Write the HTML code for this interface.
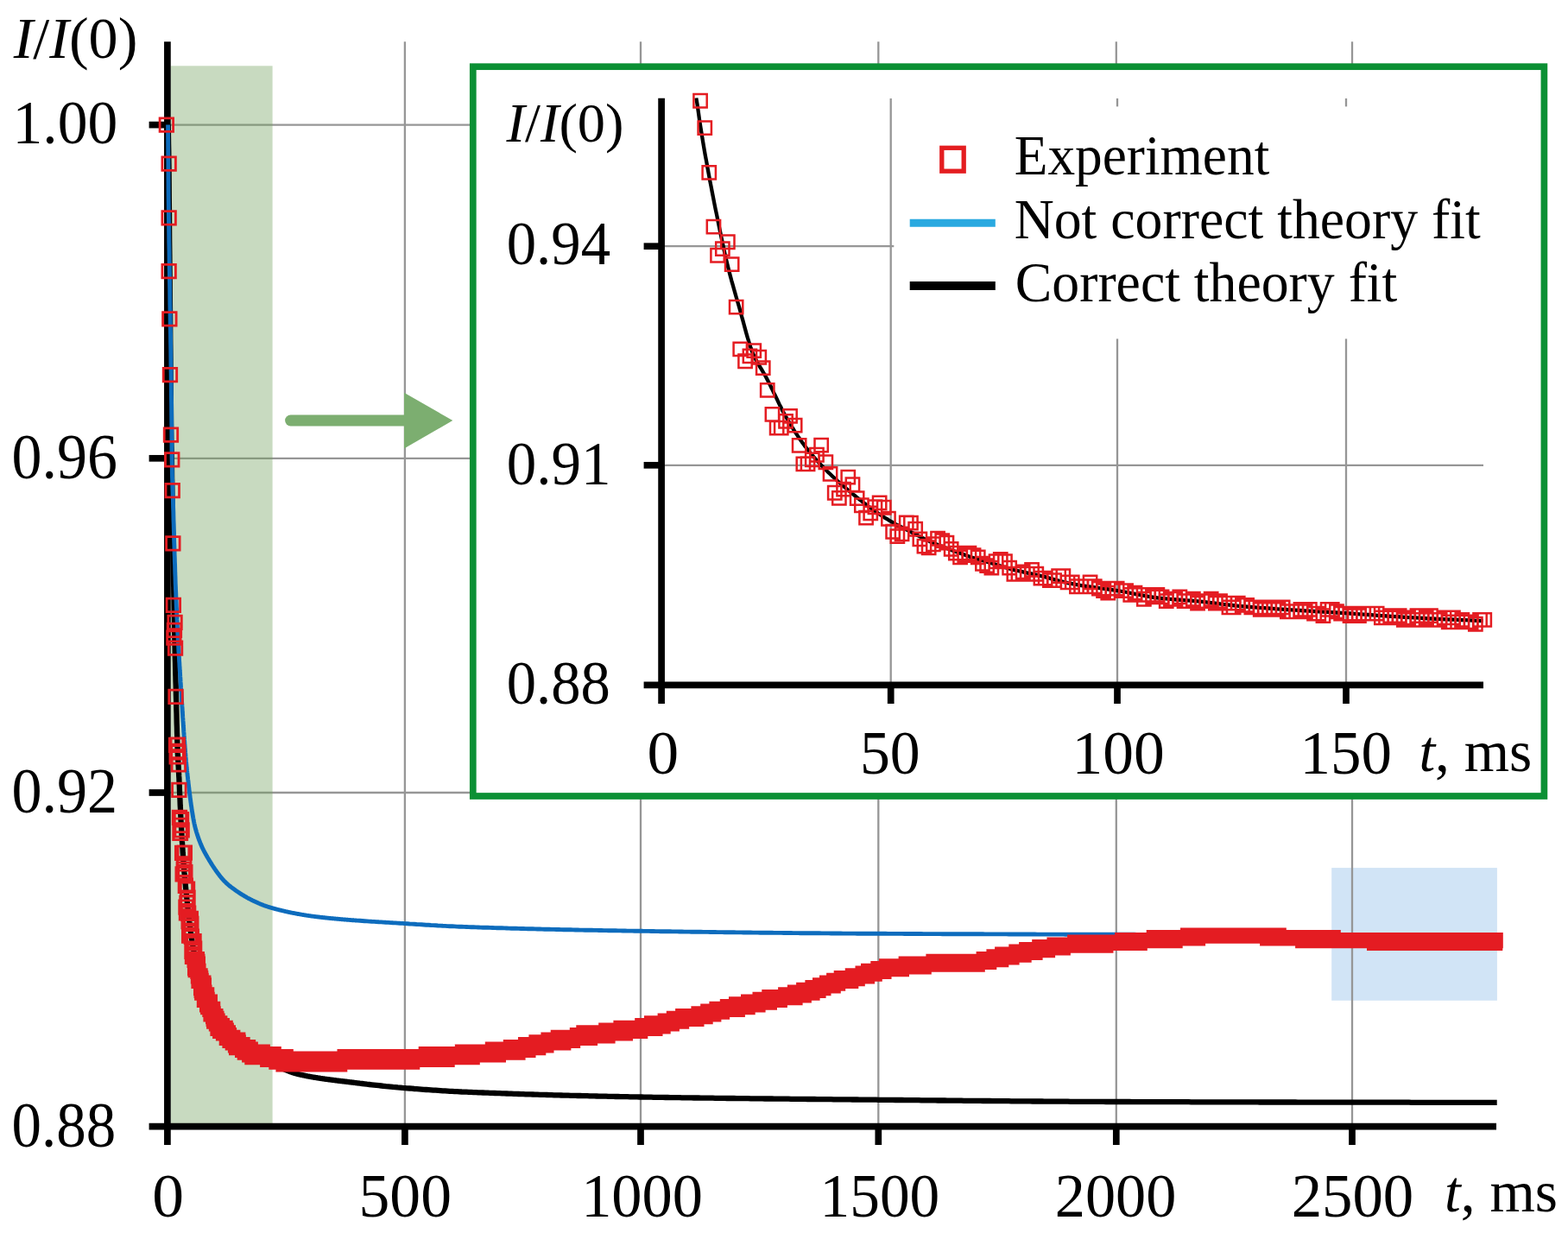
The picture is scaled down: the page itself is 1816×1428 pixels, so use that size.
<!DOCTYPE html>
<html lang="en"><head><meta charset="utf-8"><title>I/I(0) relaxation: experiment and theory fits</title>
<style>html,body{margin:0;padding:0;background:#fff;}body{width:1816px;height:1428px;overflow:hidden;}svg{display:block;}text{font-family:"Liberation Serif","DejaVu Serif",serif;fill:#000;}.i{font-style:italic;}</style></head><body>
<svg width="1816" height="1428" viewBox="0 0 1816 1428">
<defs><filter id="soft" x="-2%" y="-2%" width="104%" height="104%"><feGaussianBlur stdDeviation="0.65"/></filter></defs>
<rect width="1816" height="1428" fill="#fff"/>
<rect x="1542.2" y="1005.1" width="191.7" height="153.7" fill="#d1e4f6"/>
<g stroke="#969696" stroke-width="2.3" fill="none">
<line x1="468.9" y1="48.3" x2="468.9" y2="1304.7"/>
<line x1="742.0" y1="48.3" x2="742.0" y2="1304.7"/>
<line x1="1017.3" y1="48.3" x2="1017.3" y2="1304.7"/>
<line x1="1292.8" y1="48.3" x2="1292.8" y2="1304.7"/>
<line x1="1566.0" y1="48.3" x2="1566.0" y2="1304.7"/>
<line x1="193.9" y1="144.6" x2="1733" y2="144.6"/>
<line x1="193.9" y1="530.8" x2="1733" y2="530.8"/>
<line x1="193.9" y1="918.0" x2="1733" y2="918.0"/>
</g>
<rect x="197.6" y="76.3" width="118.0" height="1224.7" fill="#6f9d5a" fill-opacity="0.38"/>
<g stroke="#000" stroke-width="7.7" fill="none">
<line x1="193.9" y1="48.3" x2="193.9" y2="1326"/>
<line x1="172.6" y1="1304.7" x2="1733" y2="1304.7"/>
<line x1="468.9" y1="1304.7" x2="468.9" y2="1326"/>
<line x1="742.0" y1="1304.7" x2="742.0" y2="1326"/>
<line x1="1017.3" y1="1304.7" x2="1017.3" y2="1326"/>
<line x1="1292.8" y1="1304.7" x2="1292.8" y2="1326"/>
<line x1="1566.0" y1="1304.7" x2="1566.0" y2="1326"/>
<line x1="172.6" y1="144.6" x2="193.9" y2="144.6"/>
<line x1="172.6" y1="530.8" x2="193.9" y2="530.8"/>
<line x1="172.6" y1="918.0" x2="193.9" y2="918.0"/>
</g>
<path d="M194.6,144.6 L194.7,147.3 L194.9,152.1 L195.0,158.7 L195.1,166.7 L195.3,175.8 L195.4,185.6 L195.6,196.7 L195.7,212.0 L195.8,229.6 L196.0,247.2 L196.1,263.3 L196.2,279.3 L196.4,295.1 L196.5,310.5 L196.7,325.1 L196.8,338.8 L196.9,352.5 L197.1,366.9 L197.2,382.4 L197.3,398.8 L197.5,415.7 L197.6,432.8 L197.8,451.6 L197.9,472.2 L198.0,490.7 L198.2,503.5 L198.3,510.7 L198.4,515.8 L198.6,520.4 L198.7,525.9 L198.9,533.6 L199.0,543.5 L199.1,554.4 L199.3,564.9 L199.4,574.3 L199.5,583.4 L199.7,592.3 L199.8,600.9 L199.9,609.5 L200.1,617.8 L200.2,626.1 L200.4,634.2 L200.5,642.1 L200.6,649.9 L200.8,657.7 L200.9,665.3 L201.0,672.8 L201.2,680.2 L201.3,687.6 L201.5,694.9 L201.6,702.1 L201.7,709.4 L201.9,716.6 L202.0,723.7 L202.1,730.7 L202.3,737.5 L202.4,744.0 L202.6,750.2 L202.7,756.2 L202.8,762.0 L203.0,767.6 L203.1,773.1 L203.2,778.5 L203.4,783.8 L203.5,789.1 L203.7,794.3 L203.8,799.5 L203.9,804.7 L204.1,810.1 L204.2,815.5 L204.3,821.1 L204.5,826.7 L204.6,832.2 L204.7,837.7 L204.9,843.0 L205.0,848.2 L205.2,853.1 L205.3,857.7 L205.4,861.9 L205.6,865.8 L205.7,869.2 L205.8,872.4 L206.0,875.4 L206.1,878.2 L206.3,880.8 L206.4,883.3 L206.5,885.8 L206.7,888.2 L206.8,890.7 L206.9,893.2 L207.1,895.9 L207.2,898.7 L207.4,901.5 L207.5,904.5 L207.6,907.5 L207.8,910.6 L207.9,913.7 L208.0,916.8 L208.2,919.9 L208.3,923.1 L208.5,926.2 L208.6,929.4 L208.7,932.5 L208.9,935.5 L209.0,938.6 L209.1,941.5 L209.3,944.4 L209.4,947.2 L209.5,950.0 L209.7,952.6 L209.8,955.2 L210.0,957.7 L210.1,960.2 L210.2,962.6 L210.4,965.1 L210.5,967.5 L210.6,969.8 L210.8,972.2 L210.9,974.4 L211.1,976.7 L211.2,978.9 L211.3,981.1 L211.5,983.2 L211.6,985.3 L211.7,987.4 L211.9,989.4 L212.0,991.4 L212.2,993.3 L212.3,995.2 L212.4,997.0 L212.6,998.9 L212.7,1000.7 L212.8,1002.4 L213.0,1004.2 L213.1,1005.9 L213.3,1007.5 L213.4,1009.2 L213.5,1010.8 L213.7,1012.4 L213.8,1014.0 L213.9,1015.6 L214.1,1017.1 L214.2,1018.6 L214.3,1020.2 L214.5,1021.7 L214.6,1023.2 L214.8,1024.6 L214.9,1026.1 L215.0,1027.5 L215.2,1029.0 L215.3,1030.4 L215.4,1031.7 L215.6,1033.1 L215.7,1034.5 L215.9,1035.8 L216.0,1037.1 L216.1,1038.5 L216.3,1039.8 L216.4,1041.1 L216.5,1042.4 L216.7,1043.6 L216.8,1044.9 L217.0,1046.2 L217.1,1047.5 L217.2,1048.7 L217.4,1050.0 L217.5,1051.3 L217.6,1052.5 L217.8,1053.8 L217.9,1055.0 L218.1,1056.3 L218.2,1057.5 L218.3,1058.7 L218.5,1059.9 L218.6,1061.1 L218.7,1062.3 L218.9,1063.5 L219.0,1064.6 L219.1,1065.8 L219.3,1066.9 L219.4,1068.1 L219.6,1069.2 L219.7,1070.3 L219.8,1071.3 L220.0,1072.4 L220.1,1073.5 L220.2,1074.6 L220.4,1075.6 L220.5,1076.7 L220.7,1077.7 L220.8,1078.7 L220.9,1079.7 L221.1,1080.7 L221.2,1081.7 L221.3,1082.7 L221.5,1083.7 L221.6,1084.6 L221.8,1085.6 L221.9,1086.5 L222.0,1087.4 L222.2,1088.3 L222.3,1089.2 L222.4,1090.0 L222.6,1090.9 L222.7,1091.7 L222.9,1092.5 L223.0,1093.3 L223.1,1094.1 L223.3,1094.9 L223.4,1095.7 L223.5,1096.5 L223.7,1097.2 L223.8,1098.0 L224.0,1098.7 L224.1,1099.5 L224.2,1100.3 L224.4,1101.0 L224.5,1101.8 L224.6,1102.6 L224.8,1103.4 L224.9,1104.2 L225.0,1104.9 L225.2,1105.7 L225.3,1106.5 L225.5,1107.3 L225.6,1108.1 L225.7,1108.9 L225.9,1109.7 L226.0,1110.4 L226.1,1111.2 L226.3,1111.9 L226.4,1112.7 L226.6,1113.4 L226.7,1114.1 L226.8,1114.8 L227.0,1115.4 L227.1,1116.1 L227.2,1116.7 L227.4,1117.4 L227.5,1118.0 L228.1,1120.4 L228.6,1122.7 L229.2,1125.0 L229.7,1127.2 L230.3,1129.5 L230.8,1131.7 L231.4,1133.8 L231.9,1135.8 L232.5,1137.7 L233.0,1139.5 L233.6,1141.3 L234.1,1143.0 L234.6,1144.9 L235.2,1146.8 L235.7,1148.7 L236.3,1150.5 L236.8,1152.2 L237.4,1153.6 L237.9,1155.0 L238.5,1156.2 L239.0,1157.5 L239.6,1158.8 L240.1,1160.3 L240.7,1161.8 L241.2,1163.4 L241.8,1165.1 L242.3,1166.7 L242.9,1168.2 L243.4,1169.7 L244.0,1171.0 L244.5,1172.1 L245.1,1173.1 L245.6,1174.1 L246.2,1174.9 L246.7,1175.7 L247.3,1176.5 L247.8,1177.3 L248.4,1178.1 L248.9,1179.0 L249.5,1180.0 L250.0,1181.0 L250.6,1182.2 L251.1,1183.4 L251.7,1184.6 L252.2,1185.8 L252.8,1186.9 L253.3,1188.0 L253.8,1188.9 L254.4,1189.7 L254.9,1190.3 L255.5,1190.8 L256.0,1191.3 L256.6,1191.8 L257.1,1192.3 L257.7,1192.7 L258.2,1193.2 L258.8,1193.7 L259.3,1194.3 L259.9,1195.0 L260.4,1195.6 L261.0,1196.4 L261.5,1197.1 L262.1,1197.8 L262.6,1198.6 L263.2,1199.2 L263.7,1199.9 L264.3,1200.4 L264.8,1201.0 L265.4,1201.5 L265.9,1201.9 L266.5,1202.4 L267.0,1202.8 L267.6,1203.3 L268.1,1203.7 L268.7,1204.1 L269.2,1204.5 L269.8,1204.9 L270.3,1205.3 L270.9,1205.7 L271.4,1206.1 L272.0,1206.4 L272.5,1206.8 L273.0,1207.2 L273.6,1207.5 L274.1,1207.9 L274.7,1208.2 L275.2,1208.6 L275.8,1209.0 L276.3,1209.4 L276.9,1209.7 L277.4,1210.1 L278.0,1210.5 L278.5,1211.0 L279.1,1211.4 L279.6,1211.8 L280.2,1212.2 L280.7,1212.7 L281.3,1213.1 L281.8,1213.5 L282.4,1213.9 L282.9,1214.3 L283.5,1214.7 L284.0,1215.0 L284.6,1215.4 L285.1,1215.7 L285.7,1216.0 L286.2,1216.4 L286.8,1216.7 L287.3,1217.0 L287.9,1217.3 L288.4,1217.5 L289.0,1217.8 L289.5,1218.1 L290.1,1218.3 L290.6,1218.6 L291.2,1218.8 L291.7,1219.1 L292.3,1219.3 L292.8,1219.5 L293.3,1219.8 L293.9,1220.0 L294.4,1220.3 L295.0,1220.5 L295.5,1220.8 L296.1,1221.0 L296.6,1221.3 L297.2,1221.6 L297.7,1221.8 L298.3,1222.1 L298.8,1222.4 L299.4,1222.6 L299.9,1222.9 L300.5,1223.2 L301.0,1223.5 L301.6,1223.8 L302.1,1224.0 L302.7,1224.3 L303.2,1224.6 L303.8,1224.9 L304.3,1225.2 L304.9,1225.5 L305.4,1225.8 L306.0,1226.1 L306.5,1226.4 L307.1,1226.7 L307.6,1227.0 L308.2,1227.3 L308.7,1227.6 L309.3,1227.8 L309.8,1228.1 L310.4,1228.4 L310.9,1228.7 L311.5,1229.0 L312.0,1229.3 L312.5,1229.6 L313.1,1229.9 L313.6,1230.2 L314.2,1230.5 L314.7,1230.8 L315.3,1231.1 L315.8,1231.4 L316.4,1231.7 L316.9,1232.0 L317.5,1232.3 L318.0,1232.6 L318.6,1232.9 L319.1,1233.2 L319.7,1233.5 L320.2,1233.8 L320.8,1234.1 L321.3,1234.4 L321.9,1234.6 L322.4,1234.9 L323.0,1235.2 L323.5,1235.5 L324.1,1235.8 L324.6,1236.0 L325.2,1236.3 L325.7,1236.6 L326.3,1236.9 L326.8,1237.1 L327.4,1237.4 L327.9,1237.6 L328.5,1237.9 L329.0,1238.2 L329.6,1238.4 L330.1,1238.7 L330.7,1238.9 L331.2,1239.2 L331.8,1239.4 L332.3,1239.6 L332.8,1239.9 L333.4,1240.1 L333.9,1240.3 L334.5,1240.5 L335.0,1240.8 L335.6,1241.0 L336.1,1241.2 L336.7,1241.4 L337.2,1241.6 L337.8,1241.8 L338.3,1242.0 L338.9,1242.2 L339.4,1242.4 L340.0,1242.5 L340.5,1242.7 L341.1,1242.9 L341.6,1243.0 L342.2,1243.2 L342.7,1243.4 L343.3,1243.5 L343.8,1243.7 L344.4,1243.8 L344.9,1243.9 L345.5,1244.1 L346.0,1244.2 L346.6,1244.3 L347.1,1244.4 L347.7,1244.6 L348.2,1244.7 L348.8,1244.8 L349.3,1244.9 L349.9,1245.0 L350.4,1245.2 L351.0,1245.3 L351.5,1245.4 L352.0,1245.5 L352.6,1245.6 L353.1,1245.7 L353.7,1245.8 L354.2,1246.0 L354.8,1246.1 L355.3,1246.2 L355.9,1246.3 L356.4,1246.4 L357.0,1246.5 L357.5,1246.6 L358.1,1246.7 L358.6,1246.8 L359.2,1246.9 L359.7,1247.0 L360.3,1247.1 L360.8,1247.2 L361.4,1247.3 L361.9,1247.4 L362.5,1247.5 L363.0,1247.6 L363.6,1247.7 L364.1,1247.8 L364.7,1247.9 L365.2,1247.9 L365.8,1248.0 L366.3,1248.1 L366.9,1248.2 L367.4,1248.3 L368.0,1248.4 L368.5,1248.5 L369.1,1248.6 L369.6,1248.6 L370.2,1248.7 L370.7,1248.8 L371.2,1248.9 L371.8,1249.0 L372.3,1249.1 L372.9,1249.1 L373.4,1249.2 L374.0,1249.3 L374.5,1249.4 L375.1,1249.5 L375.6,1249.5 L376.2,1249.6 L376.7,1249.7 L377.3,1249.8 L377.8,1249.8 L378.4,1249.9 L378.9,1250.0 L379.5,1250.1 L380.0,1250.1 L380.6,1250.2 L381.1,1250.3 L381.7,1250.4 L382.2,1250.4 L382.8,1250.5 L383.3,1250.6 L383.9,1250.7 L384.4,1250.7 L385.0,1250.8 L385.5,1250.9 L386.1,1250.9 L386.6,1251.0 L387.2,1251.1 L387.7,1251.1 L388.3,1251.2 L388.8,1251.3 L389.4,1251.3 L389.9,1251.4 L390.5,1251.5 L391.0,1251.6 L391.5,1251.6 L392.1,1251.7 L392.6,1251.8 L393.2,1251.8 L393.7,1251.9 L394.3,1252.0 L394.8,1252.0 L395.4,1252.1 L395.9,1252.1 L396.5,1252.2 L397.0,1252.3 L397.6,1252.3 L398.1,1252.4 L398.7,1252.5 L399.2,1252.5 L399.8,1252.6 L400.3,1252.7 L400.9,1252.7 L401.4,1252.8 L402.0,1252.9 L402.5,1252.9 L403.1,1253.0 L403.6,1253.1 L404.2,1253.1 L404.7,1253.2 L405.3,1253.3 L405.8,1253.3 L406.4,1253.4 L406.9,1253.5 L407.5,1253.5 L408.0,1253.6 L408.6,1253.7 L409.1,1253.7 L409.7,1253.8 L410.2,1253.9 L410.7,1253.9 L411.3,1254.0 L411.8,1254.1 L412.4,1254.1 L412.9,1254.2 L413.5,1254.3 L414.0,1254.3 L416.8,1254.7 L419.5,1255.0 L422.3,1255.3 L425.0,1255.7 L427.8,1256.0 L430.5,1256.3 L433.2,1256.6 L436.0,1256.9 L438.7,1257.2 L441.5,1257.5 L444.2,1257.8 L447.0,1258.1 L449.7,1258.3 L452.4,1258.6 L455.2,1258.9 L457.9,1259.1 L460.7,1259.4 L463.4,1259.6 L466.2,1259.9 L468.9,1260.1 L471.6,1260.3 L474.4,1260.5 L477.1,1260.7 L479.9,1261.0 L482.6,1261.2 L485.4,1261.4 L488.1,1261.6 L490.8,1261.8 L493.6,1262.0 L496.3,1262.2 L499.1,1262.4 L501.8,1262.6 L504.6,1262.7 L507.3,1262.9 L510.0,1263.1 L512.8,1263.3 L515.5,1263.4 L518.3,1263.6 L521.0,1263.8 L523.8,1263.9 L526.5,1264.1 L529.2,1264.2 L532.0,1264.3 L534.7,1264.5 L537.5,1264.6 L540.2,1264.7 L543.0,1264.8 L545.7,1264.9 L548.4,1265.1 L551.2,1265.2 L553.9,1265.3 L556.7,1265.4 L559.4,1265.5 L562.2,1265.6 L564.9,1265.7 L567.6,1265.8 L570.4,1265.9 L573.1,1266.0 L575.9,1266.1 L578.6,1266.2 L581.4,1266.3 L584.1,1266.4 L586.8,1266.5 L589.6,1266.6 L592.3,1266.7 L595.1,1266.8 L597.8,1266.9 L600.6,1267.0 L603.3,1267.1 L606.0,1267.2 L608.8,1267.3 L611.5,1267.4 L614.3,1267.4 L617.0,1267.5 L619.8,1267.6 L622.5,1267.7 L625.3,1267.8 L628.0,1267.9 L630.7,1267.9 L633.5,1268.0 L636.2,1268.1 L639.0,1268.2 L641.7,1268.3 L644.5,1268.3 L647.2,1268.4 L649.9,1268.5 L652.7,1268.6 L655.4,1268.6 L658.2,1268.7 L660.9,1268.8 L663.7,1268.8 L666.4,1268.9 L669.1,1269.0 L671.9,1269.0 L674.6,1269.1 L677.4,1269.2 L680.1,1269.2 L682.9,1269.3 L685.6,1269.4 L688.3,1269.4 L691.1,1269.5 L693.8,1269.6 L696.6,1269.6 L699.3,1269.7 L702.1,1269.7 L704.8,1269.8 L707.5,1269.9 L710.3,1269.9 L713.0,1270.0 L715.8,1270.0 L718.5,1270.1 L721.3,1270.1 L724.0,1270.2 L726.7,1270.2 L729.5,1270.3 L732.2,1270.3 L735.0,1270.4 L737.7,1270.4 L740.5,1270.5 L743.2,1270.5 L745.9,1270.6 L748.7,1270.6 L751.4,1270.7 L754.2,1270.7 L756.9,1270.8 L759.7,1270.8 L762.4,1270.8 L765.1,1270.9 L767.9,1270.9 L770.6,1271.0 L773.4,1271.0 L776.1,1271.1 L778.9,1271.1 L781.6,1271.1 L784.3,1271.2 L787.1,1271.2 L789.8,1271.3 L792.6,1271.3 L795.3,1271.3 L798.1,1271.4 L800.8,1271.4 L803.5,1271.5 L806.3,1271.5 L809.0,1271.5 L811.8,1271.6 L814.5,1271.6 L817.3,1271.6 L820.0,1271.7 L822.7,1271.7 L825.5,1271.7 L828.2,1271.8 L831.0,1271.8 L833.7,1271.8 L836.5,1271.9 L839.2,1271.9 L841.9,1272.0 L844.7,1272.0 L847.4,1272.0 L850.2,1272.0 L852.9,1272.1 L855.7,1272.1 L858.4,1272.1 L861.1,1272.2 L863.9,1272.2 L866.6,1272.2 L869.4,1272.3 L872.1,1272.3 L874.9,1272.3 L877.6,1272.4 L880.4,1272.4 L883.1,1272.4 L885.8,1272.5 L888.6,1272.5 L891.3,1272.5 L894.1,1272.5 L896.8,1272.6 L899.6,1272.6 L902.3,1272.6 L905.0,1272.7 L907.8,1272.7 L910.5,1272.7 L913.3,1272.7 L916.0,1272.8 L918.8,1272.8 L921.5,1272.8 L924.2,1272.9 L927.0,1272.9 L929.7,1272.9 L932.5,1272.9 L935.2,1273.0 L938.0,1273.0 L940.7,1273.0 L943.4,1273.0 L946.2,1273.1 L948.9,1273.1 L951.7,1273.1 L954.4,1273.2 L957.2,1273.2 L959.9,1273.2 L962.6,1273.2 L965.4,1273.3 L968.1,1273.3 L970.9,1273.3 L973.6,1273.3 L976.4,1273.4 L979.1,1273.4 L981.8,1273.4 L984.6,1273.4 L987.3,1273.5 L990.1,1273.5 L992.8,1273.5 L995.6,1273.6 L998.3,1273.6 L1001.0,1273.6 L1003.8,1273.6 L1006.5,1273.7 L1009.3,1273.7 L1012.0,1273.7 L1014.8,1273.7 L1017.5,1273.8 L1020.2,1273.8 L1023.0,1273.8 L1025.7,1273.9 L1028.5,1273.9 L1031.2,1273.9 L1034.0,1273.9 L1036.7,1274.0 L1039.4,1274.0 L1042.2,1274.0 L1044.9,1274.0 L1047.7,1274.1 L1050.4,1274.1 L1053.2,1274.1 L1055.9,1274.2 L1058.6,1274.2 L1061.4,1274.2 L1064.1,1274.2 L1066.9,1274.3 L1069.6,1274.3 L1072.4,1274.3 L1075.1,1274.4 L1077.8,1274.4 L1080.6,1274.4 L1083.3,1274.4 L1086.1,1274.5 L1088.8,1274.5 L1091.6,1274.5 L1094.3,1274.5 L1097.0,1274.6 L1099.8,1274.6 L1102.5,1274.6 L1105.3,1274.7 L1108.0,1274.7 L1110.8,1274.7 L1113.5,1274.7 L1116.2,1274.8 L1119.0,1274.8 L1121.7,1274.8 L1124.5,1274.8 L1127.2,1274.9 L1130.0,1274.9 L1132.7,1274.9 L1135.4,1274.9 L1138.2,1275.0 L1140.9,1275.0 L1143.7,1275.0 L1146.4,1275.0 L1149.2,1275.1 L1151.9,1275.1 L1154.6,1275.1 L1157.4,1275.1 L1160.1,1275.2 L1162.9,1275.2 L1165.6,1275.2 L1168.4,1275.2 L1171.1,1275.3 L1173.9,1275.3 L1176.6,1275.3 L1179.3,1275.3 L1182.1,1275.4 L1184.8,1275.4 L1187.6,1275.4 L1190.3,1275.4 L1193.1,1275.4 L1195.8,1275.5 L1198.5,1275.5 L1201.3,1275.5 L1204.0,1275.5 L1206.8,1275.5 L1209.5,1275.6 L1212.3,1275.6 L1215.0,1275.6 L1217.7,1275.6 L1220.5,1275.6 L1223.2,1275.7 L1226.0,1275.7 L1228.7,1275.7 L1231.5,1275.7 L1234.2,1275.7 L1236.9,1275.7 L1239.7,1275.8 L1242.4,1275.8 L1245.2,1275.8 L1247.9,1275.8 L1250.7,1275.8 L1253.4,1275.8 L1256.1,1275.8 L1258.9,1275.9 L1261.6,1275.9 L1264.4,1275.9 L1267.1,1275.9 L1269.9,1275.9 L1272.6,1275.9 L1275.3,1275.9 L1278.1,1275.9 L1280.8,1276.0 L1283.6,1276.0 L1286.3,1276.0 L1289.1,1276.0 L1291.8,1276.0 L1294.5,1276.0 L1297.3,1276.0 L1300.0,1276.0 L1302.8,1276.0 L1305.5,1276.0 L1308.3,1276.0 L1311.0,1276.1 L1313.7,1276.1 L1316.5,1276.1 L1319.2,1276.1 L1322.0,1276.1 L1324.7,1276.1 L1327.5,1276.1 L1330.2,1276.1 L1332.9,1276.1 L1335.7,1276.1 L1338.4,1276.1 L1341.2,1276.1 L1343.9,1276.2 L1346.7,1276.2 L1349.4,1276.2 L1352.1,1276.2 L1354.9,1276.2 L1357.6,1276.2 L1360.4,1276.2 L1363.1,1276.2 L1365.9,1276.2 L1368.6,1276.2 L1371.3,1276.2 L1374.1,1276.2 L1376.8,1276.2 L1379.6,1276.3 L1382.3,1276.3 L1385.1,1276.3 L1387.8,1276.3 L1390.5,1276.3 L1393.3,1276.3 L1396.0,1276.3 L1398.8,1276.3 L1401.5,1276.3 L1404.3,1276.3 L1407.0,1276.3 L1409.7,1276.3 L1412.5,1276.3 L1415.2,1276.3 L1418.0,1276.4 L1420.7,1276.4 L1423.5,1276.4 L1426.2,1276.4 L1428.9,1276.4 L1431.7,1276.4 L1434.4,1276.4 L1437.2,1276.4 L1439.9,1276.4 L1442.7,1276.4 L1445.4,1276.4 L1448.2,1276.4 L1450.9,1276.4 L1453.6,1276.4 L1456.4,1276.4 L1459.1,1276.5 L1461.9,1276.5 L1464.6,1276.5 L1467.4,1276.5 L1470.1,1276.5 L1472.8,1276.5 L1475.6,1276.5 L1478.3,1276.5 L1481.1,1276.5 L1483.8,1276.5 L1486.6,1276.5 L1489.3,1276.5 L1492.0,1276.5 L1494.8,1276.5 L1497.5,1276.5 L1500.3,1276.5 L1503.0,1276.6 L1505.8,1276.6 L1508.5,1276.6 L1511.2,1276.6 L1514.0,1276.6 L1516.7,1276.6 L1519.5,1276.6 L1522.2,1276.6 L1525.0,1276.6 L1527.7,1276.6 L1530.4,1276.6 L1533.2,1276.6 L1535.9,1276.6 L1538.7,1276.6 L1541.4,1276.6 L1544.2,1276.6 L1546.9,1276.6 L1549.6,1276.6 L1552.4,1276.6 L1555.1,1276.6 L1557.9,1276.7 L1560.6,1276.7 L1563.4,1276.7 L1566.1,1276.7 L1568.8,1276.7 L1571.6,1276.7 L1574.3,1276.7 L1577.1,1276.7 L1579.8,1276.7 L1582.6,1276.7 L1585.3,1276.7 L1588.0,1276.7 L1590.8,1276.7 L1593.5,1276.7 L1596.3,1276.7 L1599.0,1276.7 L1601.8,1276.7 L1604.5,1276.7 L1607.2,1276.7 L1610.0,1276.7 L1612.7,1276.7 L1615.5,1276.7 L1618.2,1276.7 L1621.0,1276.7 L1623.7,1276.7 L1626.4,1276.7 L1629.2,1276.7 L1631.9,1276.7 L1634.7,1276.8 L1637.4,1276.8 L1640.2,1276.8 L1642.9,1276.8 L1645.6,1276.8 L1648.4,1276.8 L1651.1,1276.8 L1653.9,1276.8 L1656.6,1276.8 L1659.4,1276.8 L1662.1,1276.8 L1664.8,1276.8 L1667.6,1276.8 L1670.3,1276.8 L1673.1,1276.8 L1675.8,1276.8 L1678.6,1276.8 L1681.3,1276.8 L1684.0,1276.8 L1686.8,1276.8 L1689.5,1276.8 L1692.3,1276.8 L1695.0,1276.8 L1697.8,1276.8 L1700.5,1276.8 L1703.2,1276.8 L1706.0,1276.8 L1708.7,1276.8 L1711.5,1276.8 L1714.2,1276.8 L1717.0,1276.8 L1719.7,1276.8 L1722.5,1276.8 L1725.2,1276.8 L1727.9,1276.8 L1730.7,1276.8 L1733.7,1276.8" fill="none" stroke="#000" stroke-width="6.3" stroke-linejoin="round"/>
<path d="M194.6,144.6 L194.7,166.9 L194.9,188.3 L195.0,207.8 L195.1,224.6 L195.3,238.2 L195.4,250.3 L195.6,261.3 L195.7,271.3 L195.8,280.6 L196.0,289.5 L196.1,298.0 L196.2,306.6 L196.4,315.3 L196.5,324.4 L196.7,334.1 L196.8,343.5 L196.9,352.6 L197.1,361.4 L197.2,370.1 L197.3,378.7 L197.5,387.4 L197.6,396.2 L197.8,405.2 L197.9,414.5 L198.0,424.1 L198.2,434.3 L198.3,445.0 L198.4,456.4 L198.6,468.5 L198.7,481.5 L198.9,499.5 L199.0,519.0 L199.1,531.6 L199.3,539.6 L199.4,546.4 L199.5,552.3 L199.7,557.4 L199.8,561.9 L199.9,566.1 L200.1,570.1 L200.2,574.1 L200.4,578.3 L200.5,582.9 L200.6,587.8 L200.8,592.7 L200.9,597.7 L201.0,602.6 L201.2,607.6 L201.3,612.5 L201.5,617.4 L201.6,622.3 L201.7,627.2 L201.9,632.0 L202.0,636.8 L202.1,641.5 L202.3,646.1 L202.4,650.6 L202.6,655.1 L202.7,659.4 L202.8,663.7 L203.0,667.8 L203.1,671.8 L203.2,675.6 L203.4,679.3 L203.5,682.9 L203.7,686.3 L203.8,689.6 L203.9,692.8 L204.1,696.0 L204.2,699.2 L204.3,702.3 L204.5,705.4 L204.6,708.4 L204.7,711.3 L204.9,714.3 L205.0,717.2 L205.2,720.0 L205.3,722.8 L205.4,725.6 L205.6,728.3 L205.7,731.0 L205.8,733.6 L206.0,736.3 L206.1,738.8 L206.3,741.4 L206.4,743.9 L206.5,746.4 L206.7,748.9 L206.8,751.3 L206.9,753.8 L207.1,756.1 L207.2,758.5 L207.4,760.9 L207.5,763.2 L207.6,765.5 L207.8,767.8 L207.9,770.0 L208.0,772.3 L208.2,774.5 L208.3,776.8 L208.5,779.0 L208.6,781.2 L208.7,783.4 L208.9,785.5 L209.0,787.7 L209.1,789.9 L209.3,792.0 L209.4,794.2 L209.5,796.4 L209.7,798.5 L209.8,800.7 L210.0,802.8 L210.1,805.0 L210.2,807.1 L210.4,809.3 L210.5,811.4 L210.6,813.6 L210.8,815.7 L210.9,817.9 L211.1,820.0 L211.2,822.2 L211.3,824.3 L211.5,826.5 L211.6,828.6 L211.7,830.7 L211.9,832.8 L212.0,834.9 L212.2,837.0 L212.3,839.1 L212.4,841.1 L212.6,843.2 L212.7,845.2 L212.8,847.2 L213.0,849.2 L213.1,851.2 L213.3,853.1 L213.4,855.1 L213.5,857.0 L213.7,858.9 L213.8,860.8 L213.9,862.6 L214.1,864.5 L214.2,866.3 L214.3,868.1 L214.5,869.8 L214.6,871.5 L214.8,873.2 L214.9,874.9 L215.0,876.5 L215.2,878.1 L215.3,879.7 L215.4,881.2 L215.6,882.7 L215.7,884.2 L215.9,885.6 L216.0,887.0 L216.1,888.4 L216.3,889.7 L216.4,891.0 L216.5,892.3 L216.7,893.6 L216.8,894.8 L217.0,896.1 L217.1,897.3 L217.2,898.6 L217.4,899.8 L217.5,901.0 L217.6,902.3 L217.8,903.5 L217.9,904.7 L218.1,905.9 L218.2,907.1 L218.3,908.3 L218.5,909.4 L218.6,910.6 L218.7,911.7 L218.9,912.9 L219.0,914.0 L219.1,915.2 L219.3,916.3 L219.4,917.4 L219.6,918.5 L219.7,919.6 L219.8,920.7 L220.0,921.8 L220.1,922.8 L220.2,923.9 L220.4,924.9 L220.5,926.0 L220.7,927.0 L220.8,928.0 L220.9,929.0 L221.1,930.0 L221.2,931.0 L221.3,932.0 L221.5,932.9 L221.6,933.9 L221.8,934.8 L221.9,935.7 L222.0,936.7 L222.2,937.6 L222.3,938.5 L222.4,939.4 L222.6,940.2 L222.7,941.1 L222.9,941.9 L223.0,942.8 L223.1,943.6 L223.3,944.4 L223.4,945.2 L223.5,946.0 L223.7,946.8 L223.8,947.6 L224.0,948.3 L224.1,949.1 L224.2,949.8 L224.4,950.5 L224.5,951.2 L224.6,951.9 L224.8,952.6 L224.9,953.3 L225.0,953.9 L225.2,954.6 L225.3,955.2 L225.5,955.8 L225.6,956.4 L225.7,957.0 L225.9,957.6 L226.0,958.1 L226.1,958.7 L226.3,959.2 L226.4,959.7 L226.6,960.2 L226.7,960.7 L226.8,961.2 L227.0,961.7 L227.1,962.2 L227.2,962.6 L227.4,963.1 L227.5,963.6 L228.1,965.4 L228.6,967.1 L229.2,968.8 L229.7,970.4 L230.3,971.9 L230.8,973.4 L231.4,974.8 L231.9,976.2 L232.5,977.5 L233.0,978.8 L233.6,980.1 L234.1,981.2 L234.6,982.4 L235.2,983.5 L235.7,984.6 L236.3,985.7 L236.8,986.7 L237.4,987.7 L237.9,988.7 L238.5,989.7 L239.0,990.7 L239.6,991.6 L240.1,992.6 L240.7,993.5 L241.2,994.5 L241.8,995.4 L242.3,996.3 L242.9,997.2 L243.4,998.1 L244.0,999.0 L244.5,999.9 L245.1,1000.8 L245.6,1001.6 L246.2,1002.5 L246.7,1003.3 L247.3,1004.2 L247.8,1005.0 L248.4,1005.8 L248.9,1006.6 L249.5,1007.4 L250.0,1008.2 L250.6,1009.0 L251.1,1009.7 L251.7,1010.5 L252.2,1011.2 L252.8,1012.0 L253.3,1012.7 L253.8,1013.4 L254.4,1014.1 L254.9,1014.8 L255.5,1015.5 L256.0,1016.1 L256.6,1016.8 L257.1,1017.4 L257.7,1018.1 L258.2,1018.7 L258.8,1019.3 L259.3,1019.9 L259.9,1020.5 L260.4,1021.0 L261.0,1021.6 L261.5,1022.1 L262.1,1022.7 L262.6,1023.2 L263.2,1023.7 L263.7,1024.2 L264.3,1024.7 L264.8,1025.1 L265.4,1025.6 L265.9,1026.0 L266.5,1026.5 L267.0,1026.9 L267.6,1027.3 L268.1,1027.7 L268.7,1028.1 L269.2,1028.5 L269.8,1028.9 L270.3,1029.3 L270.9,1029.7 L271.4,1030.1 L272.0,1030.5 L272.5,1030.9 L273.0,1031.3 L273.6,1031.7 L274.1,1032.1 L274.7,1032.4 L275.2,1032.8 L275.8,1033.2 L276.3,1033.5 L276.9,1033.9 L277.4,1034.3 L278.0,1034.6 L278.5,1035.0 L279.1,1035.3 L279.6,1035.7 L280.2,1036.0 L280.7,1036.3 L281.3,1036.7 L281.8,1037.0 L282.4,1037.3 L282.9,1037.7 L283.5,1038.0 L284.0,1038.3 L284.6,1038.6 L285.1,1038.9 L285.7,1039.3 L286.2,1039.6 L286.8,1039.9 L287.3,1040.2 L287.9,1040.5 L288.4,1040.8 L289.0,1041.1 L289.5,1041.3 L290.1,1041.6 L290.6,1041.9 L291.2,1042.2 L291.7,1042.5 L292.3,1042.8 L292.8,1043.0 L293.3,1043.3 L293.9,1043.6 L294.4,1043.8 L295.0,1044.1 L295.5,1044.3 L296.1,1044.6 L296.6,1044.8 L297.2,1045.1 L297.7,1045.3 L298.3,1045.6 L298.8,1045.8 L299.4,1046.1 L299.9,1046.3 L300.5,1046.5 L301.0,1046.7 L301.6,1047.0 L302.1,1047.2 L302.7,1047.4 L303.2,1047.6 L303.8,1047.8 L304.3,1048.1 L304.9,1048.3 L305.4,1048.5 L306.0,1048.7 L306.5,1048.9 L307.1,1049.1 L307.6,1049.3 L308.2,1049.5 L308.7,1049.6 L309.3,1049.8 L309.8,1050.0 L310.4,1050.2 L310.9,1050.4 L311.5,1050.5 L312.0,1050.7 L312.5,1050.9 L313.1,1051.0 L313.6,1051.2 L314.2,1051.4 L314.7,1051.5 L315.3,1051.7 L315.8,1051.8 L316.4,1052.0 L316.9,1052.1 L317.5,1052.3 L318.0,1052.4 L318.6,1052.6 L319.1,1052.7 L319.7,1052.9 L320.2,1053.0 L320.8,1053.2 L321.3,1053.3 L321.9,1053.4 L322.4,1053.6 L323.0,1053.7 L323.5,1053.9 L324.1,1054.0 L324.6,1054.1 L325.2,1054.3 L325.7,1054.4 L326.3,1054.5 L326.8,1054.7 L327.4,1054.8 L327.9,1054.9 L328.5,1055.0 L329.0,1055.2 L329.6,1055.3 L330.1,1055.4 L330.7,1055.6 L331.2,1055.7 L331.8,1055.8 L332.3,1055.9 L332.8,1056.0 L333.4,1056.2 L333.9,1056.3 L334.5,1056.4 L335.0,1056.5 L335.6,1056.6 L336.1,1056.7 L336.7,1056.9 L337.2,1057.0 L337.8,1057.1 L338.3,1057.2 L338.9,1057.3 L339.4,1057.4 L340.0,1057.5 L340.5,1057.6 L341.1,1057.7 L341.6,1057.8 L342.2,1057.9 L342.7,1058.0 L343.3,1058.1 L343.8,1058.2 L344.4,1058.4 L344.9,1058.5 L345.5,1058.5 L346.0,1058.6 L346.6,1058.7 L347.1,1058.8 L347.7,1058.9 L348.2,1059.0 L348.8,1059.1 L349.3,1059.2 L349.9,1059.3 L350.4,1059.4 L351.0,1059.5 L351.5,1059.6 L352.0,1059.7 L352.6,1059.8 L353.1,1059.8 L353.7,1059.9 L354.2,1060.0 L354.8,1060.1 L355.3,1060.2 L355.9,1060.3 L356.4,1060.4 L357.0,1060.4 L357.5,1060.5 L358.1,1060.6 L358.6,1060.7 L359.2,1060.8 L359.7,1060.8 L360.3,1060.9 L360.8,1061.0 L361.4,1061.1 L361.9,1061.1 L362.5,1061.2 L363.0,1061.3 L363.6,1061.4 L364.1,1061.4 L364.7,1061.5 L365.2,1061.6 L365.8,1061.6 L366.3,1061.7 L366.9,1061.8 L367.4,1061.8 L368.0,1061.9 L368.5,1062.0 L369.1,1062.0 L369.6,1062.1 L370.2,1062.2 L370.7,1062.2 L371.2,1062.3 L371.8,1062.4 L372.3,1062.4 L372.9,1062.5 L373.4,1062.5 L374.0,1062.6 L374.5,1062.7 L375.1,1062.7 L375.6,1062.8 L376.2,1062.8 L376.7,1062.9 L377.3,1063.0 L377.8,1063.0 L378.4,1063.1 L378.9,1063.1 L379.5,1063.2 L380.0,1063.2 L380.6,1063.3 L381.1,1063.4 L381.7,1063.4 L382.2,1063.5 L382.8,1063.5 L383.3,1063.6 L383.9,1063.6 L384.4,1063.7 L385.0,1063.7 L385.5,1063.8 L386.1,1063.8 L386.6,1063.9 L387.2,1063.9 L387.7,1064.0 L388.3,1064.0 L388.8,1064.1 L389.4,1064.1 L389.9,1064.2 L390.5,1064.2 L391.0,1064.3 L391.5,1064.3 L392.1,1064.4 L392.6,1064.4 L393.2,1064.5 L393.7,1064.5 L394.3,1064.6 L394.8,1064.6 L395.4,1064.7 L395.9,1064.7 L396.5,1064.8 L397.0,1064.8 L397.6,1064.9 L398.1,1064.9 L398.7,1065.0 L399.2,1065.0 L399.8,1065.0 L400.3,1065.1 L400.9,1065.1 L401.4,1065.2 L402.0,1065.2 L402.5,1065.3 L403.1,1065.3 L403.6,1065.4 L404.2,1065.4 L404.7,1065.4 L405.3,1065.5 L405.8,1065.5 L406.4,1065.6 L406.9,1065.6 L407.5,1065.7 L408.0,1065.7 L408.6,1065.7 L409.1,1065.8 L409.7,1065.8 L410.2,1065.9 L410.7,1065.9 L411.3,1065.9 L411.8,1066.0 L412.4,1066.0 L412.9,1066.1 L413.5,1066.1 L414.0,1066.1 L416.8,1066.3 L419.5,1066.5 L422.3,1066.7 L425.0,1066.9 L427.8,1067.1 L430.5,1067.3 L433.2,1067.4 L436.0,1067.6 L438.7,1067.8 L441.5,1067.9 L444.2,1068.1 L447.0,1068.3 L449.7,1068.4 L452.4,1068.6 L455.2,1068.8 L457.9,1068.9 L460.7,1069.1 L463.4,1069.3 L466.2,1069.4 L468.9,1069.6 L471.6,1069.8 L474.4,1070.0 L477.1,1070.1 L479.9,1070.3 L482.6,1070.5 L485.4,1070.6 L488.1,1070.8 L490.8,1071.0 L493.6,1071.2 L496.3,1071.3 L499.1,1071.5 L501.8,1071.6 L504.6,1071.8 L507.3,1072.0 L510.0,1072.1 L512.8,1072.3 L515.5,1072.4 L518.3,1072.6 L521.0,1072.7 L523.8,1072.8 L526.5,1072.9 L529.2,1073.1 L532.0,1073.2 L534.7,1073.3 L537.5,1073.4 L540.2,1073.5 L543.0,1073.6 L545.7,1073.7 L548.4,1073.8 L551.2,1073.9 L553.9,1074.0 L556.7,1074.1 L559.4,1074.2 L562.2,1074.2 L564.9,1074.3 L567.6,1074.4 L570.4,1074.5 L573.1,1074.6 L575.9,1074.7 L578.6,1074.8 L581.4,1074.8 L584.1,1074.9 L586.8,1075.0 L589.6,1075.1 L592.3,1075.2 L595.1,1075.2 L597.8,1075.3 L600.6,1075.4 L603.3,1075.5 L606.0,1075.5 L608.8,1075.6 L611.5,1075.7 L614.3,1075.8 L617.0,1075.8 L619.8,1075.9 L622.5,1076.0 L625.3,1076.0 L628.0,1076.1 L630.7,1076.2 L633.5,1076.2 L636.2,1076.3 L639.0,1076.4 L641.7,1076.4 L644.5,1076.5 L647.2,1076.5 L649.9,1076.6 L652.7,1076.7 L655.4,1076.7 L658.2,1076.8 L660.9,1076.8 L663.7,1076.9 L666.4,1077.0 L669.1,1077.0 L671.9,1077.1 L674.6,1077.1 L677.4,1077.2 L680.1,1077.2 L682.9,1077.3 L685.6,1077.3 L688.3,1077.4 L691.1,1077.4 L693.8,1077.5 L696.6,1077.5 L699.3,1077.6 L702.1,1077.6 L704.8,1077.7 L707.5,1077.7 L710.3,1077.8 L713.0,1077.8 L715.8,1077.9 L718.5,1077.9 L721.3,1078.0 L724.0,1078.0 L726.7,1078.1 L729.5,1078.1 L732.2,1078.1 L735.0,1078.2 L737.7,1078.2 L740.5,1078.3 L743.2,1078.3 L745.9,1078.4 L748.7,1078.4 L751.4,1078.4 L754.2,1078.5 L756.9,1078.5 L759.7,1078.6 L762.4,1078.6 L765.1,1078.7 L767.9,1078.7 L770.6,1078.7 L773.4,1078.8 L776.1,1078.8 L778.9,1078.9 L781.6,1078.9 L784.3,1078.9 L787.1,1079.0 L789.8,1079.0 L792.6,1079.1 L795.3,1079.1 L798.1,1079.1 L800.8,1079.2 L803.5,1079.2 L806.3,1079.2 L809.0,1079.3 L811.8,1079.3 L814.5,1079.4 L817.3,1079.4 L820.0,1079.4 L822.7,1079.5 L825.5,1079.5 L828.2,1079.5 L831.0,1079.6 L833.7,1079.6 L836.5,1079.6 L839.2,1079.7 L841.9,1079.7 L844.7,1079.7 L847.4,1079.8 L850.2,1079.8 L852.9,1079.9 L855.7,1079.9 L858.4,1079.9 L861.1,1080.0 L863.9,1080.0 L866.6,1080.0 L869.4,1080.0 L872.1,1080.1 L874.9,1080.1 L877.6,1080.1 L880.4,1080.2 L883.1,1080.2 L885.8,1080.2 L888.6,1080.3 L891.3,1080.3 L894.1,1080.3 L896.8,1080.4 L899.6,1080.4 L902.3,1080.4 L905.0,1080.4 L907.8,1080.5 L910.5,1080.5 L913.3,1080.5 L916.0,1080.5 L918.8,1080.6 L921.5,1080.6 L924.2,1080.6 L927.0,1080.7 L929.7,1080.7 L932.5,1080.7 L935.2,1080.7 L938.0,1080.7 L940.7,1080.8 L943.4,1080.8 L946.2,1080.8 L948.9,1080.8 L951.7,1080.9 L954.4,1080.9 L957.2,1080.9 L959.9,1080.9 L962.6,1081.0 L965.4,1081.0 L968.1,1081.0 L970.9,1081.0 L973.6,1081.0 L976.4,1081.1 L979.1,1081.1 L981.8,1081.1 L984.6,1081.1 L987.3,1081.1 L990.1,1081.1 L992.8,1081.2 L995.6,1081.2 L998.3,1081.2 L1001.0,1081.2 L1003.8,1081.2 L1006.5,1081.2 L1009.3,1081.3 L1012.0,1081.3 L1014.8,1081.3 L1017.5,1081.3 L1020.2,1081.3 L1023.0,1081.3 L1025.7,1081.3 L1028.5,1081.4 L1031.2,1081.4 L1034.0,1081.4 L1036.7,1081.4 L1039.4,1081.4 L1042.2,1081.4 L1044.9,1081.4 L1047.7,1081.5 L1050.4,1081.5 L1053.2,1081.5 L1055.9,1081.5 L1058.6,1081.5 L1061.4,1081.5 L1064.1,1081.5 L1066.9,1081.5 L1069.6,1081.6 L1072.4,1081.6 L1075.1,1081.6 L1077.8,1081.6 L1080.6,1081.6 L1083.3,1081.6 L1086.1,1081.6 L1088.8,1081.6 L1091.6,1081.7 L1094.3,1081.7 L1097.0,1081.7 L1099.8,1081.7 L1102.5,1081.7 L1105.3,1081.7 L1108.0,1081.7 L1110.8,1081.7 L1113.5,1081.7 L1116.2,1081.8 L1119.0,1081.8 L1121.7,1081.8 L1124.5,1081.8 L1127.2,1081.8 L1130.0,1081.8 L1132.7,1081.8 L1135.4,1081.8 L1138.2,1081.8 L1140.9,1081.9 L1143.7,1081.9 L1146.4,1081.9 L1149.2,1081.9 L1151.9,1081.9 L1154.6,1081.9 L1157.4,1081.9 L1160.1,1081.9 L1162.9,1081.9 L1165.6,1081.9 L1168.4,1082.0 L1171.1,1082.0 L1173.9,1082.0 L1176.6,1082.0 L1179.3,1082.0 L1182.1,1082.0 L1184.8,1082.0 L1187.6,1082.0 L1190.3,1082.0 L1193.1,1082.0 L1195.8,1082.0 L1198.5,1082.0 L1201.3,1082.1 L1204.0,1082.1 L1206.8,1082.1 L1209.5,1082.1 L1212.3,1082.1 L1215.0,1082.1 L1217.7,1082.1 L1220.5,1082.1 L1223.2,1082.1 L1226.0,1082.1 L1228.7,1082.1 L1231.5,1082.1 L1234.2,1082.2 L1236.9,1082.2 L1239.7,1082.2 L1242.4,1082.2 L1245.2,1082.2 L1247.9,1082.2 L1250.7,1082.2 L1253.4,1082.2 L1256.1,1082.2 L1258.9,1082.2 L1261.6,1082.2 L1264.4,1082.2 L1267.1,1082.2 L1269.9,1082.2 L1272.6,1082.3 L1275.3,1082.3 L1278.1,1082.3 L1280.8,1082.3 L1283.6,1082.3 L1286.3,1082.3 L1289.1,1082.3 L1291.8,1082.3 L1294.5,1082.3 L1297.3,1082.3 L1300.0,1082.3 L1302.8,1082.3 L1305.5,1082.3 L1308.3,1082.3 L1311.0,1082.3 L1313.7,1082.3 L1316.5,1082.4 L1319.2,1082.4 L1322.0,1082.4 L1324.7,1082.4 L1327.5,1082.4 L1330.2,1082.4 L1332.9,1082.4 L1335.7,1082.4 L1338.4,1082.4 L1341.2,1082.4 L1343.9,1082.4 L1346.7,1082.4 L1349.4,1082.4 L1352.1,1082.4 L1354.9,1082.4 L1357.6,1082.4 L1360.4,1082.5 L1363.1,1082.5 L1365.9,1082.5 L1368.6,1082.5 L1371.3,1082.5 L1374.1,1082.5 L1376.8,1082.5 L1379.6,1082.5 L1382.3,1082.5 L1385.1,1082.5 L1387.8,1082.5 L1390.5,1082.5 L1393.3,1082.5 L1396.0,1082.5 L1398.8,1082.5 L1401.5,1082.5 L1404.3,1082.5 L1407.0,1082.6 L1409.7,1082.6 L1412.5,1082.6 L1415.2,1082.6 L1418.0,1082.6 L1420.7,1082.6 L1423.5,1082.6 L1426.2,1082.6 L1428.9,1082.6 L1431.7,1082.6 L1434.4,1082.6 L1437.2,1082.6 L1439.9,1082.6 L1442.7,1082.6 L1445.4,1082.6 L1448.2,1082.6 L1450.9,1082.6 L1453.6,1082.6 L1456.4,1082.7 L1459.1,1082.7 L1461.9,1082.7 L1464.6,1082.7 L1467.4,1082.7 L1470.1,1082.7 L1472.8,1082.7 L1475.6,1082.7 L1478.3,1082.7 L1481.1,1082.7 L1483.8,1082.7 L1486.6,1082.7 L1489.3,1082.7 L1492.0,1082.7 L1494.8,1082.7 L1497.5,1082.7 L1500.3,1082.7 L1503.0,1082.7 L1505.8,1082.7 L1508.5,1082.8 L1511.2,1082.8 L1514.0,1082.8 L1516.7,1082.8 L1519.5,1082.8 L1522.2,1082.8 L1525.0,1082.8 L1527.7,1082.8 L1530.4,1082.8 L1533.2,1082.8 L1535.9,1082.8 L1538.7,1082.8 L1541.4,1082.8 L1544.2,1082.8 L1546.9,1082.8 L1549.6,1082.8 L1552.4,1082.8 L1555.1,1082.8 L1557.9,1082.8 L1560.6,1082.8 L1563.4,1082.8 L1566.1,1082.8 L1568.8,1082.8 L1571.6,1082.9 L1574.3,1082.9 L1577.1,1082.9 L1579.8,1082.9 L1582.6,1082.9 L1585.3,1082.9 L1588.0,1082.9 L1590.8,1082.9 L1593.5,1082.9 L1596.3,1082.9 L1599.0,1082.9 L1601.8,1082.9 L1604.5,1082.9 L1607.2,1082.9 L1610.0,1082.9 L1612.7,1082.9 L1615.5,1082.9 L1618.2,1082.9 L1621.0,1082.9 L1623.7,1082.9 L1626.4,1082.9 L1629.2,1082.9 L1631.9,1082.9 L1634.7,1082.9 L1637.4,1082.9 L1640.2,1082.9 L1642.9,1082.9 L1645.6,1082.9 L1648.4,1082.9 L1651.1,1082.9 L1653.9,1083.0 L1656.6,1083.0 L1659.4,1083.0 L1662.1,1083.0 L1664.8,1083.0 L1667.6,1083.0 L1670.3,1083.0 L1673.1,1083.0 L1675.8,1083.0 L1678.6,1083.0 L1681.3,1083.0 L1684.0,1083.0 L1686.8,1083.0 L1689.5,1083.0 L1692.3,1083.0 L1695.0,1083.0 L1697.8,1083.0 L1700.5,1083.0 L1703.2,1083.0 L1706.0,1083.0 L1708.7,1083.0 L1711.5,1083.0 L1714.2,1083.0 L1717.0,1083.0 L1719.7,1083.0 L1722.5,1083.0 L1725.2,1083.0 L1727.9,1083.0 L1730.7,1083.0 L1733.7,1083.0" fill="none" stroke="#0d6cbd" stroke-width="4.9" stroke-linejoin="round"/>
<path d="M185.1,136.9h15.5v15.5h-15.5zM187.9,181.8h15.5v15.5h-15.5zM187.9,244.7h15.5v15.5h-15.5zM187.9,306.4h15.5v15.5h-15.5zM188.6,361.6h15.5v15.5h-15.5zM189.2,426.4h15.5v15.5h-15.5zM190.2,495.8h15.5v15.5h-15.5zM191.5,524.6h15.5v15.5h-15.5zM192.0,560.4h15.5v15.5h-15.5zM192.6,621.7h15.5v15.5h-15.5zM193.1,693.1h15.5v15.5h-15.5zM193.6,730.9h15.5v15.5h-15.5zM194.2,722.2h15.5v15.5h-15.5zM194.8,713.2h15.5v15.5h-15.5zM195.3,742.9h15.5v15.5h-15.5zM195.8,799.1h15.5v15.5h-15.5zM196.3,855.1h15.5v15.5h-15.5zM196.9,868.7h15.5v15.5h-15.5zM197.5,862.1h15.5v15.5h-15.5zM198.0,854.8h15.5v15.5h-15.5zM198.6,863.7h15.5v15.5h-15.5zM199.1,877.7h15.5v15.5h-15.5zM199.6,907.2h15.5v15.5h-15.5zM200.2,939.2h15.5v15.5h-15.5zM200.7,957.2h15.5v15.5h-15.5zM201.2,957.2h15.5v15.5h-15.5zM201.8,948.1h15.5v15.5h-15.5zM202.3,941.5h15.5v15.5h-15.5zM202.9,953.7h15.5v15.5h-15.5zM203.4,980.1h15.5v15.5h-15.5zM203.9,1004.7h15.5v15.5h-15.5zM204.4,1004.6h15.5v15.5h-15.5zM205.0,999.0h15.5v15.5h-15.5zM205.5,992.6h15.5v15.5h-15.5zM206.1,979.8h15.5v15.5h-15.5zM206.6,1002.3h15.5v15.5h-15.5zM207.1,1018.0h15.5v15.5h-15.5zM207.7,1042.9h15.5v15.5h-15.5zM208.2,1049.7h15.5v15.5h-15.5zM208.7,1038.2h15.5v15.5h-15.5zM209.3,1022.0h15.5v15.5h-15.5zM209.8,1032.0h15.5v15.5h-15.5zM210.4,1050.0h15.5v15.5h-15.5zM210.9,1059.3h15.5v15.5h-15.5zM211.4,1075.8h15.5v15.5h-15.5zM212.0,1069.8h15.5v15.5h-15.5zM212.5,1061.7h15.5v15.5h-15.5zM213.1,1056.1h15.5v15.5h-15.5zM213.6,1062.2h15.5v15.5h-15.5zM214.1,1077.0h15.5v15.5h-15.5zM214.7,1094.2h15.5v15.5h-15.5zM215.2,1100.2h15.5v15.5h-15.5zM215.7,1097.3h15.5v15.5h-15.5zM216.3,1082.4h15.5v15.5h-15.5zM216.8,1082.5h15.5v15.5h-15.5zM217.4,1090.8h15.5v15.5h-15.5zM217.9,1104.0h15.5v15.5h-15.5zM218.4,1113.4h15.5v15.5h-15.5zM219.0,1115.3h15.5v15.5h-15.5zM219.5,1110.7h15.5v15.5h-15.5zM220.1,1103.3h15.5v15.5h-15.5zM220.6,1106.1h15.5v15.5h-15.5zM221.1,1108.8h15.5v15.5h-15.5zM221.7,1117.1h15.5v15.5h-15.5zM222.2,1122.6h15.5v15.5h-15.5zM222.8,1128.1h15.5v15.5h-15.5zM223.3,1125.4h15.5v15.5h-15.5zM223.8,1122.6h15.5v15.5h-15.5zM224.4,1125.4h15.5v15.5h-15.5zM224.9,1128.1h15.5v15.5h-15.5zM225.4,1136.4h15.5v15.5h-15.5zM226.0,1139.1h15.5v15.5h-15.5zM226.5,1141.9h15.5v15.5h-15.5zM227.1,1133.6h15.5v15.5h-15.5zM227.6,1130.9h15.5v15.5h-15.5zM228.1,1133.6h15.5v15.5h-15.5zM228.7,1141.9h15.5v15.5h-15.5zM229.2,1150.1h15.5v15.5h-15.5zM229.8,1150.1h15.5v15.5h-15.5zM230.3,1147.4h15.5v15.5h-15.5zM230.8,1150.1h15.5v15.5h-15.5zM231.4,1144.6h15.5v15.5h-15.5zM231.9,1150.1h15.5v15.5h-15.5zM232.4,1155.7h15.5v15.5h-15.5zM233.0,1155.7h15.5v15.5h-15.5zM233.5,1158.4h15.5v15.5h-15.5zM234.1,1158.4h15.5v15.5h-15.5zM234.6,1152.9h15.5v15.5h-15.5zM235.1,1152.9h15.5v15.5h-15.5zM235.7,1161.2h15.5v15.5h-15.5zM236.2,1161.2h15.5v15.5h-15.5zM236.8,1166.7h15.5v15.5h-15.5zM237.3,1166.7h15.5v15.5h-15.5zM237.8,1166.7h15.5v15.5h-15.5zM238.4,1161.2h15.5v15.5h-15.5zM238.9,1166.7h15.5v15.5h-15.5zM239.4,1169.4h15.5v15.5h-15.5zM240.0,1172.2h15.5v15.5h-15.5zM240.5,1174.9h15.5v15.5h-15.5zM241.1,1169.4h15.5v15.5h-15.5zM241.6,1169.4h15.5v15.5h-15.5zM242.1,1172.2h15.5v15.5h-15.5zM242.7,1172.2h15.5v15.5h-15.5zM243.2,1177.7h15.5v15.5h-15.5zM243.8,1174.9h15.5v15.5h-15.5zM244.3,1177.7h15.5v15.5h-15.5zM244.8,1183.2h15.5v15.5h-15.5zM245.4,1177.7h15.5v15.5h-15.5zM245.9,1180.5h15.5v15.5h-15.5zM246.5,1177.7h15.5v15.5h-15.5zM247.0,1180.5h15.5v15.5h-15.5zM247.5,1186.0h15.5v15.5h-15.5zM248.1,1183.2h15.5v15.5h-15.5zM248.6,1183.2h15.5v15.5h-15.5zM249.1,1180.5h15.5v15.5h-15.5zM249.7,1186.0h15.5v15.5h-15.5zM250.2,1186.0h15.5v15.5h-15.5zM250.8,1183.2h15.5v15.5h-15.5zM251.3,1188.7h15.5v15.5h-15.5zM251.8,1186.0h15.5v15.5h-15.5zM252.4,1186.0h15.5v15.5h-15.5zM252.9,1183.2h15.5v15.5h-15.5zM253.5,1188.7h15.5v15.5h-15.5zM254.0,1186.0h15.5v15.5h-15.5zM254.5,1188.7h15.5v15.5h-15.5zM255.1,1194.2h15.5v15.5h-15.5zM255.6,1194.2h15.5v15.5h-15.5zM256.1,1188.7h15.5v15.5h-15.5zM256.7,1191.5h15.5v15.5h-15.5zM257.2,1191.5h15.5v15.5h-15.5zM257.8,1194.2h15.5v15.5h-15.5zM258.3,1194.2h15.5v15.5h-15.5zM258.8,1197.0h15.5v15.5h-15.5zM259.4,1194.2h15.5v15.5h-15.5zM259.9,1194.2h15.5v15.5h-15.5zM260.5,1197.0h15.5v15.5h-15.5zM261.0,1197.0h15.5v15.5h-15.5zM261.5,1194.2h15.5v15.5h-15.5zM262.1,1199.7h15.5v15.5h-15.5zM262.6,1199.7h15.5v15.5h-15.5zM263.1,1199.7h15.5v15.5h-15.5zM263.7,1197.0h15.5v15.5h-15.5zM264.2,1199.7h15.5v15.5h-15.5zM264.8,1197.0h15.5v15.5h-15.5zM265.3,1202.5h15.5v15.5h-15.5zM265.8,1202.5h15.5v15.5h-15.5zM266.4,1205.3h15.5v15.5h-15.5zM266.9,1197.0h15.5v15.5h-15.5zM267.5,1197.0h15.5v15.5h-15.5zM268.0,1199.7h15.5v15.5h-15.5zM268.5,1202.5h15.5v15.5h-15.5zM269.1,1202.5h15.5v15.5h-15.5zM269.6,1205.3h15.5v15.5h-15.5zM270.2,1202.5h15.5v15.5h-15.5zM270.7,1205.3h15.5v15.5h-15.5zM271.2,1202.5h15.5v15.5h-15.5zM271.8,1202.5h15.5v15.5h-15.5zM272.3,1202.5h15.5v15.5h-15.5zM272.8,1202.5h15.5v15.5h-15.5zM273.4,1208.0h15.5v15.5h-15.5zM273.9,1208.0h15.5v15.5h-15.5zM274.5,1205.3h15.5v15.5h-15.5zM275.0,1208.0h15.5v15.5h-15.5zM275.5,1205.3h15.5v15.5h-15.5zM276.1,1210.8h15.5v15.5h-15.5zM276.6,1208.0h15.5v15.5h-15.5zM277.2,1210.8h15.5v15.5h-15.5zM277.7,1205.3h15.5v15.5h-15.5zM278.2,1210.8h15.5v15.5h-15.5zM278.8,1208.0h15.5v15.5h-15.5zM279.3,1205.3h15.5v15.5h-15.5zM279.8,1210.8h15.5v15.5h-15.5zM280.4,1210.8h15.5v15.5h-15.5zM280.9,1208.0h15.5v15.5h-15.5zM281.5,1213.5h15.5v15.5h-15.5zM282.0,1208.0h15.5v15.5h-15.5zM282.5,1213.5h15.5v15.5h-15.5zM283.1,1210.8h15.5v15.5h-15.5zM283.6,1213.5h15.5v15.5h-15.5zM284.2,1213.5h15.5v15.5h-15.5zM284.7,1216.3h15.5v15.5h-15.5zM285.2,1210.8h15.5v15.5h-15.5zM285.8,1210.8h15.5v15.5h-15.5zM286.3,1210.8h15.5v15.5h-15.5zM286.8,1213.5h15.5v15.5h-15.5zM287.4,1210.8h15.5v15.5h-15.5zM287.9,1216.3h15.5v15.5h-15.5zM288.5,1213.5h15.5v15.5h-15.5zM289.0,1210.8h15.5v15.5h-15.5zM289.5,1210.8h15.5v15.5h-15.5zM290.1,1216.3h15.5v15.5h-15.5zM290.6,1210.8h15.5v15.5h-15.5zM291.2,1213.5h15.5v15.5h-15.5zM291.7,1213.5h15.5v15.5h-15.5zM292.2,1216.3h15.5v15.5h-15.5zM292.8,1210.8h15.5v15.5h-15.5zM293.3,1216.3h15.5v15.5h-15.5zM293.9,1213.5h15.5v15.5h-15.5zM294.4,1213.5h15.5v15.5h-15.5zM294.9,1216.3h15.5v15.5h-15.5zM295.5,1216.3h15.5v15.5h-15.5zM296.0,1210.8h15.5v15.5h-15.5zM296.5,1213.5h15.5v15.5h-15.5zM297.1,1213.5h15.5v15.5h-15.5zM297.6,1216.3h15.5v15.5h-15.5zM298.2,1216.3h15.5v15.5h-15.5zM298.7,1216.3h15.5v15.5h-15.5zM299.2,1213.5h15.5v15.5h-15.5zM299.8,1213.5h15.5v15.5h-15.5zM300.3,1216.3h15.5v15.5h-15.5zM300.9,1213.5h15.5v15.5h-15.5zM301.4,1213.5h15.5v15.5h-15.5zM301.9,1213.5h15.5v15.5h-15.5zM302.5,1219.0h15.5v15.5h-15.5zM303.0,1219.0h15.5v15.5h-15.5zM303.5,1216.3h15.5v15.5h-15.5zM304.1,1219.0h15.5v15.5h-15.5zM304.6,1216.3h15.5v15.5h-15.5zM305.2,1219.0h15.5v15.5h-15.5zM305.7,1219.0h15.5v15.5h-15.5zM306.2,1219.0h15.5v15.5h-15.5zM306.8,1216.3h15.5v15.5h-15.5zM307.3,1213.5h15.5v15.5h-15.5zM307.9,1216.3h15.5v15.5h-15.5zM308.4,1219.0h15.5v15.5h-15.5zM308.9,1213.5h15.5v15.5h-15.5zM309.5,1219.0h15.5v15.5h-15.5zM310.0,1216.3h15.5v15.5h-15.5zM310.5,1216.3h15.5v15.5h-15.5zM311.1,1219.0h15.5v15.5h-15.5zM311.6,1216.3h15.5v15.5h-15.5zM312.2,1219.0h15.5v15.5h-15.5zM312.7,1221.8h15.5v15.5h-15.5zM313.2,1219.0h15.5v15.5h-15.5zM313.8,1221.8h15.5v15.5h-15.5zM314.3,1221.8h15.5v15.5h-15.5zM314.9,1219.0h15.5v15.5h-15.5zM315.4,1219.0h15.5v15.5h-15.5zM315.9,1216.3h15.5v15.5h-15.5zM316.5,1221.8h15.5v15.5h-15.5zM317.0,1221.8h15.5v15.5h-15.5zM317.6,1219.0h15.5v15.5h-15.5zM318.1,1221.8h15.5v15.5h-15.5zM318.6,1219.0h15.5v15.5h-15.5zM319.2,1216.3h15.5v15.5h-15.5zM319.7,1219.0h15.5v15.5h-15.5zM320.2,1221.8h15.5v15.5h-15.5zM320.8,1224.5h15.5v15.5h-15.5zM321.3,1219.0h15.5v15.5h-15.5zM321.9,1221.8h15.5v15.5h-15.5zM322.4,1219.0h15.5v15.5h-15.5zM322.9,1216.3h15.5v15.5h-15.5zM323.5,1221.8h15.5v15.5h-15.5zM324.0,1224.5h15.5v15.5h-15.5zM324.6,1221.8h15.5v15.5h-15.5zM325.1,1224.5h15.5v15.5h-15.5zM325.6,1219.0h15.5v15.5h-15.5zM326.2,1221.8h15.5v15.5h-15.5zM326.7,1224.5h15.5v15.5h-15.5zM327.2,1221.8h15.5v15.5h-15.5zM327.8,1221.8h15.5v15.5h-15.5zM328.3,1221.8h15.5v15.5h-15.5zM328.9,1221.8h15.5v15.5h-15.5zM329.4,1219.0h15.5v15.5h-15.5zM329.9,1224.5h15.5v15.5h-15.5zM330.5,1221.8h15.5v15.5h-15.5zM331.0,1221.8h15.5v15.5h-15.5zM331.6,1224.5h15.5v15.5h-15.5zM332.1,1221.8h15.5v15.5h-15.5zM332.6,1224.5h15.5v15.5h-15.5zM333.2,1219.0h15.5v15.5h-15.5zM333.7,1224.5h15.5v15.5h-15.5zM334.2,1221.8h15.5v15.5h-15.5zM334.8,1224.5h15.5v15.5h-15.5zM335.3,1221.8h15.5v15.5h-15.5zM335.9,1224.5h15.5v15.5h-15.5zM336.4,1219.0h15.5v15.5h-15.5zM336.9,1224.5h15.5v15.5h-15.5zM337.5,1221.8h15.5v15.5h-15.5zM338.0,1221.8h15.5v15.5h-15.5zM338.6,1221.8h15.5v15.5h-15.5zM339.1,1224.5h15.5v15.5h-15.5zM339.6,1219.0h15.5v15.5h-15.5zM340.2,1224.5h15.5v15.5h-15.5zM340.7,1219.0h15.5v15.5h-15.5zM341.3,1224.5h15.5v15.5h-15.5zM341.8,1221.8h15.5v15.5h-15.5zM342.3,1221.8h15.5v15.5h-15.5zM342.9,1221.8h15.5v15.5h-15.5zM343.4,1219.0h15.5v15.5h-15.5zM343.9,1221.8h15.5v15.5h-15.5zM344.5,1219.0h15.5v15.5h-15.5zM345.0,1219.0h15.5v15.5h-15.5zM345.6,1224.5h15.5v15.5h-15.5zM346.1,1224.5h15.5v15.5h-15.5zM346.6,1219.0h15.5v15.5h-15.5zM347.2,1224.5h15.5v15.5h-15.5zM347.7,1221.8h15.5v15.5h-15.5zM348.3,1221.8h15.5v15.5h-15.5zM348.8,1219.0h15.5v15.5h-15.5zM349.3,1221.8h15.5v15.5h-15.5zM349.9,1224.5h15.5v15.5h-15.5zM350.4,1219.0h15.5v15.5h-15.5zM350.9,1221.8h15.5v15.5h-15.5zM351.5,1219.0h15.5v15.5h-15.5zM352.0,1221.8h15.5v15.5h-15.5zM352.6,1219.0h15.5v15.5h-15.5zM353.1,1221.8h15.5v15.5h-15.5zM353.6,1219.0h15.5v15.5h-15.5zM354.2,1219.0h15.5v15.5h-15.5zM354.7,1221.8h15.5v15.5h-15.5zM355.3,1221.8h15.5v15.5h-15.5zM355.8,1219.0h15.5v15.5h-15.5zM356.3,1224.5h15.5v15.5h-15.5zM356.9,1221.8h15.5v15.5h-15.5zM357.4,1219.0h15.5v15.5h-15.5zM357.9,1219.0h15.5v15.5h-15.5zM358.5,1221.8h15.5v15.5h-15.5zM359.0,1219.0h15.5v15.5h-15.5zM359.6,1221.8h15.5v15.5h-15.5zM360.1,1221.8h15.5v15.5h-15.5zM360.6,1221.8h15.5v15.5h-15.5zM361.2,1221.8h15.5v15.5h-15.5zM361.7,1219.0h15.5v15.5h-15.5zM362.3,1221.8h15.5v15.5h-15.5zM362.8,1221.8h15.5v15.5h-15.5zM363.3,1219.0h15.5v15.5h-15.5zM363.9,1221.8h15.5v15.5h-15.5zM364.4,1221.8h15.5v15.5h-15.5zM365.0,1219.0h15.5v15.5h-15.5zM365.5,1224.5h15.5v15.5h-15.5zM366.0,1221.8h15.5v15.5h-15.5zM366.6,1219.0h15.5v15.5h-15.5zM367.1,1219.0h15.5v15.5h-15.5zM367.6,1221.8h15.5v15.5h-15.5zM368.2,1219.0h15.5v15.5h-15.5zM368.7,1219.0h15.5v15.5h-15.5zM369.3,1219.0h15.5v15.5h-15.5zM369.8,1219.0h15.5v15.5h-15.5zM370.3,1219.0h15.5v15.5h-15.5zM370.9,1221.8h15.5v15.5h-15.5zM371.4,1219.0h15.5v15.5h-15.5zM372.0,1221.8h15.5v15.5h-15.5zM372.5,1219.0h15.5v15.5h-15.5zM373.0,1221.8h15.5v15.5h-15.5zM373.6,1219.0h15.5v15.5h-15.5zM374.1,1221.8h15.5v15.5h-15.5zM374.6,1221.8h15.5v15.5h-15.5zM375.2,1221.8h15.5v15.5h-15.5zM375.7,1219.0h15.5v15.5h-15.5zM376.3,1221.8h15.5v15.5h-15.5zM376.8,1221.8h15.5v15.5h-15.5zM377.3,1219.0h15.5v15.5h-15.5zM377.9,1219.0h15.5v15.5h-15.5zM378.4,1221.8h15.5v15.5h-15.5zM379.0,1221.8h15.5v15.5h-15.5zM379.5,1219.0h15.5v15.5h-15.5zM380.0,1219.0h15.5v15.5h-15.5zM380.6,1221.8h15.5v15.5h-15.5zM381.1,1224.5h15.5v15.5h-15.5zM381.6,1219.0h15.5v15.5h-15.5zM382.2,1221.8h15.5v15.5h-15.5zM382.7,1221.8h15.5v15.5h-15.5zM383.3,1219.0h15.5v15.5h-15.5zM383.8,1219.0h15.5v15.5h-15.5zM384.3,1221.8h15.5v15.5h-15.5zM384.9,1221.8h15.5v15.5h-15.5zM385.4,1224.5h15.5v15.5h-15.5zM386.0,1219.0h15.5v15.5h-15.5zM386.5,1221.8h15.5v15.5h-15.5zM387.0,1221.8h15.5v15.5h-15.5zM387.6,1221.8h15.5v15.5h-15.5zM388.1,1221.8h15.5v15.5h-15.5zM388.7,1221.8h15.5v15.5h-15.5zM389.2,1221.8h15.5v15.5h-15.5zM389.7,1219.0h15.5v15.5h-15.5zM390.3,1219.0h15.5v15.5h-15.5zM390.8,1219.0h15.5v15.5h-15.5zM391.3,1221.8h15.5v15.5h-15.5zM391.9,1216.3h15.5v15.5h-15.5zM392.4,1219.0h15.5v15.5h-15.5zM393.0,1219.0h15.5v15.5h-15.5zM393.5,1221.8h15.5v15.5h-15.5zM394.0,1221.8h15.5v15.5h-15.5zM394.6,1219.0h15.5v15.5h-15.5zM395.1,1219.0h15.5v15.5h-15.5zM395.7,1221.8h15.5v15.5h-15.5zM396.2,1219.0h15.5v15.5h-15.5zM396.7,1221.8h15.5v15.5h-15.5zM397.3,1219.0h15.5v15.5h-15.5zM397.8,1221.8h15.5v15.5h-15.5zM398.3,1221.8h15.5v15.5h-15.5zM398.9,1219.0h15.5v15.5h-15.5zM399.4,1219.0h15.5v15.5h-15.5zM400.0,1221.8h15.5v15.5h-15.5zM400.5,1219.0h15.5v15.5h-15.5zM401.0,1221.8h15.5v15.5h-15.5zM401.6,1216.3h15.5v15.5h-15.5zM402.1,1216.3h15.5v15.5h-15.5zM402.7,1219.0h15.5v15.5h-15.5zM403.2,1219.0h15.5v15.5h-15.5zM403.7,1219.0h15.5v15.5h-15.5zM404.3,1219.0h15.5v15.5h-15.5zM404.8,1221.8h15.5v15.5h-15.5zM405.3,1219.0h15.5v15.5h-15.5zM405.9,1221.8h15.5v15.5h-15.5zM406.4,1219.0h15.5v15.5h-15.5zM407.0,1221.8h15.5v15.5h-15.5zM407.5,1219.0h15.5v15.5h-15.5zM408.0,1219.0h15.5v15.5h-15.5zM408.6,1221.8h15.5v15.5h-15.5zM409.1,1219.0h15.5v15.5h-15.5zM409.7,1221.8h15.5v15.5h-15.5zM410.2,1216.3h15.5v15.5h-15.5zM410.7,1221.8h15.5v15.5h-15.5zM411.3,1216.3h15.5v15.5h-15.5zM411.8,1216.3h15.5v15.5h-15.5zM412.4,1219.0h15.5v15.5h-15.5zM412.9,1221.8h15.5v15.5h-15.5zM413.4,1216.3h15.5v15.5h-15.5zM414.0,1221.8h15.5v15.5h-15.5zM414.5,1219.0h15.5v15.5h-15.5zM415.0,1221.8h15.5v15.5h-15.5zM415.6,1219.0h15.5v15.5h-15.5zM416.1,1219.0h15.5v15.5h-15.5zM416.7,1221.8h15.5v15.5h-15.5zM417.2,1216.3h15.5v15.5h-15.5zM417.7,1219.0h15.5v15.5h-15.5zM418.3,1219.0h15.5v15.5h-15.5zM418.8,1219.0h15.5v15.5h-15.5zM419.4,1221.8h15.5v15.5h-15.5zM419.9,1219.0h15.5v15.5h-15.5zM420.4,1219.0h15.5v15.5h-15.5zM421.0,1219.0h15.5v15.5h-15.5zM421.5,1216.3h15.5v15.5h-15.5zM422.0,1219.0h15.5v15.5h-15.5zM422.6,1221.8h15.5v15.5h-15.5zM423.1,1221.8h15.5v15.5h-15.5zM423.7,1221.8h15.5v15.5h-15.5zM424.2,1221.8h15.5v15.5h-15.5zM424.7,1219.0h15.5v15.5h-15.5zM425.3,1221.8h15.5v15.5h-15.5zM425.8,1219.0h15.5v15.5h-15.5zM426.4,1219.0h15.5v15.5h-15.5zM426.9,1219.0h15.5v15.5h-15.5zM427.4,1221.8h15.5v15.5h-15.5zM428.0,1221.8h15.5v15.5h-15.5zM428.5,1221.8h15.5v15.5h-15.5zM429.0,1221.8h15.5v15.5h-15.5zM429.6,1221.8h15.5v15.5h-15.5zM430.1,1221.8h15.5v15.5h-15.5zM430.7,1219.0h15.5v15.5h-15.5zM431.2,1219.0h15.5v15.5h-15.5zM431.7,1219.0h15.5v15.5h-15.5zM432.3,1221.8h15.5v15.5h-15.5zM432.8,1219.0h15.5v15.5h-15.5zM433.4,1216.3h15.5v15.5h-15.5zM433.9,1219.0h15.5v15.5h-15.5zM434.4,1216.3h15.5v15.5h-15.5zM435.0,1216.3h15.5v15.5h-15.5zM435.5,1216.3h15.5v15.5h-15.5zM436.1,1216.3h15.5v15.5h-15.5zM436.6,1216.3h15.5v15.5h-15.5zM437.1,1216.3h15.5v15.5h-15.5zM437.7,1219.0h15.5v15.5h-15.5zM438.2,1221.8h15.5v15.5h-15.5zM438.7,1219.0h15.5v15.5h-15.5zM439.3,1221.8h15.5v15.5h-15.5zM439.8,1219.0h15.5v15.5h-15.5zM440.4,1221.8h15.5v15.5h-15.5zM440.9,1221.8h15.5v15.5h-15.5zM441.4,1216.3h15.5v15.5h-15.5zM442.0,1219.0h15.5v15.5h-15.5zM442.5,1219.0h15.5v15.5h-15.5zM443.1,1221.8h15.5v15.5h-15.5zM443.6,1216.3h15.5v15.5h-15.5zM444.1,1219.0h15.5v15.5h-15.5zM444.7,1219.0h15.5v15.5h-15.5zM445.2,1221.8h15.5v15.5h-15.5zM445.7,1216.3h15.5v15.5h-15.5zM446.3,1219.0h15.5v15.5h-15.5zM446.8,1221.8h15.5v15.5h-15.5zM447.4,1221.8h15.5v15.5h-15.5zM447.9,1219.0h15.5v15.5h-15.5zM448.4,1219.0h15.5v15.5h-15.5zM449.0,1219.0h15.5v15.5h-15.5zM449.5,1219.0h15.5v15.5h-15.5zM450.1,1219.0h15.5v15.5h-15.5zM450.6,1219.0h15.5v15.5h-15.5zM451.1,1216.3h15.5v15.5h-15.5zM451.7,1221.8h15.5v15.5h-15.5zM452.2,1219.0h15.5v15.5h-15.5zM452.7,1216.3h15.5v15.5h-15.5zM453.3,1221.8h15.5v15.5h-15.5zM453.8,1216.3h15.5v15.5h-15.5zM454.4,1216.3h15.5v15.5h-15.5zM454.9,1219.0h15.5v15.5h-15.5zM455.4,1219.0h15.5v15.5h-15.5zM456.0,1216.3h15.5v15.5h-15.5zM456.5,1216.3h15.5v15.5h-15.5zM457.1,1219.0h15.5v15.5h-15.5zM457.6,1219.0h15.5v15.5h-15.5zM458.1,1216.3h15.5v15.5h-15.5zM458.7,1216.3h15.5v15.5h-15.5zM459.2,1219.0h15.5v15.5h-15.5zM459.8,1216.3h15.5v15.5h-15.5zM460.3,1216.3h15.5v15.5h-15.5zM460.8,1216.3h15.5v15.5h-15.5zM461.4,1219.0h15.5v15.5h-15.5zM461.9,1216.3h15.5v15.5h-15.5zM462.4,1219.0h15.5v15.5h-15.5zM463.0,1221.8h15.5v15.5h-15.5zM463.5,1221.8h15.5v15.5h-15.5zM464.1,1219.0h15.5v15.5h-15.5zM464.6,1219.0h15.5v15.5h-15.5zM465.1,1216.3h15.5v15.5h-15.5zM465.7,1219.0h15.5v15.5h-15.5zM466.2,1219.0h15.5v15.5h-15.5zM466.8,1219.0h15.5v15.5h-15.5zM467.3,1219.0h15.5v15.5h-15.5zM467.8,1221.8h15.5v15.5h-15.5zM468.4,1219.0h15.5v15.5h-15.5zM468.9,1219.0h15.5v15.5h-15.5zM469.4,1221.8h15.5v15.5h-15.5zM470.0,1219.0h15.5v15.5h-15.5zM470.5,1219.0h15.5v15.5h-15.5zM471.1,1216.3h15.5v15.5h-15.5zM471.6,1219.0h15.5v15.5h-15.5zM472.1,1219.0h15.5v15.5h-15.5zM472.7,1216.3h15.5v15.5h-15.5zM473.2,1219.0h15.5v15.5h-15.5zM473.8,1219.0h15.5v15.5h-15.5zM474.3,1216.3h15.5v15.5h-15.5zM474.8,1216.3h15.5v15.5h-15.5zM475.4,1219.0h15.5v15.5h-15.5zM475.9,1216.3h15.5v15.5h-15.5zM476.4,1216.3h15.5v15.5h-15.5zM477.0,1216.3h15.5v15.5h-15.5zM477.5,1216.3h15.5v15.5h-15.5zM478.1,1219.0h15.5v15.5h-15.5zM478.6,1219.0h15.5v15.5h-15.5zM479.1,1219.0h15.5v15.5h-15.5zM479.7,1219.0h15.5v15.5h-15.5zM480.2,1219.0h15.5v15.5h-15.5zM480.8,1219.0h15.5v15.5h-15.5zM481.3,1216.3h15.5v15.5h-15.5zM481.8,1216.3h15.5v15.5h-15.5zM482.4,1219.0h15.5v15.5h-15.5zM482.9,1219.0h15.5v15.5h-15.5zM483.5,1216.3h15.5v15.5h-15.5zM484.0,1219.0h15.5v15.5h-15.5zM484.5,1216.3h15.5v15.5h-15.5zM485.1,1216.3h15.5v15.5h-15.5zM485.6,1219.0h15.5v15.5h-15.5zM486.1,1213.5h15.5v15.5h-15.5zM486.7,1216.3h15.5v15.5h-15.5zM487.2,1219.0h15.5v15.5h-15.5zM487.8,1216.3h15.5v15.5h-15.5zM488.3,1216.3h15.5v15.5h-15.5zM488.8,1213.5h15.5v15.5h-15.5zM489.4,1219.0h15.5v15.5h-15.5zM489.9,1216.3h15.5v15.5h-15.5zM490.5,1219.0h15.5v15.5h-15.5zM491.0,1213.5h15.5v15.5h-15.5zM491.5,1219.0h15.5v15.5h-15.5zM492.1,1216.3h15.5v15.5h-15.5zM492.6,1216.3h15.5v15.5h-15.5zM493.1,1219.0h15.5v15.5h-15.5zM493.7,1219.0h15.5v15.5h-15.5zM494.2,1216.3h15.5v15.5h-15.5zM494.8,1216.3h15.5v15.5h-15.5zM495.3,1219.0h15.5v15.5h-15.5zM495.8,1219.0h15.5v15.5h-15.5zM496.4,1216.3h15.5v15.5h-15.5zM496.9,1216.3h15.5v15.5h-15.5zM497.5,1213.5h15.5v15.5h-15.5zM498.0,1216.3h15.5v15.5h-15.5zM498.5,1216.3h15.5v15.5h-15.5zM499.1,1216.3h15.5v15.5h-15.5zM499.6,1213.5h15.5v15.5h-15.5zM500.1,1216.3h15.5v15.5h-15.5zM500.7,1216.3h15.5v15.5h-15.5zM501.2,1213.5h15.5v15.5h-15.5zM501.8,1213.5h15.5v15.5h-15.5zM502.3,1216.3h15.5v15.5h-15.5zM502.8,1216.3h15.5v15.5h-15.5zM503.4,1213.5h15.5v15.5h-15.5zM503.9,1213.5h15.5v15.5h-15.5zM504.5,1216.3h15.5v15.5h-15.5zM505.0,1219.0h15.5v15.5h-15.5zM505.5,1219.0h15.5v15.5h-15.5zM506.1,1216.3h15.5v15.5h-15.5zM506.6,1216.3h15.5v15.5h-15.5zM507.2,1216.3h15.5v15.5h-15.5zM507.7,1216.3h15.5v15.5h-15.5zM508.2,1213.5h15.5v15.5h-15.5zM508.8,1216.3h15.5v15.5h-15.5zM509.3,1216.3h15.5v15.5h-15.5zM509.8,1219.0h15.5v15.5h-15.5zM510.4,1216.3h15.5v15.5h-15.5zM510.9,1213.5h15.5v15.5h-15.5zM511.5,1216.3h15.5v15.5h-15.5zM512.0,1216.3h15.5v15.5h-15.5zM512.5,1216.3h15.5v15.5h-15.5zM513.1,1213.5h15.5v15.5h-15.5zM513.6,1216.3h15.5v15.5h-15.5zM514.2,1213.5h15.5v15.5h-15.5zM514.7,1213.5h15.5v15.5h-15.5zM515.2,1216.3h15.5v15.5h-15.5zM515.8,1213.5h15.5v15.5h-15.5zM516.3,1216.3h15.5v15.5h-15.5zM516.8,1213.5h15.5v15.5h-15.5zM517.4,1216.3h15.5v15.5h-15.5zM517.9,1213.5h15.5v15.5h-15.5zM518.5,1216.3h15.5v15.5h-15.5zM519.0,1213.5h15.5v15.5h-15.5zM519.5,1213.5h15.5v15.5h-15.5zM520.1,1216.3h15.5v15.5h-15.5zM520.6,1216.3h15.5v15.5h-15.5zM521.2,1213.5h15.5v15.5h-15.5zM521.7,1213.5h15.5v15.5h-15.5zM522.2,1213.5h15.5v15.5h-15.5zM522.8,1216.3h15.5v15.5h-15.5zM523.3,1216.3h15.5v15.5h-15.5zM523.8,1213.5h15.5v15.5h-15.5zM524.4,1213.5h15.5v15.5h-15.5zM524.9,1213.5h15.5v15.5h-15.5zM525.5,1213.5h15.5v15.5h-15.5zM526.0,1216.3h15.5v15.5h-15.5zM526.5,1216.3h15.5v15.5h-15.5zM527.1,1216.3h15.5v15.5h-15.5zM527.6,1213.5h15.5v15.5h-15.5zM528.2,1210.8h15.5v15.5h-15.5zM528.7,1213.5h15.5v15.5h-15.5zM529.2,1213.5h15.5v15.5h-15.5zM529.8,1210.8h15.5v15.5h-15.5zM530.3,1213.5h15.5v15.5h-15.5zM530.9,1213.5h15.5v15.5h-15.5zM531.4,1213.5h15.5v15.5h-15.5zM531.9,1216.3h15.5v15.5h-15.5zM532.5,1210.8h15.5v15.5h-15.5zM533.0,1216.3h15.5v15.5h-15.5zM533.5,1210.8h15.5v15.5h-15.5zM534.1,1210.8h15.5v15.5h-15.5zM534.6,1216.3h15.5v15.5h-15.5zM535.2,1216.3h15.5v15.5h-15.5zM535.7,1213.5h15.5v15.5h-15.5zM536.2,1213.5h15.5v15.5h-15.5zM536.8,1216.3h15.5v15.5h-15.5zM537.3,1213.5h15.5v15.5h-15.5zM537.9,1213.5h15.5v15.5h-15.5zM538.4,1213.5h15.5v15.5h-15.5zM538.9,1216.3h15.5v15.5h-15.5zM539.5,1210.8h15.5v15.5h-15.5zM540.0,1213.5h15.5v15.5h-15.5zM540.5,1210.8h15.5v15.5h-15.5zM541.1,1213.5h15.5v15.5h-15.5zM541.6,1210.8h15.5v15.5h-15.5zM542.2,1213.5h15.5v15.5h-15.5zM542.7,1213.5h15.5v15.5h-15.5zM543.2,1210.8h15.5v15.5h-15.5zM543.8,1213.5h15.5v15.5h-15.5zM544.3,1210.8h15.5v15.5h-15.5zM544.9,1213.5h15.5v15.5h-15.5zM545.4,1213.5h15.5v15.5h-15.5zM545.9,1210.8h15.5v15.5h-15.5zM546.5,1210.8h15.5v15.5h-15.5zM547.0,1213.5h15.5v15.5h-15.5zM547.5,1210.8h15.5v15.5h-15.5zM548.1,1213.5h15.5v15.5h-15.5zM548.6,1213.5h15.5v15.5h-15.5zM549.2,1213.5h15.5v15.5h-15.5zM549.7,1210.8h15.5v15.5h-15.5zM550.2,1210.8h15.5v15.5h-15.5zM550.8,1210.8h15.5v15.5h-15.5zM551.3,1213.5h15.5v15.5h-15.5zM551.9,1213.5h15.5v15.5h-15.5zM552.4,1210.8h15.5v15.5h-15.5zM552.9,1213.5h15.5v15.5h-15.5zM553.5,1213.5h15.5v15.5h-15.5zM554.0,1210.8h15.5v15.5h-15.5zM554.6,1213.5h15.5v15.5h-15.5zM555.1,1213.5h15.5v15.5h-15.5zM555.6,1213.5h15.5v15.5h-15.5zM556.2,1210.8h15.5v15.5h-15.5zM556.7,1210.8h15.5v15.5h-15.5zM557.2,1210.8h15.5v15.5h-15.5zM557.8,1213.5h15.5v15.5h-15.5zM558.3,1210.8h15.5v15.5h-15.5zM558.9,1210.8h15.5v15.5h-15.5zM559.4,1210.8h15.5v15.5h-15.5zM559.9,1213.5h15.5v15.5h-15.5zM560.5,1213.5h15.5v15.5h-15.5zM561.0,1210.8h15.5v15.5h-15.5zM561.6,1210.8h15.5v15.5h-15.5zM562.1,1213.5h15.5v15.5h-15.5zM562.6,1210.8h15.5v15.5h-15.5zM563.2,1208.0h15.5v15.5h-15.5zM563.7,1208.0h15.5v15.5h-15.5zM564.2,1213.5h15.5v15.5h-15.5zM564.8,1210.8h15.5v15.5h-15.5zM565.3,1213.5h15.5v15.5h-15.5zM565.9,1210.8h15.5v15.5h-15.5zM566.4,1210.8h15.5v15.5h-15.5zM566.9,1210.8h15.5v15.5h-15.5zM567.5,1210.8h15.5v15.5h-15.5zM568.0,1213.5h15.5v15.5h-15.5zM568.6,1210.8h15.5v15.5h-15.5zM569.1,1213.5h15.5v15.5h-15.5zM569.6,1210.8h15.5v15.5h-15.5zM570.2,1208.0h15.5v15.5h-15.5zM570.7,1210.8h15.5v15.5h-15.5zM571.2,1208.0h15.5v15.5h-15.5zM571.8,1208.0h15.5v15.5h-15.5zM572.3,1210.8h15.5v15.5h-15.5zM572.9,1210.8h15.5v15.5h-15.5zM573.4,1208.0h15.5v15.5h-15.5zM573.9,1208.0h15.5v15.5h-15.5zM574.5,1208.0h15.5v15.5h-15.5zM575.0,1208.0h15.5v15.5h-15.5zM575.6,1208.0h15.5v15.5h-15.5zM576.1,1210.8h15.5v15.5h-15.5zM576.6,1208.0h15.5v15.5h-15.5zM577.2,1210.8h15.5v15.5h-15.5zM577.7,1210.8h15.5v15.5h-15.5zM578.3,1210.8h15.5v15.5h-15.5zM578.8,1208.0h15.5v15.5h-15.5zM579.3,1208.0h15.5v15.5h-15.5zM579.9,1208.0h15.5v15.5h-15.5zM580.4,1208.0h15.5v15.5h-15.5zM580.9,1208.0h15.5v15.5h-15.5zM581.5,1208.0h15.5v15.5h-15.5zM582.0,1208.0h15.5v15.5h-15.5zM582.6,1208.0h15.5v15.5h-15.5zM583.1,1210.8h15.5v15.5h-15.5zM583.6,1208.0h15.5v15.5h-15.5zM584.2,1205.3h15.5v15.5h-15.5zM584.7,1208.0h15.5v15.5h-15.5zM585.3,1208.0h15.5v15.5h-15.5zM585.8,1205.3h15.5v15.5h-15.5zM586.3,1208.0h15.5v15.5h-15.5zM586.9,1210.8h15.5v15.5h-15.5zM587.4,1208.0h15.5v15.5h-15.5zM587.9,1210.8h15.5v15.5h-15.5zM588.5,1210.8h15.5v15.5h-15.5zM589.0,1210.8h15.5v15.5h-15.5zM589.6,1210.8h15.5v15.5h-15.5zM590.1,1210.8h15.5v15.5h-15.5zM590.6,1208.0h15.5v15.5h-15.5zM591.2,1205.3h15.5v15.5h-15.5zM591.7,1210.8h15.5v15.5h-15.5zM592.3,1208.0h15.5v15.5h-15.5zM592.8,1208.0h15.5v15.5h-15.5zM593.3,1208.0h15.5v15.5h-15.5zM593.9,1205.3h15.5v15.5h-15.5zM594.4,1205.3h15.5v15.5h-15.5zM594.9,1208.0h15.5v15.5h-15.5zM595.5,1205.3h15.5v15.5h-15.5zM596.0,1208.0h15.5v15.5h-15.5zM596.6,1208.0h15.5v15.5h-15.5zM597.1,1208.0h15.5v15.5h-15.5zM597.6,1208.0h15.5v15.5h-15.5zM598.2,1205.3h15.5v15.5h-15.5zM598.7,1205.3h15.5v15.5h-15.5zM599.3,1208.0h15.5v15.5h-15.5zM599.8,1205.3h15.5v15.5h-15.5zM600.3,1208.0h15.5v15.5h-15.5zM600.9,1205.3h15.5v15.5h-15.5zM601.4,1202.5h15.5v15.5h-15.5zM602.0,1205.3h15.5v15.5h-15.5zM602.5,1205.3h15.5v15.5h-15.5zM603.0,1205.3h15.5v15.5h-15.5zM603.6,1208.0h15.5v15.5h-15.5zM604.1,1202.5h15.5v15.5h-15.5zM604.6,1205.3h15.5v15.5h-15.5zM605.2,1205.3h15.5v15.5h-15.5zM605.7,1202.5h15.5v15.5h-15.5zM606.3,1202.5h15.5v15.5h-15.5zM606.8,1205.3h15.5v15.5h-15.5zM607.3,1205.3h15.5v15.5h-15.5zM607.9,1205.3h15.5v15.5h-15.5zM608.4,1205.3h15.5v15.5h-15.5zM609.0,1205.3h15.5v15.5h-15.5zM609.5,1202.5h15.5v15.5h-15.5zM610.0,1202.5h15.5v15.5h-15.5zM610.6,1205.3h15.5v15.5h-15.5zM611.1,1205.3h15.5v15.5h-15.5zM611.6,1205.3h15.5v15.5h-15.5zM612.2,1202.5h15.5v15.5h-15.5zM612.7,1205.3h15.5v15.5h-15.5zM613.3,1202.5h15.5v15.5h-15.5zM613.8,1199.7h15.5v15.5h-15.5zM614.3,1202.5h15.5v15.5h-15.5zM614.9,1202.5h15.5v15.5h-15.5zM615.4,1205.3h15.5v15.5h-15.5zM616.0,1202.5h15.5v15.5h-15.5zM616.5,1202.5h15.5v15.5h-15.5zM617.0,1199.7h15.5v15.5h-15.5zM617.6,1199.7h15.5v15.5h-15.5zM618.1,1199.7h15.5v15.5h-15.5zM618.6,1202.5h15.5v15.5h-15.5zM619.2,1202.5h15.5v15.5h-15.5zM619.7,1202.5h15.5v15.5h-15.5zM620.3,1202.5h15.5v15.5h-15.5zM620.8,1199.7h15.5v15.5h-15.5zM621.3,1199.7h15.5v15.5h-15.5zM621.9,1202.5h15.5v15.5h-15.5zM622.4,1202.5h15.5v15.5h-15.5zM623.0,1199.7h15.5v15.5h-15.5zM623.5,1202.5h15.5v15.5h-15.5zM624.0,1202.5h15.5v15.5h-15.5zM624.6,1202.5h15.5v15.5h-15.5zM625.1,1199.7h15.5v15.5h-15.5zM625.7,1199.7h15.5v15.5h-15.5zM626.2,1199.7h15.5v15.5h-15.5zM626.7,1199.7h15.5v15.5h-15.5zM627.3,1199.7h15.5v15.5h-15.5zM627.8,1197.0h15.5v15.5h-15.5zM628.3,1197.0h15.5v15.5h-15.5zM628.9,1199.7h15.5v15.5h-15.5zM629.4,1199.7h15.5v15.5h-15.5zM630.0,1199.7h15.5v15.5h-15.5zM630.5,1199.7h15.5v15.5h-15.5zM631.0,1199.7h15.5v15.5h-15.5zM631.6,1199.7h15.5v15.5h-15.5zM632.1,1199.7h15.5v15.5h-15.5zM632.7,1197.0h15.5v15.5h-15.5zM633.2,1197.0h15.5v15.5h-15.5zM633.7,1199.7h15.5v15.5h-15.5zM634.3,1199.7h15.5v15.5h-15.5zM634.8,1197.0h15.5v15.5h-15.5zM635.3,1197.0h15.5v15.5h-15.5zM635.9,1197.0h15.5v15.5h-15.5zM636.4,1197.0h15.5v15.5h-15.5zM637.0,1197.0h15.5v15.5h-15.5zM637.5,1197.0h15.5v15.5h-15.5zM638.0,1199.7h15.5v15.5h-15.5zM638.6,1199.7h15.5v15.5h-15.5zM639.1,1194.2h15.5v15.5h-15.5zM639.7,1197.0h15.5v15.5h-15.5zM640.2,1197.0h15.5v15.5h-15.5zM640.7,1197.0h15.5v15.5h-15.5zM641.3,1199.7h15.5v15.5h-15.5zM641.8,1194.2h15.5v15.5h-15.5zM642.3,1194.2h15.5v15.5h-15.5zM642.9,1199.7h15.5v15.5h-15.5zM643.4,1194.2h15.5v15.5h-15.5zM644.0,1194.2h15.5v15.5h-15.5zM644.5,1199.7h15.5v15.5h-15.5zM645.0,1197.0h15.5v15.5h-15.5zM645.6,1197.0h15.5v15.5h-15.5zM646.1,1194.2h15.5v15.5h-15.5zM646.7,1197.0h15.5v15.5h-15.5zM647.2,1194.2h15.5v15.5h-15.5zM647.7,1194.2h15.5v15.5h-15.5zM648.3,1194.2h15.5v15.5h-15.5zM648.8,1194.2h15.5v15.5h-15.5zM649.4,1197.0h15.5v15.5h-15.5zM649.9,1197.0h15.5v15.5h-15.5zM650.4,1194.2h15.5v15.5h-15.5zM651.0,1197.0h15.5v15.5h-15.5zM651.5,1194.2h15.5v15.5h-15.5zM652.0,1194.2h15.5v15.5h-15.5zM652.6,1197.0h15.5v15.5h-15.5zM653.1,1197.0h15.5v15.5h-15.5zM653.7,1194.2h15.5v15.5h-15.5zM654.2,1197.0h15.5v15.5h-15.5zM654.7,1194.2h15.5v15.5h-15.5zM655.3,1197.0h15.5v15.5h-15.5zM655.8,1194.2h15.5v15.5h-15.5zM656.4,1194.2h15.5v15.5h-15.5zM656.9,1194.2h15.5v15.5h-15.5zM657.4,1194.2h15.5v15.5h-15.5zM658.0,1194.2h15.5v15.5h-15.5zM658.5,1194.2h15.5v15.5h-15.5zM659.0,1194.2h15.5v15.5h-15.5zM659.6,1194.2h15.5v15.5h-15.5zM660.1,1194.2h15.5v15.5h-15.5zM660.7,1194.2h15.5v15.5h-15.5zM661.2,1191.5h15.5v15.5h-15.5zM661.7,1194.2h15.5v15.5h-15.5zM662.3,1194.2h15.5v15.5h-15.5zM662.8,1191.5h15.5v15.5h-15.5zM663.4,1191.5h15.5v15.5h-15.5zM663.9,1191.5h15.5v15.5h-15.5zM664.4,1191.5h15.5v15.5h-15.5zM665.0,1191.5h15.5v15.5h-15.5zM665.5,1194.2h15.5v15.5h-15.5zM666.0,1191.5h15.5v15.5h-15.5zM666.6,1191.5h15.5v15.5h-15.5zM667.1,1194.2h15.5v15.5h-15.5zM667.7,1194.2h15.5v15.5h-15.5zM668.2,1194.2h15.5v15.5h-15.5zM668.7,1188.7h15.5v15.5h-15.5zM669.3,1188.7h15.5v15.5h-15.5zM669.8,1194.2h15.5v15.5h-15.5zM670.4,1194.2h15.5v15.5h-15.5zM670.9,1191.5h15.5v15.5h-15.5zM671.4,1191.5h15.5v15.5h-15.5zM672.0,1191.5h15.5v15.5h-15.5zM672.5,1191.5h15.5v15.5h-15.5zM673.1,1194.2h15.5v15.5h-15.5zM673.6,1191.5h15.5v15.5h-15.5zM674.1,1191.5h15.5v15.5h-15.5zM674.7,1191.5h15.5v15.5h-15.5zM675.2,1194.2h15.5v15.5h-15.5zM675.7,1188.7h15.5v15.5h-15.5zM676.3,1191.5h15.5v15.5h-15.5zM676.8,1191.5h15.5v15.5h-15.5zM677.4,1188.7h15.5v15.5h-15.5zM677.9,1191.5h15.5v15.5h-15.5zM678.4,1188.7h15.5v15.5h-15.5zM679.0,1188.7h15.5v15.5h-15.5zM679.5,1188.7h15.5v15.5h-15.5zM680.1,1191.5h15.5v15.5h-15.5zM680.6,1191.5h15.5v15.5h-15.5zM681.1,1191.5h15.5v15.5h-15.5zM681.7,1188.7h15.5v15.5h-15.5zM682.2,1191.5h15.5v15.5h-15.5zM682.7,1188.7h15.5v15.5h-15.5zM683.3,1188.7h15.5v15.5h-15.5zM683.8,1188.7h15.5v15.5h-15.5zM684.4,1188.7h15.5v15.5h-15.5zM684.9,1188.7h15.5v15.5h-15.5zM685.4,1191.5h15.5v15.5h-15.5zM686.0,1191.5h15.5v15.5h-15.5zM686.5,1191.5h15.5v15.5h-15.5zM687.1,1191.5h15.5v15.5h-15.5zM687.6,1188.7h15.5v15.5h-15.5zM688.1,1188.7h15.5v15.5h-15.5zM688.7,1191.5h15.5v15.5h-15.5zM689.2,1188.7h15.5v15.5h-15.5zM689.7,1188.7h15.5v15.5h-15.5zM690.3,1188.7h15.5v15.5h-15.5zM690.8,1188.7h15.5v15.5h-15.5zM691.4,1188.7h15.5v15.5h-15.5zM691.9,1191.5h15.5v15.5h-15.5zM692.4,1188.7h15.5v15.5h-15.5zM693.0,1191.5h15.5v15.5h-15.5zM693.5,1188.7h15.5v15.5h-15.5zM694.1,1188.7h15.5v15.5h-15.5zM694.6,1186.0h15.5v15.5h-15.5zM695.1,1188.7h15.5v15.5h-15.5zM695.7,1191.5h15.5v15.5h-15.5zM696.2,1188.7h15.5v15.5h-15.5zM696.8,1188.7h15.5v15.5h-15.5zM697.3,1186.0h15.5v15.5h-15.5zM697.8,1188.7h15.5v15.5h-15.5zM698.4,1188.7h15.5v15.5h-15.5zM698.9,1188.7h15.5v15.5h-15.5zM699.4,1188.7h15.5v15.5h-15.5zM700.0,1188.7h15.5v15.5h-15.5zM700.5,1186.0h15.5v15.5h-15.5zM701.1,1186.0h15.5v15.5h-15.5zM701.6,1186.0h15.5v15.5h-15.5zM702.1,1188.7h15.5v15.5h-15.5zM702.7,1188.7h15.5v15.5h-15.5zM703.2,1186.0h15.5v15.5h-15.5zM703.8,1188.7h15.5v15.5h-15.5zM704.3,1188.7h15.5v15.5h-15.5zM704.8,1188.7h15.5v15.5h-15.5zM705.4,1188.7h15.5v15.5h-15.5zM705.9,1188.7h15.5v15.5h-15.5zM706.4,1186.0h15.5v15.5h-15.5zM707.0,1186.0h15.5v15.5h-15.5zM707.5,1186.0h15.5v15.5h-15.5zM708.1,1186.0h15.5v15.5h-15.5zM708.6,1186.0h15.5v15.5h-15.5zM709.1,1188.7h15.5v15.5h-15.5zM709.7,1186.0h15.5v15.5h-15.5zM710.2,1186.0h15.5v15.5h-15.5zM710.8,1188.7h15.5v15.5h-15.5zM711.3,1186.0h15.5v15.5h-15.5zM711.8,1183.2h15.5v15.5h-15.5zM712.4,1186.0h15.5v15.5h-15.5zM712.9,1186.0h15.5v15.5h-15.5zM713.4,1186.0h15.5v15.5h-15.5zM714.0,1188.7h15.5v15.5h-15.5zM714.5,1186.0h15.5v15.5h-15.5zM715.1,1186.0h15.5v15.5h-15.5zM715.6,1188.7h15.5v15.5h-15.5zM716.1,1188.7h15.5v15.5h-15.5zM716.7,1186.0h15.5v15.5h-15.5zM717.2,1186.0h15.5v15.5h-15.5zM717.8,1186.0h15.5v15.5h-15.5zM718.3,1183.2h15.5v15.5h-15.5zM718.8,1186.0h15.5v15.5h-15.5zM719.4,1183.2h15.5v15.5h-15.5zM719.9,1183.2h15.5v15.5h-15.5zM720.5,1183.2h15.5v15.5h-15.5zM721.0,1186.0h15.5v15.5h-15.5zM721.5,1186.0h15.5v15.5h-15.5zM722.1,1186.0h15.5v15.5h-15.5zM722.6,1186.0h15.5v15.5h-15.5zM723.1,1186.0h15.5v15.5h-15.5zM723.7,1183.2h15.5v15.5h-15.5zM724.2,1183.2h15.5v15.5h-15.5zM724.8,1183.2h15.5v15.5h-15.5zM725.3,1183.2h15.5v15.5h-15.5zM725.8,1183.2h15.5v15.5h-15.5zM726.4,1183.2h15.5v15.5h-15.5zM726.9,1186.0h15.5v15.5h-15.5zM727.5,1186.0h15.5v15.5h-15.5zM728.0,1186.0h15.5v15.5h-15.5zM728.5,1186.0h15.5v15.5h-15.5zM729.1,1186.0h15.5v15.5h-15.5zM729.6,1186.0h15.5v15.5h-15.5zM730.1,1183.2h15.5v15.5h-15.5zM730.7,1183.2h15.5v15.5h-15.5zM731.2,1183.2h15.5v15.5h-15.5zM731.8,1183.2h15.5v15.5h-15.5zM732.3,1186.0h15.5v15.5h-15.5zM732.8,1186.0h15.5v15.5h-15.5zM733.4,1186.0h15.5v15.5h-15.5zM733.9,1183.2h15.5v15.5h-15.5zM734.5,1183.2h15.5v15.5h-15.5zM735.0,1183.2h15.5v15.5h-15.5zM735.5,1183.2h15.5v15.5h-15.5zM736.1,1183.2h15.5v15.5h-15.5zM736.6,1180.5h15.5v15.5h-15.5zM737.1,1183.2h15.5v15.5h-15.5zM737.7,1180.5h15.5v15.5h-15.5zM738.2,1180.5h15.5v15.5h-15.5zM738.8,1183.2h15.5v15.5h-15.5zM739.3,1180.5h15.5v15.5h-15.5zM739.8,1183.2h15.5v15.5h-15.5zM740.4,1180.5h15.5v15.5h-15.5zM740.9,1183.2h15.5v15.5h-15.5zM741.5,1180.5h15.5v15.5h-15.5zM742.0,1183.2h15.5v15.5h-15.5zM742.5,1183.2h15.5v15.5h-15.5zM743.1,1180.5h15.5v15.5h-15.5zM743.6,1183.2h15.5v15.5h-15.5zM744.2,1180.5h15.5v15.5h-15.5zM744.7,1183.2h15.5v15.5h-15.5zM745.2,1180.5h15.5v15.5h-15.5zM745.8,1180.5h15.5v15.5h-15.5zM746.3,1180.5h15.5v15.5h-15.5zM746.8,1180.5h15.5v15.5h-15.5zM747.4,1177.7h15.5v15.5h-15.5zM747.9,1183.2h15.5v15.5h-15.5zM748.5,1180.5h15.5v15.5h-15.5zM749.0,1183.2h15.5v15.5h-15.5zM749.5,1180.5h15.5v15.5h-15.5zM750.1,1180.5h15.5v15.5h-15.5zM750.6,1183.2h15.5v15.5h-15.5zM751.2,1177.7h15.5v15.5h-15.5zM751.7,1180.5h15.5v15.5h-15.5zM752.2,1177.7h15.5v15.5h-15.5zM752.8,1180.5h15.5v15.5h-15.5zM753.3,1180.5h15.5v15.5h-15.5zM753.8,1180.5h15.5v15.5h-15.5zM754.4,1177.7h15.5v15.5h-15.5zM754.9,1180.5h15.5v15.5h-15.5zM755.5,1177.7h15.5v15.5h-15.5zM756.0,1180.5h15.5v15.5h-15.5zM756.5,1177.7h15.5v15.5h-15.5zM757.1,1177.7h15.5v15.5h-15.5zM757.6,1177.7h15.5v15.5h-15.5zM758.2,1180.5h15.5v15.5h-15.5zM758.7,1177.7h15.5v15.5h-15.5zM759.2,1180.5h15.5v15.5h-15.5zM759.8,1180.5h15.5v15.5h-15.5zM760.3,1177.7h15.5v15.5h-15.5zM760.8,1177.7h15.5v15.5h-15.5zM761.4,1177.7h15.5v15.5h-15.5zM761.9,1177.7h15.5v15.5h-15.5zM762.5,1177.7h15.5v15.5h-15.5zM763.0,1174.9h15.5v15.5h-15.5zM763.5,1174.9h15.5v15.5h-15.5zM764.1,1177.7h15.5v15.5h-15.5zM764.6,1177.7h15.5v15.5h-15.5zM765.2,1177.7h15.5v15.5h-15.5zM765.7,1174.9h15.5v15.5h-15.5zM766.2,1177.7h15.5v15.5h-15.5zM766.8,1177.7h15.5v15.5h-15.5zM767.3,1177.7h15.5v15.5h-15.5zM767.9,1174.9h15.5v15.5h-15.5zM768.4,1177.7h15.5v15.5h-15.5zM768.9,1177.7h15.5v15.5h-15.5zM769.5,1174.9h15.5v15.5h-15.5zM770.0,1177.7h15.5v15.5h-15.5zM770.5,1174.9h15.5v15.5h-15.5zM771.1,1174.9h15.5v15.5h-15.5zM771.6,1174.9h15.5v15.5h-15.5zM772.2,1174.9h15.5v15.5h-15.5zM772.7,1174.9h15.5v15.5h-15.5zM773.2,1172.2h15.5v15.5h-15.5zM773.8,1174.9h15.5v15.5h-15.5zM774.3,1174.9h15.5v15.5h-15.5zM774.9,1174.9h15.5v15.5h-15.5zM775.4,1172.2h15.5v15.5h-15.5zM775.9,1174.9h15.5v15.5h-15.5zM776.5,1172.2h15.5v15.5h-15.5zM777.0,1172.2h15.5v15.5h-15.5zM777.5,1174.9h15.5v15.5h-15.5zM778.1,1174.9h15.5v15.5h-15.5zM778.6,1174.9h15.5v15.5h-15.5zM779.2,1174.9h15.5v15.5h-15.5zM779.7,1172.2h15.5v15.5h-15.5zM780.2,1172.2h15.5v15.5h-15.5zM780.8,1172.2h15.5v15.5h-15.5zM781.3,1174.9h15.5v15.5h-15.5zM781.9,1172.2h15.5v15.5h-15.5zM782.4,1172.2h15.5v15.5h-15.5zM782.9,1172.2h15.5v15.5h-15.5zM783.5,1169.4h15.5v15.5h-15.5zM784.0,1172.2h15.5v15.5h-15.5zM784.5,1172.2h15.5v15.5h-15.5zM785.1,1169.4h15.5v15.5h-15.5zM785.6,1169.4h15.5v15.5h-15.5zM786.2,1169.4h15.5v15.5h-15.5zM786.7,1172.2h15.5v15.5h-15.5zM787.2,1172.2h15.5v15.5h-15.5zM787.8,1172.2h15.5v15.5h-15.5zM788.3,1169.4h15.5v15.5h-15.5zM788.9,1169.4h15.5v15.5h-15.5zM789.4,1169.4h15.5v15.5h-15.5zM789.9,1169.4h15.5v15.5h-15.5zM790.5,1169.4h15.5v15.5h-15.5zM791.0,1169.4h15.5v15.5h-15.5zM791.6,1169.4h15.5v15.5h-15.5zM792.1,1169.4h15.5v15.5h-15.5zM792.6,1169.4h15.5v15.5h-15.5zM793.2,1172.2h15.5v15.5h-15.5zM793.7,1169.4h15.5v15.5h-15.5zM794.2,1172.2h15.5v15.5h-15.5zM794.8,1169.4h15.5v15.5h-15.5zM795.3,1169.4h15.5v15.5h-15.5zM795.9,1169.4h15.5v15.5h-15.5zM796.4,1169.4h15.5v15.5h-15.5zM796.9,1169.4h15.5v15.5h-15.5zM797.5,1169.4h15.5v15.5h-15.5zM798.0,1172.2h15.5v15.5h-15.5zM798.6,1172.2h15.5v15.5h-15.5zM799.1,1169.4h15.5v15.5h-15.5zM799.6,1169.4h15.5v15.5h-15.5zM800.2,1169.4h15.5v15.5h-15.5zM800.7,1169.4h15.5v15.5h-15.5zM801.2,1169.4h15.5v15.5h-15.5zM801.8,1166.7h15.5v15.5h-15.5zM802.3,1169.4h15.5v15.5h-15.5zM802.9,1166.7h15.5v15.5h-15.5zM803.4,1166.7h15.5v15.5h-15.5zM803.9,1166.7h15.5v15.5h-15.5zM804.5,1169.4h15.5v15.5h-15.5zM805.0,1169.4h15.5v15.5h-15.5zM805.6,1169.4h15.5v15.5h-15.5zM806.1,1169.4h15.5v15.5h-15.5zM806.6,1166.7h15.5v15.5h-15.5zM807.2,1166.7h15.5v15.5h-15.5zM807.7,1166.7h15.5v15.5h-15.5zM808.2,1166.7h15.5v15.5h-15.5zM808.8,1169.4h15.5v15.5h-15.5zM809.3,1166.7h15.5v15.5h-15.5zM809.9,1166.7h15.5v15.5h-15.5zM810.4,1166.7h15.5v15.5h-15.5zM810.9,1166.7h15.5v15.5h-15.5zM811.5,1166.7h15.5v15.5h-15.5zM812.0,1166.7h15.5v15.5h-15.5zM812.6,1163.9h15.5v15.5h-15.5zM813.1,1163.9h15.5v15.5h-15.5zM813.6,1163.9h15.5v15.5h-15.5zM814.2,1163.9h15.5v15.5h-15.5zM814.7,1166.7h15.5v15.5h-15.5zM815.3,1163.9h15.5v15.5h-15.5zM815.8,1163.9h15.5v15.5h-15.5zM816.3,1166.7h15.5v15.5h-15.5zM816.9,1166.7h15.5v15.5h-15.5zM817.4,1163.9h15.5v15.5h-15.5zM817.9,1163.9h15.5v15.5h-15.5zM818.5,1166.7h15.5v15.5h-15.5zM819.0,1163.9h15.5v15.5h-15.5zM819.6,1163.9h15.5v15.5h-15.5zM820.1,1163.9h15.5v15.5h-15.5zM820.6,1163.9h15.5v15.5h-15.5zM821.2,1163.9h15.5v15.5h-15.5zM821.7,1163.9h15.5v15.5h-15.5zM822.3,1163.9h15.5v15.5h-15.5zM822.8,1161.2h15.5v15.5h-15.5zM823.3,1163.9h15.5v15.5h-15.5zM823.9,1163.9h15.5v15.5h-15.5zM824.4,1163.9h15.5v15.5h-15.5zM824.9,1163.9h15.5v15.5h-15.5zM825.5,1163.9h15.5v15.5h-15.5zM826.0,1161.2h15.5v15.5h-15.5zM826.6,1161.2h15.5v15.5h-15.5zM827.1,1161.2h15.5v15.5h-15.5zM827.6,1163.9h15.5v15.5h-15.5zM828.2,1163.9h15.5v15.5h-15.5zM828.7,1161.2h15.5v15.5h-15.5zM829.3,1161.2h15.5v15.5h-15.5zM829.8,1161.2h15.5v15.5h-15.5zM830.3,1161.2h15.5v15.5h-15.5zM830.9,1161.2h15.5v15.5h-15.5zM831.4,1161.2h15.5v15.5h-15.5zM831.9,1161.2h15.5v15.5h-15.5zM832.5,1161.2h15.5v15.5h-15.5zM833.0,1161.2h15.5v15.5h-15.5zM833.6,1161.2h15.5v15.5h-15.5zM834.1,1161.2h15.5v15.5h-15.5zM834.6,1161.2h15.5v15.5h-15.5zM835.2,1158.4h15.5v15.5h-15.5zM835.7,1161.2h15.5v15.5h-15.5zM836.3,1158.4h15.5v15.5h-15.5zM836.8,1161.2h15.5v15.5h-15.5zM837.3,1158.4h15.5v15.5h-15.5zM837.9,1161.2h15.5v15.5h-15.5zM838.4,1158.4h15.5v15.5h-15.5zM839.0,1158.4h15.5v15.5h-15.5zM839.5,1161.2h15.5v15.5h-15.5zM840.0,1161.2h15.5v15.5h-15.5zM840.6,1158.4h15.5v15.5h-15.5zM841.1,1158.4h15.5v15.5h-15.5zM841.6,1161.2h15.5v15.5h-15.5zM842.2,1158.4h15.5v15.5h-15.5zM842.7,1158.4h15.5v15.5h-15.5zM843.3,1161.2h15.5v15.5h-15.5zM843.8,1158.4h15.5v15.5h-15.5zM844.3,1158.4h15.5v15.5h-15.5zM844.9,1158.4h15.5v15.5h-15.5zM845.4,1155.7h15.5v15.5h-15.5zM846.0,1161.2h15.5v15.5h-15.5zM846.5,1158.4h15.5v15.5h-15.5zM847.0,1155.7h15.5v15.5h-15.5zM847.6,1158.4h15.5v15.5h-15.5zM848.1,1158.4h15.5v15.5h-15.5zM848.6,1158.4h15.5v15.5h-15.5zM849.2,1158.4h15.5v15.5h-15.5zM849.7,1158.4h15.5v15.5h-15.5zM850.3,1155.7h15.5v15.5h-15.5zM850.8,1155.7h15.5v15.5h-15.5zM851.3,1155.7h15.5v15.5h-15.5zM851.9,1155.7h15.5v15.5h-15.5zM852.4,1155.7h15.5v15.5h-15.5zM853.0,1158.4h15.5v15.5h-15.5zM853.5,1158.4h15.5v15.5h-15.5zM854.0,1155.7h15.5v15.5h-15.5zM854.6,1158.4h15.5v15.5h-15.5zM855.1,1155.7h15.5v15.5h-15.5zM855.6,1155.7h15.5v15.5h-15.5zM856.2,1155.7h15.5v15.5h-15.5zM856.7,1155.7h15.5v15.5h-15.5zM857.3,1155.7h15.5v15.5h-15.5zM857.8,1158.4h15.5v15.5h-15.5zM858.3,1155.7h15.5v15.5h-15.5zM858.9,1155.7h15.5v15.5h-15.5zM859.4,1152.9h15.5v15.5h-15.5zM860.0,1152.9h15.5v15.5h-15.5zM860.5,1152.9h15.5v15.5h-15.5zM861.0,1155.7h15.5v15.5h-15.5zM861.6,1155.7h15.5v15.5h-15.5zM862.1,1155.7h15.5v15.5h-15.5zM862.7,1152.9h15.5v15.5h-15.5zM863.2,1155.7h15.5v15.5h-15.5zM863.7,1152.9h15.5v15.5h-15.5zM864.3,1152.9h15.5v15.5h-15.5zM864.8,1155.7h15.5v15.5h-15.5zM865.3,1152.9h15.5v15.5h-15.5zM865.9,1155.7h15.5v15.5h-15.5zM866.4,1152.9h15.5v15.5h-15.5zM867.0,1152.9h15.5v15.5h-15.5zM867.5,1152.9h15.5v15.5h-15.5zM868.0,1152.9h15.5v15.5h-15.5zM868.6,1152.9h15.5v15.5h-15.5zM869.1,1152.9h15.5v15.5h-15.5zM869.7,1155.7h15.5v15.5h-15.5zM870.2,1152.9h15.5v15.5h-15.5zM870.7,1152.9h15.5v15.5h-15.5zM871.3,1152.9h15.5v15.5h-15.5zM871.8,1152.9h15.5v15.5h-15.5zM872.3,1152.9h15.5v15.5h-15.5zM872.9,1150.1h15.5v15.5h-15.5zM873.4,1152.9h15.5v15.5h-15.5zM874.0,1150.1h15.5v15.5h-15.5zM874.5,1150.1h15.5v15.5h-15.5zM875.0,1150.1h15.5v15.5h-15.5zM875.6,1150.1h15.5v15.5h-15.5zM876.1,1150.1h15.5v15.5h-15.5zM876.7,1150.1h15.5v15.5h-15.5zM877.2,1150.1h15.5v15.5h-15.5zM877.7,1150.1h15.5v15.5h-15.5zM878.3,1152.9h15.5v15.5h-15.5zM878.8,1152.9h15.5v15.5h-15.5zM879.3,1150.1h15.5v15.5h-15.5zM879.9,1152.9h15.5v15.5h-15.5zM880.4,1152.9h15.5v15.5h-15.5zM881.0,1150.1h15.5v15.5h-15.5zM881.5,1150.1h15.5v15.5h-15.5zM882.0,1150.1h15.5v15.5h-15.5zM882.6,1150.1h15.5v15.5h-15.5zM883.1,1152.9h15.5v15.5h-15.5zM883.7,1147.4h15.5v15.5h-15.5zM884.2,1147.4h15.5v15.5h-15.5zM884.7,1150.1h15.5v15.5h-15.5zM885.3,1150.1h15.5v15.5h-15.5zM885.8,1150.1h15.5v15.5h-15.5zM886.4,1150.1h15.5v15.5h-15.5zM886.9,1150.1h15.5v15.5h-15.5zM887.4,1147.4h15.5v15.5h-15.5zM888.0,1150.1h15.5v15.5h-15.5zM888.5,1147.4h15.5v15.5h-15.5zM889.0,1147.4h15.5v15.5h-15.5zM889.6,1150.1h15.5v15.5h-15.5zM890.1,1147.4h15.5v15.5h-15.5zM890.7,1147.4h15.5v15.5h-15.5zM891.2,1150.1h15.5v15.5h-15.5zM891.7,1147.4h15.5v15.5h-15.5zM892.3,1147.4h15.5v15.5h-15.5zM892.8,1147.4h15.5v15.5h-15.5zM893.4,1147.4h15.5v15.5h-15.5zM893.9,1147.4h15.5v15.5h-15.5zM894.4,1147.4h15.5v15.5h-15.5zM895.0,1150.1h15.5v15.5h-15.5zM895.5,1147.4h15.5v15.5h-15.5zM896.0,1147.4h15.5v15.5h-15.5zM896.6,1147.4h15.5v15.5h-15.5zM897.1,1147.4h15.5v15.5h-15.5zM897.7,1147.4h15.5v15.5h-15.5zM898.2,1147.4h15.5v15.5h-15.5zM898.7,1147.4h15.5v15.5h-15.5zM899.3,1147.4h15.5v15.5h-15.5zM899.8,1147.4h15.5v15.5h-15.5zM900.4,1147.4h15.5v15.5h-15.5zM900.9,1147.4h15.5v15.5h-15.5zM901.4,1147.4h15.5v15.5h-15.5zM902.0,1147.4h15.5v15.5h-15.5zM902.5,1144.6h15.5v15.5h-15.5zM903.0,1147.4h15.5v15.5h-15.5zM903.6,1144.6h15.5v15.5h-15.5zM904.1,1144.6h15.5v15.5h-15.5zM904.7,1144.6h15.5v15.5h-15.5zM905.2,1144.6h15.5v15.5h-15.5zM905.7,1144.6h15.5v15.5h-15.5zM906.3,1147.4h15.5v15.5h-15.5zM906.8,1144.6h15.5v15.5h-15.5zM907.4,1144.6h15.5v15.5h-15.5zM907.9,1144.6h15.5v15.5h-15.5zM908.4,1144.6h15.5v15.5h-15.5zM909.0,1147.4h15.5v15.5h-15.5zM909.5,1144.6h15.5v15.5h-15.5zM910.1,1144.6h15.5v15.5h-15.5zM910.6,1147.4h15.5v15.5h-15.5zM911.1,1147.4h15.5v15.5h-15.5zM911.7,1147.4h15.5v15.5h-15.5zM912.2,1144.6h15.5v15.5h-15.5zM912.7,1147.4h15.5v15.5h-15.5zM913.3,1141.9h15.5v15.5h-15.5zM913.8,1141.9h15.5v15.5h-15.5zM914.4,1141.9h15.5v15.5h-15.5zM914.9,1141.9h15.5v15.5h-15.5zM915.4,1144.6h15.5v15.5h-15.5zM916.0,1141.9h15.5v15.5h-15.5zM916.5,1141.9h15.5v15.5h-15.5zM917.1,1141.9h15.5v15.5h-15.5zM917.6,1144.6h15.5v15.5h-15.5zM918.1,1144.6h15.5v15.5h-15.5zM918.7,1144.6h15.5v15.5h-15.5zM919.2,1141.9h15.5v15.5h-15.5zM919.7,1141.9h15.5v15.5h-15.5zM920.3,1141.9h15.5v15.5h-15.5zM920.8,1141.9h15.5v15.5h-15.5zM921.4,1144.6h15.5v15.5h-15.5zM921.9,1141.9h15.5v15.5h-15.5zM922.4,1141.9h15.5v15.5h-15.5zM923.0,1144.6h15.5v15.5h-15.5zM923.5,1139.1h15.5v15.5h-15.5zM924.1,1141.9h15.5v15.5h-15.5zM924.6,1141.9h15.5v15.5h-15.5zM925.1,1141.9h15.5v15.5h-15.5zM925.7,1141.9h15.5v15.5h-15.5zM926.2,1141.9h15.5v15.5h-15.5zM926.7,1139.1h15.5v15.5h-15.5zM927.3,1141.9h15.5v15.5h-15.5zM927.8,1141.9h15.5v15.5h-15.5zM928.4,1141.9h15.5v15.5h-15.5zM928.9,1139.1h15.5v15.5h-15.5zM929.4,1139.1h15.5v15.5h-15.5zM930.0,1139.1h15.5v15.5h-15.5zM930.5,1139.1h15.5v15.5h-15.5zM931.1,1139.1h15.5v15.5h-15.5zM931.6,1141.9h15.5v15.5h-15.5zM932.1,1139.1h15.5v15.5h-15.5zM932.7,1141.9h15.5v15.5h-15.5zM933.2,1139.1h15.5v15.5h-15.5zM933.8,1136.4h15.5v15.5h-15.5zM934.3,1139.1h15.5v15.5h-15.5zM934.8,1139.1h15.5v15.5h-15.5zM935.4,1136.4h15.5v15.5h-15.5zM935.9,1139.1h15.5v15.5h-15.5zM936.4,1139.1h15.5v15.5h-15.5zM937.0,1136.4h15.5v15.5h-15.5zM937.5,1139.1h15.5v15.5h-15.5zM938.1,1139.1h15.5v15.5h-15.5zM938.6,1139.1h15.5v15.5h-15.5zM939.1,1136.4h15.5v15.5h-15.5zM939.7,1139.1h15.5v15.5h-15.5zM940.2,1136.4h15.5v15.5h-15.5zM940.8,1136.4h15.5v15.5h-15.5zM941.3,1136.4h15.5v15.5h-15.5zM941.8,1136.4h15.5v15.5h-15.5zM942.4,1133.6h15.5v15.5h-15.5zM942.9,1136.4h15.5v15.5h-15.5zM943.4,1136.4h15.5v15.5h-15.5zM944.0,1133.6h15.5v15.5h-15.5zM944.5,1133.6h15.5v15.5h-15.5zM945.1,1136.4h15.5v15.5h-15.5zM945.6,1136.4h15.5v15.5h-15.5zM946.1,1133.6h15.5v15.5h-15.5zM946.7,1133.6h15.5v15.5h-15.5zM947.2,1133.6h15.5v15.5h-15.5zM947.8,1133.6h15.5v15.5h-15.5zM948.3,1133.6h15.5v15.5h-15.5zM948.8,1133.6h15.5v15.5h-15.5zM949.4,1133.6h15.5v15.5h-15.5zM949.9,1133.6h15.5v15.5h-15.5zM950.4,1130.9h15.5v15.5h-15.5zM951.0,1133.6h15.5v15.5h-15.5zM951.5,1133.6h15.5v15.5h-15.5zM952.1,1133.6h15.5v15.5h-15.5zM952.6,1133.6h15.5v15.5h-15.5zM953.1,1130.9h15.5v15.5h-15.5zM953.7,1130.9h15.5v15.5h-15.5zM954.2,1130.9h15.5v15.5h-15.5zM954.8,1130.9h15.5v15.5h-15.5zM955.3,1130.9h15.5v15.5h-15.5zM955.8,1130.9h15.5v15.5h-15.5zM956.4,1130.9h15.5v15.5h-15.5zM956.9,1133.6h15.5v15.5h-15.5zM957.5,1130.9h15.5v15.5h-15.5zM958.0,1130.9h15.5v15.5h-15.5zM958.5,1128.1h15.5v15.5h-15.5zM959.1,1130.9h15.5v15.5h-15.5zM959.6,1130.9h15.5v15.5h-15.5zM960.1,1128.1h15.5v15.5h-15.5zM960.7,1130.9h15.5v15.5h-15.5zM961.2,1128.1h15.5v15.5h-15.5zM961.8,1128.1h15.5v15.5h-15.5zM962.3,1130.9h15.5v15.5h-15.5zM962.8,1128.1h15.5v15.5h-15.5zM963.4,1128.1h15.5v15.5h-15.5zM963.9,1128.1h15.5v15.5h-15.5zM964.5,1128.1h15.5v15.5h-15.5zM965.0,1128.1h15.5v15.5h-15.5zM965.5,1128.1h15.5v15.5h-15.5zM966.1,1128.1h15.5v15.5h-15.5zM966.6,1128.1h15.5v15.5h-15.5zM967.1,1125.4h15.5v15.5h-15.5zM967.7,1125.4h15.5v15.5h-15.5zM968.2,1128.1h15.5v15.5h-15.5zM968.8,1128.1h15.5v15.5h-15.5zM969.3,1125.4h15.5v15.5h-15.5zM969.8,1128.1h15.5v15.5h-15.5zM970.4,1128.1h15.5v15.5h-15.5zM970.9,1128.1h15.5v15.5h-15.5zM971.5,1128.1h15.5v15.5h-15.5zM972.0,1125.4h15.5v15.5h-15.5zM972.5,1125.4h15.5v15.5h-15.5zM973.1,1125.4h15.5v15.5h-15.5zM973.6,1128.1h15.5v15.5h-15.5zM974.1,1125.4h15.5v15.5h-15.5zM974.7,1128.1h15.5v15.5h-15.5zM975.2,1125.4h15.5v15.5h-15.5zM975.8,1125.4h15.5v15.5h-15.5zM976.3,1125.4h15.5v15.5h-15.5zM976.8,1125.4h15.5v15.5h-15.5zM977.4,1128.1h15.5v15.5h-15.5zM977.9,1125.4h15.5v15.5h-15.5zM978.5,1125.4h15.5v15.5h-15.5zM979.0,1125.4h15.5v15.5h-15.5zM979.5,1125.4h15.5v15.5h-15.5zM980.1,1122.6h15.5v15.5h-15.5zM980.6,1125.4h15.5v15.5h-15.5zM981.2,1125.4h15.5v15.5h-15.5zM981.7,1125.4h15.5v15.5h-15.5zM982.2,1122.6h15.5v15.5h-15.5zM982.8,1122.6h15.5v15.5h-15.5zM983.3,1122.6h15.5v15.5h-15.5zM983.8,1125.4h15.5v15.5h-15.5zM984.4,1125.4h15.5v15.5h-15.5zM984.9,1125.4h15.5v15.5h-15.5zM985.5,1122.6h15.5v15.5h-15.5zM986.0,1122.6h15.5v15.5h-15.5zM986.5,1122.6h15.5v15.5h-15.5zM987.1,1122.6h15.5v15.5h-15.5zM987.6,1122.6h15.5v15.5h-15.5zM988.2,1122.6h15.5v15.5h-15.5zM988.7,1122.6h15.5v15.5h-15.5zM989.2,1122.6h15.5v15.5h-15.5zM989.8,1122.6h15.5v15.5h-15.5zM990.3,1122.6h15.5v15.5h-15.5zM990.8,1122.6h15.5v15.5h-15.5zM991.4,1122.6h15.5v15.5h-15.5zM991.9,1119.8h15.5v15.5h-15.5zM992.5,1119.8h15.5v15.5h-15.5zM993.0,1122.6h15.5v15.5h-15.5zM993.5,1119.8h15.5v15.5h-15.5zM994.1,1122.6h15.5v15.5h-15.5zM994.6,1119.8h15.5v15.5h-15.5zM995.2,1119.8h15.5v15.5h-15.5zM995.7,1122.6h15.5v15.5h-15.5zM996.2,1122.6h15.5v15.5h-15.5zM996.8,1119.8h15.5v15.5h-15.5zM997.3,1119.8h15.5v15.5h-15.5zM997.8,1119.8h15.5v15.5h-15.5zM998.4,1117.1h15.5v15.5h-15.5zM998.9,1119.8h15.5v15.5h-15.5zM999.5,1119.8h15.5v15.5h-15.5zM1000.0,1119.8h15.5v15.5h-15.5zM1000.5,1119.8h15.5v15.5h-15.5zM1001.1,1117.1h15.5v15.5h-15.5zM1001.6,1119.8h15.5v15.5h-15.5zM1002.2,1117.1h15.5v15.5h-15.5zM1002.7,1119.8h15.5v15.5h-15.5zM1003.2,1119.8h15.5v15.5h-15.5zM1003.8,1117.1h15.5v15.5h-15.5zM1004.3,1117.1h15.5v15.5h-15.5zM1004.9,1119.8h15.5v15.5h-15.5zM1005.4,1117.1h15.5v15.5h-15.5zM1005.9,1117.1h15.5v15.5h-15.5zM1006.5,1117.1h15.5v15.5h-15.5zM1007.0,1117.1h15.5v15.5h-15.5zM1007.5,1117.1h15.5v15.5h-15.5zM1008.1,1117.1h15.5v15.5h-15.5zM1008.6,1117.1h15.5v15.5h-15.5zM1009.2,1117.1h15.5v15.5h-15.5zM1009.7,1114.3h15.5v15.5h-15.5zM1010.2,1117.1h15.5v15.5h-15.5zM1010.8,1114.3h15.5v15.5h-15.5zM1011.3,1114.3h15.5v15.5h-15.5zM1011.9,1117.1h15.5v15.5h-15.5zM1012.4,1114.3h15.5v15.5h-15.5zM1012.9,1117.1h15.5v15.5h-15.5zM1013.5,1114.3h15.5v15.5h-15.5zM1014.0,1117.1h15.5v15.5h-15.5zM1014.5,1114.3h15.5v15.5h-15.5zM1015.1,1114.3h15.5v15.5h-15.5zM1015.6,1117.1h15.5v15.5h-15.5zM1016.2,1114.3h15.5v15.5h-15.5zM1016.7,1114.3h15.5v15.5h-15.5zM1017.2,1114.3h15.5v15.5h-15.5zM1017.8,1114.3h15.5v15.5h-15.5zM1018.3,1114.3h15.5v15.5h-15.5zM1018.9,1114.3h15.5v15.5h-15.5zM1019.4,1111.6h15.5v15.5h-15.5zM1019.9,1114.3h15.5v15.5h-15.5zM1020.5,1114.3h15.5v15.5h-15.5zM1021.0,1114.3h15.5v15.5h-15.5zM1021.5,1114.3h15.5v15.5h-15.5zM1022.1,1114.3h15.5v15.5h-15.5zM1022.6,1111.6h15.5v15.5h-15.5zM1023.2,1111.6h15.5v15.5h-15.5zM1023.7,1114.3h15.5v15.5h-15.5zM1024.2,1114.3h15.5v15.5h-15.5zM1024.8,1111.6h15.5v15.5h-15.5zM1025.3,1114.3h15.5v15.5h-15.5zM1025.9,1111.6h15.5v15.5h-15.5zM1026.4,1111.6h15.5v15.5h-15.5zM1026.9,1114.3h15.5v15.5h-15.5zM1027.5,1111.6h15.5v15.5h-15.5zM1028.0,1111.6h15.5v15.5h-15.5zM1028.6,1114.3h15.5v15.5h-15.5zM1029.1,1111.6h15.5v15.5h-15.5zM1029.6,1114.3h15.5v15.5h-15.5zM1030.2,1114.3h15.5v15.5h-15.5zM1030.7,1111.6h15.5v15.5h-15.5zM1031.2,1111.6h15.5v15.5h-15.5zM1031.8,1114.3h15.5v15.5h-15.5zM1032.3,1111.6h15.5v15.5h-15.5zM1032.9,1111.6h15.5v15.5h-15.5zM1033.4,1111.6h15.5v15.5h-15.5zM1033.9,1111.6h15.5v15.5h-15.5zM1034.5,1111.6h15.5v15.5h-15.5zM1035.0,1111.6h15.5v15.5h-15.5zM1035.6,1111.6h15.5v15.5h-15.5zM1036.1,1114.3h15.5v15.5h-15.5zM1036.6,1111.6h15.5v15.5h-15.5zM1037.2,1111.6h15.5v15.5h-15.5zM1037.7,1111.6h15.5v15.5h-15.5zM1038.2,1111.6h15.5v15.5h-15.5zM1038.8,1111.6h15.5v15.5h-15.5zM1039.3,1111.6h15.5v15.5h-15.5zM1039.9,1111.6h15.5v15.5h-15.5zM1040.4,1111.6h15.5v15.5h-15.5zM1040.9,1111.6h15.5v15.5h-15.5zM1041.5,1111.6h15.5v15.5h-15.5zM1042.0,1108.8h15.5v15.5h-15.5zM1042.6,1111.6h15.5v15.5h-15.5zM1043.1,1111.6h15.5v15.5h-15.5zM1043.6,1111.6h15.5v15.5h-15.5zM1044.2,1111.6h15.5v15.5h-15.5zM1044.7,1111.6h15.5v15.5h-15.5zM1045.2,1111.6h15.5v15.5h-15.5zM1045.8,1111.6h15.5v15.5h-15.5zM1046.3,1111.6h15.5v15.5h-15.5zM1046.9,1108.8h15.5v15.5h-15.5zM1047.4,1111.6h15.5v15.5h-15.5zM1047.9,1111.6h15.5v15.5h-15.5zM1048.5,1108.8h15.5v15.5h-15.5zM1049.0,1111.6h15.5v15.5h-15.5zM1049.6,1108.8h15.5v15.5h-15.5zM1050.1,1111.6h15.5v15.5h-15.5zM1050.6,1111.6h15.5v15.5h-15.5zM1051.2,1111.6h15.5v15.5h-15.5zM1051.7,1111.6h15.5v15.5h-15.5zM1052.3,1108.8h15.5v15.5h-15.5zM1052.8,1111.6h15.5v15.5h-15.5zM1053.3,1111.6h15.5v15.5h-15.5zM1053.9,1111.6h15.5v15.5h-15.5zM1054.4,1108.8h15.5v15.5h-15.5zM1054.9,1111.6h15.5v15.5h-15.5zM1055.5,1108.8h15.5v15.5h-15.5zM1056.0,1108.8h15.5v15.5h-15.5zM1056.6,1108.8h15.5v15.5h-15.5zM1057.1,1108.8h15.5v15.5h-15.5zM1057.6,1111.6h15.5v15.5h-15.5zM1058.2,1108.8h15.5v15.5h-15.5zM1058.7,1111.6h15.5v15.5h-15.5zM1059.3,1111.6h15.5v15.5h-15.5zM1059.8,1108.8h15.5v15.5h-15.5zM1060.3,1111.6h15.5v15.5h-15.5zM1060.9,1108.8h15.5v15.5h-15.5zM1061.4,1108.8h15.5v15.5h-15.5zM1061.9,1111.6h15.5v15.5h-15.5zM1062.5,1108.8h15.5v15.5h-15.5zM1063.0,1108.8h15.5v15.5h-15.5zM1063.6,1108.8h15.5v15.5h-15.5zM1064.1,1108.8h15.5v15.5h-15.5zM1064.6,1108.8h15.5v15.5h-15.5zM1065.2,1108.8h15.5v15.5h-15.5zM1065.7,1108.8h15.5v15.5h-15.5zM1066.3,1108.8h15.5v15.5h-15.5zM1066.8,1108.8h15.5v15.5h-15.5zM1067.3,1108.8h15.5v15.5h-15.5zM1067.9,1108.8h15.5v15.5h-15.5zM1068.4,1108.8h15.5v15.5h-15.5zM1068.9,1108.8h15.5v15.5h-15.5zM1069.5,1108.8h15.5v15.5h-15.5zM1070.0,1108.8h15.5v15.5h-15.5zM1070.6,1108.8h15.5v15.5h-15.5zM1071.1,1108.8h15.5v15.5h-15.5zM1071.6,1108.8h15.5v15.5h-15.5zM1072.2,1108.8h15.5v15.5h-15.5zM1072.7,1108.8h15.5v15.5h-15.5zM1073.3,1108.8h15.5v15.5h-15.5zM1073.8,1106.1h15.5v15.5h-15.5zM1074.3,1108.8h15.5v15.5h-15.5zM1074.9,1108.8h15.5v15.5h-15.5zM1075.4,1108.8h15.5v15.5h-15.5zM1076.0,1108.8h15.5v15.5h-15.5zM1076.5,1108.8h15.5v15.5h-15.5zM1077.0,1108.8h15.5v15.5h-15.5zM1077.6,1108.8h15.5v15.5h-15.5zM1078.1,1108.8h15.5v15.5h-15.5zM1078.6,1106.1h15.5v15.5h-15.5zM1079.2,1108.8h15.5v15.5h-15.5zM1079.7,1108.8h15.5v15.5h-15.5zM1080.3,1108.8h15.5v15.5h-15.5zM1080.8,1108.8h15.5v15.5h-15.5zM1081.3,1108.8h15.5v15.5h-15.5zM1081.9,1108.8h15.5v15.5h-15.5zM1082.4,1108.8h15.5v15.5h-15.5zM1083.0,1108.8h15.5v15.5h-15.5zM1083.5,1106.1h15.5v15.5h-15.5zM1084.0,1108.8h15.5v15.5h-15.5zM1084.6,1108.8h15.5v15.5h-15.5zM1085.1,1108.8h15.5v15.5h-15.5zM1085.6,1108.8h15.5v15.5h-15.5zM1086.2,1108.8h15.5v15.5h-15.5zM1086.7,1108.8h15.5v15.5h-15.5zM1087.3,1108.8h15.5v15.5h-15.5zM1087.8,1108.8h15.5v15.5h-15.5zM1088.3,1106.1h15.5v15.5h-15.5zM1088.9,1108.8h15.5v15.5h-15.5zM1089.4,1108.8h15.5v15.5h-15.5zM1090.0,1108.8h15.5v15.5h-15.5zM1090.5,1106.1h15.5v15.5h-15.5zM1091.0,1108.8h15.5v15.5h-15.5zM1091.6,1106.1h15.5v15.5h-15.5zM1092.1,1106.1h15.5v15.5h-15.5zM1092.6,1108.8h15.5v15.5h-15.5zM1093.2,1108.8h15.5v15.5h-15.5zM1093.7,1108.8h15.5v15.5h-15.5zM1094.3,1106.1h15.5v15.5h-15.5zM1094.8,1108.8h15.5v15.5h-15.5zM1095.3,1108.8h15.5v15.5h-15.5zM1095.9,1108.8h15.5v15.5h-15.5zM1096.4,1106.1h15.5v15.5h-15.5zM1097.0,1108.8h15.5v15.5h-15.5zM1097.5,1108.8h15.5v15.5h-15.5zM1098.0,1108.8h15.5v15.5h-15.5zM1098.6,1108.8h15.5v15.5h-15.5zM1099.1,1108.8h15.5v15.5h-15.5zM1099.7,1108.8h15.5v15.5h-15.5zM1100.2,1108.8h15.5v15.5h-15.5zM1100.7,1108.8h15.5v15.5h-15.5zM1101.3,1106.1h15.5v15.5h-15.5zM1101.8,1108.8h15.5v15.5h-15.5zM1102.3,1108.8h15.5v15.5h-15.5zM1102.9,1108.8h15.5v15.5h-15.5zM1103.4,1108.8h15.5v15.5h-15.5zM1104.0,1106.1h15.5v15.5h-15.5zM1104.5,1106.1h15.5v15.5h-15.5zM1105.0,1106.1h15.5v15.5h-15.5zM1105.6,1106.1h15.5v15.5h-15.5zM1106.1,1108.8h15.5v15.5h-15.5zM1106.7,1106.1h15.5v15.5h-15.5zM1107.2,1106.1h15.5v15.5h-15.5zM1107.7,1108.8h15.5v15.5h-15.5zM1108.3,1108.8h15.5v15.5h-15.5zM1108.8,1108.8h15.5v15.5h-15.5zM1109.3,1106.1h15.5v15.5h-15.5zM1109.9,1106.1h15.5v15.5h-15.5zM1110.4,1108.8h15.5v15.5h-15.5zM1111.0,1108.8h15.5v15.5h-15.5zM1111.5,1106.1h15.5v15.5h-15.5zM1112.0,1108.8h15.5v15.5h-15.5zM1112.6,1108.8h15.5v15.5h-15.5zM1113.1,1108.8h15.5v15.5h-15.5zM1113.7,1106.1h15.5v15.5h-15.5zM1114.2,1106.1h15.5v15.5h-15.5zM1114.7,1106.1h15.5v15.5h-15.5zM1115.3,1106.1h15.5v15.5h-15.5zM1115.8,1106.1h15.5v15.5h-15.5zM1116.3,1108.8h15.5v15.5h-15.5zM1116.9,1108.8h15.5v15.5h-15.5zM1117.4,1106.1h15.5v15.5h-15.5zM1118.0,1108.8h15.5v15.5h-15.5zM1118.5,1106.1h15.5v15.5h-15.5zM1119.0,1106.1h15.5v15.5h-15.5zM1119.6,1106.1h15.5v15.5h-15.5zM1120.1,1106.1h15.5v15.5h-15.5zM1120.7,1106.1h15.5v15.5h-15.5zM1121.2,1106.1h15.5v15.5h-15.5zM1121.7,1106.1h15.5v15.5h-15.5zM1122.3,1106.1h15.5v15.5h-15.5zM1122.8,1106.1h15.5v15.5h-15.5zM1123.4,1106.1h15.5v15.5h-15.5zM1123.9,1108.8h15.5v15.5h-15.5zM1124.4,1106.1h15.5v15.5h-15.5zM1125.0,1106.1h15.5v15.5h-15.5zM1125.5,1106.1h15.5v15.5h-15.5zM1126.0,1106.1h15.5v15.5h-15.5zM1126.6,1106.1h15.5v15.5h-15.5zM1127.1,1106.1h15.5v15.5h-15.5zM1127.7,1106.1h15.5v15.5h-15.5zM1128.2,1106.1h15.5v15.5h-15.5zM1128.7,1106.1h15.5v15.5h-15.5zM1129.3,1106.1h15.5v15.5h-15.5zM1129.8,1106.1h15.5v15.5h-15.5zM1130.4,1106.1h15.5v15.5h-15.5zM1130.9,1106.1h15.5v15.5h-15.5zM1131.4,1106.1h15.5v15.5h-15.5zM1132.0,1103.3h15.5v15.5h-15.5zM1132.5,1106.1h15.5v15.5h-15.5zM1133.0,1106.1h15.5v15.5h-15.5zM1133.6,1103.3h15.5v15.5h-15.5zM1134.1,1106.1h15.5v15.5h-15.5zM1134.7,1106.1h15.5v15.5h-15.5zM1135.2,1106.1h15.5v15.5h-15.5zM1135.7,1106.1h15.5v15.5h-15.5zM1136.3,1103.3h15.5v15.5h-15.5zM1136.8,1103.3h15.5v15.5h-15.5zM1137.4,1106.1h15.5v15.5h-15.5zM1137.9,1103.3h15.5v15.5h-15.5zM1138.4,1103.3h15.5v15.5h-15.5zM1139.0,1103.3h15.5v15.5h-15.5zM1139.5,1103.3h15.5v15.5h-15.5zM1140.0,1103.3h15.5v15.5h-15.5zM1140.6,1103.3h15.5v15.5h-15.5zM1141.1,1103.3h15.5v15.5h-15.5zM1141.7,1103.3h15.5v15.5h-15.5zM1142.2,1103.3h15.5v15.5h-15.5zM1142.7,1103.3h15.5v15.5h-15.5zM1143.3,1103.3h15.5v15.5h-15.5zM1143.8,1100.6h15.5v15.5h-15.5zM1144.4,1103.3h15.5v15.5h-15.5zM1144.9,1100.6h15.5v15.5h-15.5zM1145.4,1103.3h15.5v15.5h-15.5zM1146.0,1100.6h15.5v15.5h-15.5zM1146.5,1103.3h15.5v15.5h-15.5zM1147.1,1103.3h15.5v15.5h-15.5zM1147.6,1100.6h15.5v15.5h-15.5zM1148.1,1103.3h15.5v15.5h-15.5zM1148.7,1100.6h15.5v15.5h-15.5zM1149.2,1100.6h15.5v15.5h-15.5zM1149.7,1100.6h15.5v15.5h-15.5zM1150.3,1100.6h15.5v15.5h-15.5zM1150.8,1103.3h15.5v15.5h-15.5zM1151.4,1103.3h15.5v15.5h-15.5zM1151.9,1100.6h15.5v15.5h-15.5zM1152.4,1100.6h15.5v15.5h-15.5zM1153.0,1100.6h15.5v15.5h-15.5zM1153.5,1097.8h15.5v15.5h-15.5zM1154.1,1100.6h15.5v15.5h-15.5zM1154.6,1100.6h15.5v15.5h-15.5zM1155.1,1100.6h15.5v15.5h-15.5zM1155.7,1097.8h15.5v15.5h-15.5zM1156.2,1097.8h15.5v15.5h-15.5zM1156.7,1100.6h15.5v15.5h-15.5zM1157.3,1097.8h15.5v15.5h-15.5zM1157.8,1100.6h15.5v15.5h-15.5zM1158.4,1100.6h15.5v15.5h-15.5zM1158.9,1100.6h15.5v15.5h-15.5zM1159.4,1097.8h15.5v15.5h-15.5zM1160.0,1097.8h15.5v15.5h-15.5zM1160.5,1097.8h15.5v15.5h-15.5zM1161.1,1097.8h15.5v15.5h-15.5zM1161.6,1100.6h15.5v15.5h-15.5zM1162.1,1097.8h15.5v15.5h-15.5zM1162.7,1100.6h15.5v15.5h-15.5zM1163.2,1097.8h15.5v15.5h-15.5zM1163.7,1100.6h15.5v15.5h-15.5zM1164.3,1097.8h15.5v15.5h-15.5zM1164.8,1097.8h15.5v15.5h-15.5zM1165.4,1097.8h15.5v15.5h-15.5zM1165.9,1097.8h15.5v15.5h-15.5zM1166.4,1097.8h15.5v15.5h-15.5zM1167.0,1097.8h15.5v15.5h-15.5zM1167.5,1097.8h15.5v15.5h-15.5zM1168.1,1097.8h15.5v15.5h-15.5zM1168.6,1097.8h15.5v15.5h-15.5zM1169.1,1097.8h15.5v15.5h-15.5zM1169.7,1095.0h15.5v15.5h-15.5zM1170.2,1095.0h15.5v15.5h-15.5zM1170.8,1097.8h15.5v15.5h-15.5zM1171.3,1097.8h15.5v15.5h-15.5zM1171.8,1095.0h15.5v15.5h-15.5zM1172.4,1097.8h15.5v15.5h-15.5zM1172.9,1095.0h15.5v15.5h-15.5zM1173.4,1095.0h15.5v15.5h-15.5zM1174.0,1097.8h15.5v15.5h-15.5zM1174.5,1097.8h15.5v15.5h-15.5zM1175.1,1097.8h15.5v15.5h-15.5zM1175.6,1097.8h15.5v15.5h-15.5zM1176.1,1095.0h15.5v15.5h-15.5zM1176.7,1095.0h15.5v15.5h-15.5zM1177.2,1097.8h15.5v15.5h-15.5zM1177.8,1097.8h15.5v15.5h-15.5zM1178.3,1095.0h15.5v15.5h-15.5zM1178.8,1095.0h15.5v15.5h-15.5zM1179.4,1095.0h15.5v15.5h-15.5zM1179.9,1095.0h15.5v15.5h-15.5zM1180.4,1095.0h15.5v15.5h-15.5zM1181.0,1095.0h15.5v15.5h-15.5zM1181.5,1092.3h15.5v15.5h-15.5zM1182.1,1095.0h15.5v15.5h-15.5zM1182.6,1095.0h15.5v15.5h-15.5zM1183.1,1092.3h15.5v15.5h-15.5zM1183.7,1095.0h15.5v15.5h-15.5zM1184.2,1092.3h15.5v15.5h-15.5zM1184.8,1092.3h15.5v15.5h-15.5zM1185.3,1095.0h15.5v15.5h-15.5zM1185.8,1095.0h15.5v15.5h-15.5zM1186.4,1092.3h15.5v15.5h-15.5zM1186.9,1095.0h15.5v15.5h-15.5zM1187.4,1092.3h15.5v15.5h-15.5zM1188.0,1092.3h15.5v15.5h-15.5zM1188.5,1092.3h15.5v15.5h-15.5zM1189.1,1092.3h15.5v15.5h-15.5zM1189.6,1092.3h15.5v15.5h-15.5zM1190.1,1092.3h15.5v15.5h-15.5zM1190.7,1095.0h15.5v15.5h-15.5zM1191.2,1092.3h15.5v15.5h-15.5zM1191.8,1092.3h15.5v15.5h-15.5zM1192.3,1092.3h15.5v15.5h-15.5zM1192.8,1092.3h15.5v15.5h-15.5zM1193.4,1092.3h15.5v15.5h-15.5zM1193.9,1092.3h15.5v15.5h-15.5zM1194.5,1092.3h15.5v15.5h-15.5zM1195.0,1092.3h15.5v15.5h-15.5zM1195.5,1092.3h15.5v15.5h-15.5zM1196.1,1092.3h15.5v15.5h-15.5zM1196.6,1089.5h15.5v15.5h-15.5zM1197.1,1092.3h15.5v15.5h-15.5zM1197.7,1092.3h15.5v15.5h-15.5zM1198.2,1089.5h15.5v15.5h-15.5zM1198.8,1092.3h15.5v15.5h-15.5zM1199.3,1092.3h15.5v15.5h-15.5zM1199.8,1092.3h15.5v15.5h-15.5zM1200.4,1092.3h15.5v15.5h-15.5zM1200.9,1092.3h15.5v15.5h-15.5zM1201.5,1092.3h15.5v15.5h-15.5zM1202.0,1089.5h15.5v15.5h-15.5zM1202.5,1089.5h15.5v15.5h-15.5zM1203.1,1092.3h15.5v15.5h-15.5zM1203.6,1092.3h15.5v15.5h-15.5zM1204.1,1092.3h15.5v15.5h-15.5zM1204.7,1092.3h15.5v15.5h-15.5zM1205.2,1092.3h15.5v15.5h-15.5zM1205.8,1089.5h15.5v15.5h-15.5zM1206.3,1089.5h15.5v15.5h-15.5zM1206.8,1089.5h15.5v15.5h-15.5zM1207.4,1089.5h15.5v15.5h-15.5zM1207.9,1089.5h15.5v15.5h-15.5zM1208.5,1089.5h15.5v15.5h-15.5zM1209.0,1089.5h15.5v15.5h-15.5zM1209.5,1089.5h15.5v15.5h-15.5zM1210.1,1089.5h15.5v15.5h-15.5zM1210.6,1089.5h15.5v15.5h-15.5zM1211.1,1089.5h15.5v15.5h-15.5zM1211.7,1089.5h15.5v15.5h-15.5zM1212.2,1089.5h15.5v15.5h-15.5zM1212.8,1089.5h15.5v15.5h-15.5zM1213.3,1089.5h15.5v15.5h-15.5zM1213.8,1086.8h15.5v15.5h-15.5zM1214.4,1089.5h15.5v15.5h-15.5zM1214.9,1089.5h15.5v15.5h-15.5zM1215.5,1086.8h15.5v15.5h-15.5zM1216.0,1086.8h15.5v15.5h-15.5zM1216.5,1089.5h15.5v15.5h-15.5zM1217.1,1089.5h15.5v15.5h-15.5zM1217.6,1086.8h15.5v15.5h-15.5zM1218.2,1086.8h15.5v15.5h-15.5zM1218.7,1086.8h15.5v15.5h-15.5zM1219.2,1089.5h15.5v15.5h-15.5zM1219.8,1086.8h15.5v15.5h-15.5zM1220.3,1086.8h15.5v15.5h-15.5zM1220.8,1089.5h15.5v15.5h-15.5zM1221.4,1089.5h15.5v15.5h-15.5zM1221.9,1086.8h15.5v15.5h-15.5zM1222.5,1089.5h15.5v15.5h-15.5zM1223.0,1089.5h15.5v15.5h-15.5zM1223.5,1086.8h15.5v15.5h-15.5zM1224.1,1086.8h15.5v15.5h-15.5zM1224.6,1086.8h15.5v15.5h-15.5zM1225.2,1086.8h15.5v15.5h-15.5zM1225.7,1086.8h15.5v15.5h-15.5zM1226.2,1086.8h15.5v15.5h-15.5zM1226.8,1086.8h15.5v15.5h-15.5zM1227.3,1086.8h15.5v15.5h-15.5zM1227.8,1086.8h15.5v15.5h-15.5zM1228.4,1086.8h15.5v15.5h-15.5zM1228.9,1086.8h15.5v15.5h-15.5zM1229.5,1086.8h15.5v15.5h-15.5zM1230.0,1086.8h15.5v15.5h-15.5zM1230.5,1086.8h15.5v15.5h-15.5zM1231.1,1086.8h15.5v15.5h-15.5zM1231.6,1086.8h15.5v15.5h-15.5zM1232.2,1086.8h15.5v15.5h-15.5zM1232.7,1086.8h15.5v15.5h-15.5zM1233.2,1086.8h15.5v15.5h-15.5zM1233.8,1086.8h15.5v15.5h-15.5zM1234.3,1086.8h15.5v15.5h-15.5zM1234.8,1086.8h15.5v15.5h-15.5zM1235.4,1086.8h15.5v15.5h-15.5zM1235.9,1086.8h15.5v15.5h-15.5zM1236.5,1086.8h15.5v15.5h-15.5zM1237.0,1086.8h15.5v15.5h-15.5zM1237.5,1084.0h15.5v15.5h-15.5zM1238.1,1086.8h15.5v15.5h-15.5zM1238.6,1086.8h15.5v15.5h-15.5zM1239.2,1086.8h15.5v15.5h-15.5zM1239.7,1086.8h15.5v15.5h-15.5zM1240.2,1086.8h15.5v15.5h-15.5zM1240.8,1086.8h15.5v15.5h-15.5zM1241.3,1086.8h15.5v15.5h-15.5zM1241.9,1084.0h15.5v15.5h-15.5zM1242.4,1086.8h15.5v15.5h-15.5zM1242.9,1086.8h15.5v15.5h-15.5zM1243.5,1086.8h15.5v15.5h-15.5zM1244.0,1086.8h15.5v15.5h-15.5zM1244.5,1086.8h15.5v15.5h-15.5zM1245.1,1086.8h15.5v15.5h-15.5zM1245.6,1084.0h15.5v15.5h-15.5zM1246.2,1086.8h15.5v15.5h-15.5zM1246.7,1086.8h15.5v15.5h-15.5zM1247.2,1084.0h15.5v15.5h-15.5zM1247.8,1086.8h15.5v15.5h-15.5zM1248.3,1086.8h15.5v15.5h-15.5zM1248.9,1086.8h15.5v15.5h-15.5zM1249.4,1086.8h15.5v15.5h-15.5zM1249.9,1084.0h15.5v15.5h-15.5zM1250.5,1084.0h15.5v15.5h-15.5zM1251.0,1086.8h15.5v15.5h-15.5zM1251.5,1084.0h15.5v15.5h-15.5zM1252.1,1086.8h15.5v15.5h-15.5zM1252.6,1086.8h15.5v15.5h-15.5zM1253.2,1084.0h15.5v15.5h-15.5zM1253.7,1086.8h15.5v15.5h-15.5zM1254.2,1084.0h15.5v15.5h-15.5zM1254.8,1084.0h15.5v15.5h-15.5zM1255.3,1086.8h15.5v15.5h-15.5zM1255.9,1084.0h15.5v15.5h-15.5zM1256.4,1084.0h15.5v15.5h-15.5zM1256.9,1084.0h15.5v15.5h-15.5zM1257.5,1084.0h15.5v15.5h-15.5zM1258.0,1084.0h15.5v15.5h-15.5zM1258.5,1084.0h15.5v15.5h-15.5zM1259.1,1084.0h15.5v15.5h-15.5zM1259.6,1084.0h15.5v15.5h-15.5zM1260.2,1086.8h15.5v15.5h-15.5zM1260.7,1086.8h15.5v15.5h-15.5zM1261.2,1086.8h15.5v15.5h-15.5zM1261.8,1084.0h15.5v15.5h-15.5zM1262.3,1084.0h15.5v15.5h-15.5zM1262.9,1084.0h15.5v15.5h-15.5zM1263.4,1084.0h15.5v15.5h-15.5zM1263.9,1086.8h15.5v15.5h-15.5zM1264.5,1084.0h15.5v15.5h-15.5zM1265.0,1084.0h15.5v15.5h-15.5zM1265.6,1084.0h15.5v15.5h-15.5zM1266.1,1084.0h15.5v15.5h-15.5zM1266.6,1084.0h15.5v15.5h-15.5zM1267.2,1084.0h15.5v15.5h-15.5zM1267.7,1086.8h15.5v15.5h-15.5zM1268.2,1084.0h15.5v15.5h-15.5zM1268.8,1084.0h15.5v15.5h-15.5zM1269.3,1084.0h15.5v15.5h-15.5zM1269.9,1084.0h15.5v15.5h-15.5zM1270.4,1084.0h15.5v15.5h-15.5zM1270.9,1084.0h15.5v15.5h-15.5zM1271.5,1084.0h15.5v15.5h-15.5zM1272.0,1084.0h15.5v15.5h-15.5zM1272.6,1086.8h15.5v15.5h-15.5zM1273.1,1084.0h15.5v15.5h-15.5zM1273.6,1084.0h15.5v15.5h-15.5zM1274.2,1084.0h15.5v15.5h-15.5zM1274.7,1084.0h15.5v15.5h-15.5zM1275.2,1084.0h15.5v15.5h-15.5zM1275.8,1084.0h15.5v15.5h-15.5zM1276.3,1084.0h15.5v15.5h-15.5zM1276.9,1084.0h15.5v15.5h-15.5zM1277.4,1084.0h15.5v15.5h-15.5zM1277.9,1084.0h15.5v15.5h-15.5zM1278.5,1084.0h15.5v15.5h-15.5zM1279.0,1084.0h15.5v15.5h-15.5zM1279.6,1084.0h15.5v15.5h-15.5zM1280.1,1084.0h15.5v15.5h-15.5zM1280.6,1084.0h15.5v15.5h-15.5zM1281.2,1084.0h15.5v15.5h-15.5zM1281.7,1084.0h15.5v15.5h-15.5zM1282.2,1084.0h15.5v15.5h-15.5zM1282.8,1084.0h15.5v15.5h-15.5zM1283.3,1084.0h15.5v15.5h-15.5zM1283.9,1084.0h15.5v15.5h-15.5zM1284.4,1084.0h15.5v15.5h-15.5zM1284.9,1084.0h15.5v15.5h-15.5zM1285.5,1084.0h15.5v15.5h-15.5zM1286.0,1084.0h15.5v15.5h-15.5zM1286.6,1084.0h15.5v15.5h-15.5zM1287.1,1084.0h15.5v15.5h-15.5zM1287.6,1084.0h15.5v15.5h-15.5zM1288.2,1084.0h15.5v15.5h-15.5zM1288.7,1084.0h15.5v15.5h-15.5zM1289.3,1084.0h15.5v15.5h-15.5zM1289.8,1084.0h15.5v15.5h-15.5zM1290.3,1084.0h15.5v15.5h-15.5zM1290.9,1084.0h15.5v15.5h-15.5zM1291.4,1084.0h15.5v15.5h-15.5zM1291.9,1084.0h15.5v15.5h-15.5zM1292.5,1081.3h15.5v15.5h-15.5zM1293.0,1084.0h15.5v15.5h-15.5zM1293.6,1081.3h15.5v15.5h-15.5zM1294.1,1081.3h15.5v15.5h-15.5zM1294.6,1081.3h15.5v15.5h-15.5zM1295.2,1081.3h15.5v15.5h-15.5zM1295.7,1084.0h15.5v15.5h-15.5zM1296.3,1081.3h15.5v15.5h-15.5zM1296.8,1084.0h15.5v15.5h-15.5zM1297.3,1084.0h15.5v15.5h-15.5zM1297.9,1084.0h15.5v15.5h-15.5zM1298.4,1084.0h15.5v15.5h-15.5zM1298.9,1084.0h15.5v15.5h-15.5zM1299.5,1081.3h15.5v15.5h-15.5zM1300.0,1081.3h15.5v15.5h-15.5zM1300.6,1081.3h15.5v15.5h-15.5zM1301.1,1084.0h15.5v15.5h-15.5zM1301.6,1084.0h15.5v15.5h-15.5zM1302.2,1081.3h15.5v15.5h-15.5zM1302.7,1084.0h15.5v15.5h-15.5zM1303.3,1084.0h15.5v15.5h-15.5zM1303.8,1081.3h15.5v15.5h-15.5zM1304.3,1081.3h15.5v15.5h-15.5zM1304.9,1084.0h15.5v15.5h-15.5zM1305.4,1081.3h15.5v15.5h-15.5zM1305.9,1084.0h15.5v15.5h-15.5zM1306.5,1084.0h15.5v15.5h-15.5zM1307.0,1081.3h15.5v15.5h-15.5zM1307.6,1081.3h15.5v15.5h-15.5zM1308.1,1081.3h15.5v15.5h-15.5zM1308.6,1081.3h15.5v15.5h-15.5zM1309.2,1084.0h15.5v15.5h-15.5zM1309.7,1081.3h15.5v15.5h-15.5zM1310.3,1084.0h15.5v15.5h-15.5zM1310.8,1084.0h15.5v15.5h-15.5zM1311.3,1081.3h15.5v15.5h-15.5zM1311.9,1084.0h15.5v15.5h-15.5zM1312.4,1081.3h15.5v15.5h-15.5zM1313.0,1081.3h15.5v15.5h-15.5zM1313.5,1081.3h15.5v15.5h-15.5zM1314.0,1081.3h15.5v15.5h-15.5zM1314.6,1081.3h15.5v15.5h-15.5zM1315.1,1081.3h15.5v15.5h-15.5zM1315.6,1081.3h15.5v15.5h-15.5zM1316.2,1081.3h15.5v15.5h-15.5zM1316.7,1081.3h15.5v15.5h-15.5zM1317.3,1081.3h15.5v15.5h-15.5zM1317.8,1081.3h15.5v15.5h-15.5zM1318.3,1081.3h15.5v15.5h-15.5zM1318.9,1081.3h15.5v15.5h-15.5zM1319.4,1081.3h15.5v15.5h-15.5zM1320.0,1081.3h15.5v15.5h-15.5zM1320.5,1081.3h15.5v15.5h-15.5zM1321.0,1081.3h15.5v15.5h-15.5zM1321.6,1081.3h15.5v15.5h-15.5zM1322.1,1081.3h15.5v15.5h-15.5zM1322.6,1081.3h15.5v15.5h-15.5zM1323.2,1081.3h15.5v15.5h-15.5zM1323.7,1081.3h15.5v15.5h-15.5zM1324.3,1081.3h15.5v15.5h-15.5zM1324.8,1081.3h15.5v15.5h-15.5zM1325.3,1081.3h15.5v15.5h-15.5zM1325.9,1081.3h15.5v15.5h-15.5zM1326.4,1081.3h15.5v15.5h-15.5zM1327.0,1081.3h15.5v15.5h-15.5zM1327.5,1081.3h15.5v15.5h-15.5zM1328.0,1081.3h15.5v15.5h-15.5zM1328.6,1081.3h15.5v15.5h-15.5zM1329.1,1078.5h15.5v15.5h-15.5zM1329.6,1081.3h15.5v15.5h-15.5zM1330.2,1081.3h15.5v15.5h-15.5zM1330.7,1081.3h15.5v15.5h-15.5zM1331.3,1081.3h15.5v15.5h-15.5zM1331.8,1081.3h15.5v15.5h-15.5zM1332.3,1081.3h15.5v15.5h-15.5zM1332.9,1081.3h15.5v15.5h-15.5zM1333.4,1081.3h15.5v15.5h-15.5zM1334.0,1081.3h15.5v15.5h-15.5zM1334.5,1081.3h15.5v15.5h-15.5zM1335.0,1081.3h15.5v15.5h-15.5zM1335.6,1081.3h15.5v15.5h-15.5zM1336.1,1081.3h15.5v15.5h-15.5zM1336.7,1081.3h15.5v15.5h-15.5zM1337.2,1081.3h15.5v15.5h-15.5zM1337.7,1081.3h15.5v15.5h-15.5zM1338.3,1081.3h15.5v15.5h-15.5zM1338.8,1081.3h15.5v15.5h-15.5zM1339.3,1081.3h15.5v15.5h-15.5zM1339.9,1078.5h15.5v15.5h-15.5zM1340.4,1081.3h15.5v15.5h-15.5zM1341.0,1081.3h15.5v15.5h-15.5zM1341.5,1078.5h15.5v15.5h-15.5zM1342.0,1078.5h15.5v15.5h-15.5zM1342.6,1078.5h15.5v15.5h-15.5zM1343.1,1078.5h15.5v15.5h-15.5zM1343.7,1078.5h15.5v15.5h-15.5zM1344.2,1081.3h15.5v15.5h-15.5zM1344.7,1081.3h15.5v15.5h-15.5zM1345.3,1081.3h15.5v15.5h-15.5zM1345.8,1081.3h15.5v15.5h-15.5zM1346.3,1078.5h15.5v15.5h-15.5zM1346.9,1078.5h15.5v15.5h-15.5zM1347.4,1078.5h15.5v15.5h-15.5zM1348.0,1078.5h15.5v15.5h-15.5zM1348.5,1078.5h15.5v15.5h-15.5zM1349.0,1078.5h15.5v15.5h-15.5zM1349.6,1081.3h15.5v15.5h-15.5zM1350.1,1081.3h15.5v15.5h-15.5zM1350.7,1078.5h15.5v15.5h-15.5zM1351.2,1078.5h15.5v15.5h-15.5zM1351.7,1078.5h15.5v15.5h-15.5zM1352.3,1078.5h15.5v15.5h-15.5zM1352.8,1081.3h15.5v15.5h-15.5zM1353.3,1078.5h15.5v15.5h-15.5zM1353.9,1078.5h15.5v15.5h-15.5zM1354.4,1078.5h15.5v15.5h-15.5zM1355.0,1078.5h15.5v15.5h-15.5zM1355.5,1078.5h15.5v15.5h-15.5zM1356.0,1078.5h15.5v15.5h-15.5zM1356.6,1078.5h15.5v15.5h-15.5zM1357.1,1078.5h15.5v15.5h-15.5zM1357.7,1078.5h15.5v15.5h-15.5zM1358.2,1078.5h15.5v15.5h-15.5zM1358.7,1078.5h15.5v15.5h-15.5zM1359.3,1078.5h15.5v15.5h-15.5zM1359.8,1078.5h15.5v15.5h-15.5zM1360.4,1078.5h15.5v15.5h-15.5zM1360.9,1078.5h15.5v15.5h-15.5zM1361.4,1078.5h15.5v15.5h-15.5zM1362.0,1078.5h15.5v15.5h-15.5zM1362.5,1078.5h15.5v15.5h-15.5zM1363.0,1078.5h15.5v15.5h-15.5zM1363.6,1078.5h15.5v15.5h-15.5zM1364.1,1078.5h15.5v15.5h-15.5zM1364.7,1078.5h15.5v15.5h-15.5zM1365.2,1078.5h15.5v15.5h-15.5zM1365.7,1078.5h15.5v15.5h-15.5zM1366.3,1078.5h15.5v15.5h-15.5zM1366.8,1078.5h15.5v15.5h-15.5zM1367.4,1078.5h15.5v15.5h-15.5zM1367.9,1078.5h15.5v15.5h-15.5zM1368.4,1075.8h15.5v15.5h-15.5zM1369.0,1078.5h15.5v15.5h-15.5zM1369.5,1078.5h15.5v15.5h-15.5zM1370.0,1078.5h15.5v15.5h-15.5zM1370.6,1078.5h15.5v15.5h-15.5zM1371.1,1075.8h15.5v15.5h-15.5zM1371.7,1075.8h15.5v15.5h-15.5zM1372.2,1078.5h15.5v15.5h-15.5zM1372.7,1078.5h15.5v15.5h-15.5zM1373.3,1078.5h15.5v15.5h-15.5zM1373.8,1075.8h15.5v15.5h-15.5zM1374.4,1075.8h15.5v15.5h-15.5zM1374.9,1075.8h15.5v15.5h-15.5zM1375.4,1075.8h15.5v15.5h-15.5zM1376.0,1078.5h15.5v15.5h-15.5zM1376.5,1078.5h15.5v15.5h-15.5zM1377.0,1075.8h15.5v15.5h-15.5zM1377.6,1075.8h15.5v15.5h-15.5zM1378.1,1075.8h15.5v15.5h-15.5zM1378.7,1075.8h15.5v15.5h-15.5zM1379.2,1078.5h15.5v15.5h-15.5zM1379.7,1075.8h15.5v15.5h-15.5zM1380.3,1075.8h15.5v15.5h-15.5zM1380.8,1075.8h15.5v15.5h-15.5zM1381.4,1075.8h15.5v15.5h-15.5zM1381.9,1075.8h15.5v15.5h-15.5zM1382.4,1075.8h15.5v15.5h-15.5zM1383.0,1075.8h15.5v15.5h-15.5zM1383.5,1075.8h15.5v15.5h-15.5zM1384.1,1075.8h15.5v15.5h-15.5zM1384.6,1075.8h15.5v15.5h-15.5zM1385.1,1075.8h15.5v15.5h-15.5zM1385.7,1075.8h15.5v15.5h-15.5zM1386.2,1075.8h15.5v15.5h-15.5zM1386.7,1075.8h15.5v15.5h-15.5zM1387.3,1075.8h15.5v15.5h-15.5zM1387.8,1075.8h15.5v15.5h-15.5zM1388.4,1075.8h15.5v15.5h-15.5zM1388.9,1075.8h15.5v15.5h-15.5zM1389.4,1075.8h15.5v15.5h-15.5zM1390.0,1075.8h15.5v15.5h-15.5zM1390.5,1075.8h15.5v15.5h-15.5zM1391.1,1075.8h15.5v15.5h-15.5zM1391.6,1075.8h15.5v15.5h-15.5zM1392.1,1075.8h15.5v15.5h-15.5zM1392.7,1075.8h15.5v15.5h-15.5zM1393.2,1075.8h15.5v15.5h-15.5zM1393.7,1075.8h15.5v15.5h-15.5zM1394.3,1075.8h15.5v15.5h-15.5zM1394.8,1075.8h15.5v15.5h-15.5zM1395.4,1075.8h15.5v15.5h-15.5zM1395.9,1075.8h15.5v15.5h-15.5zM1396.4,1075.8h15.5v15.5h-15.5zM1397.0,1075.8h15.5v15.5h-15.5zM1397.5,1075.8h15.5v15.5h-15.5zM1398.1,1075.8h15.5v15.5h-15.5zM1398.6,1075.8h15.5v15.5h-15.5zM1399.1,1075.8h15.5v15.5h-15.5zM1399.7,1075.8h15.5v15.5h-15.5zM1400.2,1075.8h15.5v15.5h-15.5zM1400.7,1075.8h15.5v15.5h-15.5zM1401.3,1075.8h15.5v15.5h-15.5zM1401.8,1075.8h15.5v15.5h-15.5zM1402.4,1075.8h15.5v15.5h-15.5zM1402.9,1075.8h15.5v15.5h-15.5zM1403.4,1075.8h15.5v15.5h-15.5zM1404.0,1075.8h15.5v15.5h-15.5zM1404.5,1075.8h15.5v15.5h-15.5zM1405.1,1075.8h15.5v15.5h-15.5zM1405.6,1075.8h15.5v15.5h-15.5zM1406.1,1075.8h15.5v15.5h-15.5zM1406.7,1075.8h15.5v15.5h-15.5zM1407.2,1075.8h15.5v15.5h-15.5zM1407.8,1075.8h15.5v15.5h-15.5zM1408.3,1075.8h15.5v15.5h-15.5zM1408.8,1075.8h15.5v15.5h-15.5zM1409.4,1075.8h15.5v15.5h-15.5zM1409.9,1075.8h15.5v15.5h-15.5zM1410.4,1075.8h15.5v15.5h-15.5zM1411.0,1075.8h15.5v15.5h-15.5zM1411.5,1075.8h15.5v15.5h-15.5zM1412.1,1075.8h15.5v15.5h-15.5zM1412.6,1075.8h15.5v15.5h-15.5zM1413.1,1075.8h15.5v15.5h-15.5zM1413.7,1075.8h15.5v15.5h-15.5zM1414.2,1075.8h15.5v15.5h-15.5zM1414.8,1075.8h15.5v15.5h-15.5zM1415.3,1075.8h15.5v15.5h-15.5zM1415.8,1075.8h15.5v15.5h-15.5zM1416.4,1075.8h15.5v15.5h-15.5zM1416.9,1075.8h15.5v15.5h-15.5zM1417.4,1075.8h15.5v15.5h-15.5zM1418.0,1075.8h15.5v15.5h-15.5zM1418.5,1075.8h15.5v15.5h-15.5zM1419.1,1075.8h15.5v15.5h-15.5zM1419.6,1075.8h15.5v15.5h-15.5zM1420.1,1075.8h15.5v15.5h-15.5zM1420.7,1075.8h15.5v15.5h-15.5zM1421.2,1075.8h15.5v15.5h-15.5zM1421.8,1075.8h15.5v15.5h-15.5zM1422.3,1075.8h15.5v15.5h-15.5zM1422.8,1075.8h15.5v15.5h-15.5zM1423.4,1075.8h15.5v15.5h-15.5zM1423.9,1075.8h15.5v15.5h-15.5zM1424.4,1075.8h15.5v15.5h-15.5zM1425.0,1075.8h15.5v15.5h-15.5zM1425.5,1075.8h15.5v15.5h-15.5zM1426.1,1075.8h15.5v15.5h-15.5zM1426.6,1075.8h15.5v15.5h-15.5zM1427.1,1075.8h15.5v15.5h-15.5zM1427.7,1075.8h15.5v15.5h-15.5zM1428.2,1075.8h15.5v15.5h-15.5zM1428.8,1075.8h15.5v15.5h-15.5zM1429.3,1075.8h15.5v15.5h-15.5zM1429.8,1075.8h15.5v15.5h-15.5zM1430.4,1075.8h15.5v15.5h-15.5zM1430.9,1075.8h15.5v15.5h-15.5zM1431.5,1075.8h15.5v15.5h-15.5zM1432.0,1075.8h15.5v15.5h-15.5zM1432.5,1075.8h15.5v15.5h-15.5zM1433.1,1075.8h15.5v15.5h-15.5zM1433.6,1075.8h15.5v15.5h-15.5zM1434.1,1075.8h15.5v15.5h-15.5zM1434.7,1075.8h15.5v15.5h-15.5zM1435.2,1075.8h15.5v15.5h-15.5zM1435.8,1075.8h15.5v15.5h-15.5zM1436.3,1075.8h15.5v15.5h-15.5zM1436.8,1075.8h15.5v15.5h-15.5zM1437.4,1075.8h15.5v15.5h-15.5zM1437.9,1075.8h15.5v15.5h-15.5zM1438.5,1075.8h15.5v15.5h-15.5zM1439.0,1075.8h15.5v15.5h-15.5zM1439.5,1075.8h15.5v15.5h-15.5zM1440.1,1075.8h15.5v15.5h-15.5zM1440.6,1075.8h15.5v15.5h-15.5zM1441.1,1075.8h15.5v15.5h-15.5zM1441.7,1075.8h15.5v15.5h-15.5zM1442.2,1075.8h15.5v15.5h-15.5zM1442.8,1075.8h15.5v15.5h-15.5zM1443.3,1075.8h15.5v15.5h-15.5zM1443.8,1075.8h15.5v15.5h-15.5zM1444.4,1075.8h15.5v15.5h-15.5zM1444.9,1075.8h15.5v15.5h-15.5zM1445.5,1075.8h15.5v15.5h-15.5zM1446.0,1075.8h15.5v15.5h-15.5zM1446.5,1075.8h15.5v15.5h-15.5zM1447.1,1075.8h15.5v15.5h-15.5zM1447.6,1075.8h15.5v15.5h-15.5zM1448.1,1075.8h15.5v15.5h-15.5zM1448.7,1075.8h15.5v15.5h-15.5zM1449.2,1075.8h15.5v15.5h-15.5zM1449.8,1075.8h15.5v15.5h-15.5zM1450.3,1075.8h15.5v15.5h-15.5zM1450.8,1075.8h15.5v15.5h-15.5zM1451.4,1075.8h15.5v15.5h-15.5zM1451.9,1075.8h15.5v15.5h-15.5zM1452.5,1075.8h15.5v15.5h-15.5zM1453.0,1075.8h15.5v15.5h-15.5zM1453.5,1075.8h15.5v15.5h-15.5zM1454.1,1075.8h15.5v15.5h-15.5zM1454.6,1075.8h15.5v15.5h-15.5zM1455.2,1075.8h15.5v15.5h-15.5zM1455.7,1075.8h15.5v15.5h-15.5zM1456.2,1075.8h15.5v15.5h-15.5zM1456.8,1075.8h15.5v15.5h-15.5zM1457.3,1075.8h15.5v15.5h-15.5zM1457.8,1075.8h15.5v15.5h-15.5zM1458.4,1075.8h15.5v15.5h-15.5zM1458.9,1075.8h15.5v15.5h-15.5zM1459.5,1075.8h15.5v15.5h-15.5zM1460.0,1075.8h15.5v15.5h-15.5zM1460.5,1078.5h15.5v15.5h-15.5zM1461.1,1075.8h15.5v15.5h-15.5zM1461.6,1075.8h15.5v15.5h-15.5zM1462.2,1075.8h15.5v15.5h-15.5zM1462.7,1078.5h15.5v15.5h-15.5zM1463.2,1078.5h15.5v15.5h-15.5zM1463.8,1075.8h15.5v15.5h-15.5zM1464.3,1078.5h15.5v15.5h-15.5zM1464.8,1075.8h15.5v15.5h-15.5zM1465.4,1075.8h15.5v15.5h-15.5zM1465.9,1078.5h15.5v15.5h-15.5zM1466.5,1078.5h15.5v15.5h-15.5zM1467.0,1075.8h15.5v15.5h-15.5zM1467.5,1075.8h15.5v15.5h-15.5zM1468.1,1078.5h15.5v15.5h-15.5zM1468.6,1075.8h15.5v15.5h-15.5zM1469.2,1075.8h15.5v15.5h-15.5zM1469.7,1078.5h15.5v15.5h-15.5zM1470.2,1078.5h15.5v15.5h-15.5zM1470.8,1075.8h15.5v15.5h-15.5zM1471.3,1078.5h15.5v15.5h-15.5zM1471.8,1078.5h15.5v15.5h-15.5zM1472.4,1075.8h15.5v15.5h-15.5zM1472.9,1075.8h15.5v15.5h-15.5zM1473.5,1078.5h15.5v15.5h-15.5zM1474.0,1078.5h15.5v15.5h-15.5zM1474.5,1078.5h15.5v15.5h-15.5zM1475.1,1078.5h15.5v15.5h-15.5zM1475.6,1078.5h15.5v15.5h-15.5zM1476.2,1078.5h15.5v15.5h-15.5zM1476.7,1078.5h15.5v15.5h-15.5zM1477.2,1078.5h15.5v15.5h-15.5zM1477.8,1078.5h15.5v15.5h-15.5zM1478.3,1078.5h15.5v15.5h-15.5zM1478.9,1078.5h15.5v15.5h-15.5zM1479.4,1078.5h15.5v15.5h-15.5zM1479.9,1078.5h15.5v15.5h-15.5zM1480.5,1078.5h15.5v15.5h-15.5zM1481.0,1078.5h15.5v15.5h-15.5zM1481.5,1078.5h15.5v15.5h-15.5zM1482.1,1078.5h15.5v15.5h-15.5zM1482.6,1078.5h15.5v15.5h-15.5zM1483.2,1078.5h15.5v15.5h-15.5zM1483.7,1078.5h15.5v15.5h-15.5zM1484.2,1078.5h15.5v15.5h-15.5zM1484.8,1078.5h15.5v15.5h-15.5zM1485.3,1078.5h15.5v15.5h-15.5zM1485.9,1078.5h15.5v15.5h-15.5zM1486.4,1078.5h15.5v15.5h-15.5zM1486.9,1078.5h15.5v15.5h-15.5zM1487.5,1078.5h15.5v15.5h-15.5zM1488.0,1078.5h15.5v15.5h-15.5zM1488.5,1078.5h15.5v15.5h-15.5zM1489.1,1078.5h15.5v15.5h-15.5zM1489.6,1078.5h15.5v15.5h-15.5zM1490.2,1078.5h15.5v15.5h-15.5zM1490.7,1078.5h15.5v15.5h-15.5zM1491.2,1078.5h15.5v15.5h-15.5zM1491.8,1078.5h15.5v15.5h-15.5zM1492.3,1078.5h15.5v15.5h-15.5zM1492.9,1078.5h15.5v15.5h-15.5zM1493.4,1078.5h15.5v15.5h-15.5zM1493.9,1078.5h15.5v15.5h-15.5zM1494.5,1078.5h15.5v15.5h-15.5zM1495.0,1078.5h15.5v15.5h-15.5zM1495.5,1078.5h15.5v15.5h-15.5zM1496.1,1078.5h15.5v15.5h-15.5zM1496.6,1078.5h15.5v15.5h-15.5zM1497.2,1078.5h15.5v15.5h-15.5zM1497.7,1078.5h15.5v15.5h-15.5zM1498.2,1078.5h15.5v15.5h-15.5zM1498.8,1078.5h15.5v15.5h-15.5zM1499.3,1078.5h15.5v15.5h-15.5zM1499.9,1078.5h15.5v15.5h-15.5zM1500.4,1078.5h15.5v15.5h-15.5zM1500.9,1078.5h15.5v15.5h-15.5zM1501.5,1081.3h15.5v15.5h-15.5zM1502.0,1078.5h15.5v15.5h-15.5zM1502.6,1078.5h15.5v15.5h-15.5zM1503.1,1078.5h15.5v15.5h-15.5zM1503.6,1078.5h15.5v15.5h-15.5zM1504.2,1078.5h15.5v15.5h-15.5zM1504.7,1078.5h15.5v15.5h-15.5zM1505.2,1078.5h15.5v15.5h-15.5zM1505.8,1081.3h15.5v15.5h-15.5zM1506.3,1078.5h15.5v15.5h-15.5zM1506.9,1081.3h15.5v15.5h-15.5zM1507.4,1078.5h15.5v15.5h-15.5zM1507.9,1081.3h15.5v15.5h-15.5zM1508.5,1081.3h15.5v15.5h-15.5zM1509.0,1081.3h15.5v15.5h-15.5zM1509.6,1078.5h15.5v15.5h-15.5zM1510.1,1078.5h15.5v15.5h-15.5zM1510.6,1078.5h15.5v15.5h-15.5zM1511.2,1078.5h15.5v15.5h-15.5zM1511.7,1078.5h15.5v15.5h-15.5zM1512.2,1078.5h15.5v15.5h-15.5zM1512.8,1081.3h15.5v15.5h-15.5zM1513.3,1078.5h15.5v15.5h-15.5zM1513.9,1078.5h15.5v15.5h-15.5zM1514.4,1081.3h15.5v15.5h-15.5zM1514.9,1081.3h15.5v15.5h-15.5zM1515.5,1078.5h15.5v15.5h-15.5zM1516.0,1081.3h15.5v15.5h-15.5zM1516.6,1081.3h15.5v15.5h-15.5zM1517.1,1081.3h15.5v15.5h-15.5zM1517.6,1078.5h15.5v15.5h-15.5zM1518.2,1078.5h15.5v15.5h-15.5zM1518.7,1078.5h15.5v15.5h-15.5zM1519.2,1078.5h15.5v15.5h-15.5zM1519.8,1081.3h15.5v15.5h-15.5zM1520.3,1078.5h15.5v15.5h-15.5zM1520.9,1078.5h15.5v15.5h-15.5zM1521.4,1081.3h15.5v15.5h-15.5zM1521.9,1078.5h15.5v15.5h-15.5zM1522.5,1078.5h15.5v15.5h-15.5zM1523.0,1081.3h15.5v15.5h-15.5zM1523.6,1081.3h15.5v15.5h-15.5zM1524.1,1081.3h15.5v15.5h-15.5zM1524.6,1081.3h15.5v15.5h-15.5zM1525.2,1081.3h15.5v15.5h-15.5zM1525.7,1081.3h15.5v15.5h-15.5zM1526.3,1081.3h15.5v15.5h-15.5zM1526.8,1081.3h15.5v15.5h-15.5zM1527.3,1081.3h15.5v15.5h-15.5zM1527.9,1078.5h15.5v15.5h-15.5zM1528.4,1081.3h15.5v15.5h-15.5zM1528.9,1078.5h15.5v15.5h-15.5zM1529.5,1081.3h15.5v15.5h-15.5zM1530.0,1081.3h15.5v15.5h-15.5zM1530.6,1081.3h15.5v15.5h-15.5zM1531.1,1081.3h15.5v15.5h-15.5zM1531.6,1081.3h15.5v15.5h-15.5zM1532.2,1078.5h15.5v15.5h-15.5zM1532.7,1081.3h15.5v15.5h-15.5zM1533.3,1081.3h15.5v15.5h-15.5zM1533.8,1081.3h15.5v15.5h-15.5zM1534.3,1081.3h15.5v15.5h-15.5zM1534.9,1081.3h15.5v15.5h-15.5zM1535.4,1081.3h15.5v15.5h-15.5zM1535.9,1078.5h15.5v15.5h-15.5zM1536.5,1081.3h15.5v15.5h-15.5zM1537.0,1081.3h15.5v15.5h-15.5zM1537.6,1081.3h15.5v15.5h-15.5zM1538.1,1081.3h15.5v15.5h-15.5zM1538.6,1081.3h15.5v15.5h-15.5zM1539.2,1081.3h15.5v15.5h-15.5zM1539.7,1081.3h15.5v15.5h-15.5zM1540.3,1081.3h15.5v15.5h-15.5zM1540.8,1081.3h15.5v15.5h-15.5zM1541.3,1081.3h15.5v15.5h-15.5zM1541.9,1081.3h15.5v15.5h-15.5zM1542.4,1081.3h15.5v15.5h-15.5zM1542.9,1081.3h15.5v15.5h-15.5zM1543.5,1081.3h15.5v15.5h-15.5zM1544.0,1081.3h15.5v15.5h-15.5zM1544.6,1081.3h15.5v15.5h-15.5zM1545.1,1081.3h15.5v15.5h-15.5zM1545.6,1081.3h15.5v15.5h-15.5zM1546.2,1081.3h15.5v15.5h-15.5zM1546.7,1081.3h15.5v15.5h-15.5zM1547.3,1081.3h15.5v15.5h-15.5zM1547.8,1081.3h15.5v15.5h-15.5zM1548.3,1081.3h15.5v15.5h-15.5zM1548.9,1081.3h15.5v15.5h-15.5zM1549.4,1081.3h15.5v15.5h-15.5zM1550.0,1081.3h15.5v15.5h-15.5zM1550.5,1081.3h15.5v15.5h-15.5zM1551.0,1081.3h15.5v15.5h-15.5zM1551.6,1081.3h15.5v15.5h-15.5zM1552.1,1081.3h15.5v15.5h-15.5zM1552.6,1081.3h15.5v15.5h-15.5zM1553.2,1081.3h15.5v15.5h-15.5zM1553.7,1081.3h15.5v15.5h-15.5zM1554.3,1081.3h15.5v15.5h-15.5zM1554.8,1081.3h15.5v15.5h-15.5zM1555.3,1081.3h15.5v15.5h-15.5zM1555.9,1081.3h15.5v15.5h-15.5zM1556.4,1081.3h15.5v15.5h-15.5zM1557.0,1081.3h15.5v15.5h-15.5zM1557.5,1081.3h15.5v15.5h-15.5zM1558.0,1081.3h15.5v15.5h-15.5zM1558.6,1081.3h15.5v15.5h-15.5zM1559.1,1081.3h15.5v15.5h-15.5zM1559.6,1081.3h15.5v15.5h-15.5zM1560.2,1081.3h15.5v15.5h-15.5zM1560.7,1081.3h15.5v15.5h-15.5zM1561.3,1081.3h15.5v15.5h-15.5zM1561.8,1081.3h15.5v15.5h-15.5zM1562.3,1081.3h15.5v15.5h-15.5zM1562.9,1081.3h15.5v15.5h-15.5zM1563.4,1081.3h15.5v15.5h-15.5zM1564.0,1081.3h15.5v15.5h-15.5zM1564.5,1081.3h15.5v15.5h-15.5zM1565.0,1081.3h15.5v15.5h-15.5zM1565.6,1081.3h15.5v15.5h-15.5zM1566.1,1081.3h15.5v15.5h-15.5zM1566.6,1081.3h15.5v15.5h-15.5zM1567.2,1081.3h15.5v15.5h-15.5zM1567.7,1081.3h15.5v15.5h-15.5zM1568.3,1081.3h15.5v15.5h-15.5zM1568.8,1081.3h15.5v15.5h-15.5zM1569.3,1081.3h15.5v15.5h-15.5zM1569.9,1081.3h15.5v15.5h-15.5zM1570.4,1081.3h15.5v15.5h-15.5zM1571.0,1081.3h15.5v15.5h-15.5zM1571.5,1081.3h15.5v15.5h-15.5zM1572.0,1081.3h15.5v15.5h-15.5zM1572.6,1081.3h15.5v15.5h-15.5zM1573.1,1081.3h15.5v15.5h-15.5zM1573.7,1081.3h15.5v15.5h-15.5zM1574.2,1081.3h15.5v15.5h-15.5zM1574.7,1081.3h15.5v15.5h-15.5zM1575.3,1081.3h15.5v15.5h-15.5zM1575.8,1081.3h15.5v15.5h-15.5zM1576.3,1081.3h15.5v15.5h-15.5zM1576.9,1081.3h15.5v15.5h-15.5zM1577.4,1081.3h15.5v15.5h-15.5zM1578.0,1081.3h15.5v15.5h-15.5zM1578.5,1081.3h15.5v15.5h-15.5zM1579.0,1081.3h15.5v15.5h-15.5zM1579.6,1081.3h15.5v15.5h-15.5zM1580.1,1081.3h15.5v15.5h-15.5zM1580.7,1081.3h15.5v15.5h-15.5zM1581.2,1081.3h15.5v15.5h-15.5zM1581.7,1081.3h15.5v15.5h-15.5zM1582.3,1081.3h15.5v15.5h-15.5zM1582.8,1081.3h15.5v15.5h-15.5zM1583.3,1081.3h15.5v15.5h-15.5zM1583.9,1081.3h15.5v15.5h-15.5zM1584.4,1084.0h15.5v15.5h-15.5zM1585.0,1081.3h15.5v15.5h-15.5zM1585.5,1081.3h15.5v15.5h-15.5zM1586.0,1081.3h15.5v15.5h-15.5zM1586.6,1084.0h15.5v15.5h-15.5zM1587.1,1081.3h15.5v15.5h-15.5zM1587.7,1081.3h15.5v15.5h-15.5zM1588.2,1081.3h15.5v15.5h-15.5zM1588.7,1081.3h15.5v15.5h-15.5zM1589.3,1081.3h15.5v15.5h-15.5zM1589.8,1081.3h15.5v15.5h-15.5zM1590.3,1081.3h15.5v15.5h-15.5zM1590.9,1081.3h15.5v15.5h-15.5zM1591.4,1081.3h15.5v15.5h-15.5zM1592.0,1081.3h15.5v15.5h-15.5zM1592.5,1084.0h15.5v15.5h-15.5zM1593.0,1081.3h15.5v15.5h-15.5zM1593.6,1081.3h15.5v15.5h-15.5zM1594.1,1081.3h15.5v15.5h-15.5zM1594.7,1081.3h15.5v15.5h-15.5zM1595.2,1081.3h15.5v15.5h-15.5zM1595.7,1081.3h15.5v15.5h-15.5zM1596.3,1081.3h15.5v15.5h-15.5zM1596.8,1084.0h15.5v15.5h-15.5zM1597.4,1081.3h15.5v15.5h-15.5zM1597.9,1081.3h15.5v15.5h-15.5zM1598.4,1081.3h15.5v15.5h-15.5zM1599.0,1084.0h15.5v15.5h-15.5zM1599.5,1081.3h15.5v15.5h-15.5zM1600.0,1081.3h15.5v15.5h-15.5zM1600.6,1084.0h15.5v15.5h-15.5zM1601.1,1081.3h15.5v15.5h-15.5zM1601.7,1081.3h15.5v15.5h-15.5zM1602.2,1081.3h15.5v15.5h-15.5zM1602.7,1081.3h15.5v15.5h-15.5zM1603.3,1084.0h15.5v15.5h-15.5zM1603.8,1081.3h15.5v15.5h-15.5zM1604.4,1081.3h15.5v15.5h-15.5zM1604.9,1081.3h15.5v15.5h-15.5zM1605.4,1081.3h15.5v15.5h-15.5zM1606.0,1081.3h15.5v15.5h-15.5zM1606.5,1081.3h15.5v15.5h-15.5zM1607.0,1081.3h15.5v15.5h-15.5zM1607.6,1081.3h15.5v15.5h-15.5zM1608.1,1081.3h15.5v15.5h-15.5zM1608.7,1081.3h15.5v15.5h-15.5zM1609.2,1081.3h15.5v15.5h-15.5zM1609.7,1081.3h15.5v15.5h-15.5zM1610.3,1081.3h15.5v15.5h-15.5zM1610.8,1081.3h15.5v15.5h-15.5zM1611.4,1081.3h15.5v15.5h-15.5zM1611.9,1084.0h15.5v15.5h-15.5zM1612.4,1081.3h15.5v15.5h-15.5zM1613.0,1081.3h15.5v15.5h-15.5zM1613.5,1081.3h15.5v15.5h-15.5zM1614.0,1081.3h15.5v15.5h-15.5zM1614.6,1081.3h15.5v15.5h-15.5zM1615.1,1081.3h15.5v15.5h-15.5zM1615.7,1084.0h15.5v15.5h-15.5zM1616.2,1081.3h15.5v15.5h-15.5zM1616.7,1084.0h15.5v15.5h-15.5zM1617.3,1084.0h15.5v15.5h-15.5zM1617.8,1081.3h15.5v15.5h-15.5zM1618.4,1081.3h15.5v15.5h-15.5zM1618.9,1081.3h15.5v15.5h-15.5zM1619.4,1081.3h15.5v15.5h-15.5zM1620.0,1081.3h15.5v15.5h-15.5zM1620.5,1081.3h15.5v15.5h-15.5zM1621.1,1081.3h15.5v15.5h-15.5zM1621.6,1081.3h15.5v15.5h-15.5zM1622.1,1081.3h15.5v15.5h-15.5zM1622.7,1081.3h15.5v15.5h-15.5zM1623.2,1081.3h15.5v15.5h-15.5zM1623.7,1081.3h15.5v15.5h-15.5zM1624.3,1081.3h15.5v15.5h-15.5zM1624.8,1081.3h15.5v15.5h-15.5zM1625.4,1081.3h15.5v15.5h-15.5zM1625.9,1081.3h15.5v15.5h-15.5zM1626.4,1081.3h15.5v15.5h-15.5zM1627.0,1081.3h15.5v15.5h-15.5zM1627.5,1081.3h15.5v15.5h-15.5zM1628.1,1081.3h15.5v15.5h-15.5zM1628.6,1081.3h15.5v15.5h-15.5zM1629.1,1081.3h15.5v15.5h-15.5zM1629.7,1081.3h15.5v15.5h-15.5zM1630.2,1084.0h15.5v15.5h-15.5zM1630.7,1081.3h15.5v15.5h-15.5zM1631.3,1081.3h15.5v15.5h-15.5zM1631.8,1081.3h15.5v15.5h-15.5zM1632.4,1081.3h15.5v15.5h-15.5zM1632.9,1081.3h15.5v15.5h-15.5zM1633.4,1084.0h15.5v15.5h-15.5zM1634.0,1081.3h15.5v15.5h-15.5zM1634.5,1084.0h15.5v15.5h-15.5zM1635.1,1081.3h15.5v15.5h-15.5zM1635.6,1081.3h15.5v15.5h-15.5zM1636.1,1081.3h15.5v15.5h-15.5zM1636.7,1084.0h15.5v15.5h-15.5zM1637.2,1081.3h15.5v15.5h-15.5zM1637.7,1081.3h15.5v15.5h-15.5zM1638.3,1081.3h15.5v15.5h-15.5zM1638.8,1084.0h15.5v15.5h-15.5zM1639.4,1081.3h15.5v15.5h-15.5zM1639.9,1084.0h15.5v15.5h-15.5zM1640.4,1081.3h15.5v15.5h-15.5zM1641.0,1081.3h15.5v15.5h-15.5zM1641.5,1081.3h15.5v15.5h-15.5zM1642.1,1081.3h15.5v15.5h-15.5zM1642.6,1081.3h15.5v15.5h-15.5zM1643.1,1081.3h15.5v15.5h-15.5zM1643.7,1081.3h15.5v15.5h-15.5zM1644.2,1084.0h15.5v15.5h-15.5zM1644.8,1081.3h15.5v15.5h-15.5zM1645.3,1081.3h15.5v15.5h-15.5zM1645.8,1081.3h15.5v15.5h-15.5zM1646.4,1081.3h15.5v15.5h-15.5zM1646.9,1084.0h15.5v15.5h-15.5zM1647.4,1081.3h15.5v15.5h-15.5zM1648.0,1081.3h15.5v15.5h-15.5zM1648.5,1081.3h15.5v15.5h-15.5zM1649.1,1084.0h15.5v15.5h-15.5zM1649.6,1081.3h15.5v15.5h-15.5zM1650.1,1081.3h15.5v15.5h-15.5zM1650.7,1081.3h15.5v15.5h-15.5zM1651.2,1081.3h15.5v15.5h-15.5zM1651.8,1081.3h15.5v15.5h-15.5zM1652.3,1081.3h15.5v15.5h-15.5zM1652.8,1081.3h15.5v15.5h-15.5zM1653.4,1081.3h15.5v15.5h-15.5zM1653.9,1081.3h15.5v15.5h-15.5zM1654.4,1081.3h15.5v15.5h-15.5zM1655.0,1081.3h15.5v15.5h-15.5zM1655.5,1081.3h15.5v15.5h-15.5zM1656.1,1081.3h15.5v15.5h-15.5zM1656.6,1081.3h15.5v15.5h-15.5zM1657.1,1081.3h15.5v15.5h-15.5zM1657.7,1081.3h15.5v15.5h-15.5zM1658.2,1081.3h15.5v15.5h-15.5zM1658.8,1081.3h15.5v15.5h-15.5zM1659.3,1081.3h15.5v15.5h-15.5zM1659.8,1084.0h15.5v15.5h-15.5zM1660.4,1084.0h15.5v15.5h-15.5zM1660.9,1081.3h15.5v15.5h-15.5zM1661.4,1081.3h15.5v15.5h-15.5zM1662.0,1081.3h15.5v15.5h-15.5zM1662.5,1081.3h15.5v15.5h-15.5zM1663.1,1081.3h15.5v15.5h-15.5zM1663.6,1081.3h15.5v15.5h-15.5zM1664.1,1081.3h15.5v15.5h-15.5zM1664.7,1081.3h15.5v15.5h-15.5zM1665.2,1081.3h15.5v15.5h-15.5zM1665.8,1081.3h15.5v15.5h-15.5zM1666.3,1081.3h15.5v15.5h-15.5zM1666.8,1081.3h15.5v15.5h-15.5zM1667.4,1084.0h15.5v15.5h-15.5zM1667.9,1081.3h15.5v15.5h-15.5zM1668.5,1084.0h15.5v15.5h-15.5zM1669.0,1081.3h15.5v15.5h-15.5zM1669.5,1081.3h15.5v15.5h-15.5zM1670.1,1081.3h15.5v15.5h-15.5zM1670.6,1081.3h15.5v15.5h-15.5zM1671.1,1081.3h15.5v15.5h-15.5zM1671.7,1081.3h15.5v15.5h-15.5zM1672.2,1081.3h15.5v15.5h-15.5zM1672.8,1081.3h15.5v15.5h-15.5zM1673.3,1084.0h15.5v15.5h-15.5zM1673.8,1081.3h15.5v15.5h-15.5zM1674.4,1081.3h15.5v15.5h-15.5zM1674.9,1081.3h15.5v15.5h-15.5zM1675.5,1081.3h15.5v15.5h-15.5zM1676.0,1081.3h15.5v15.5h-15.5zM1676.5,1081.3h15.5v15.5h-15.5zM1677.1,1084.0h15.5v15.5h-15.5zM1677.6,1081.3h15.5v15.5h-15.5zM1678.1,1081.3h15.5v15.5h-15.5zM1678.7,1081.3h15.5v15.5h-15.5zM1679.2,1081.3h15.5v15.5h-15.5zM1679.8,1081.3h15.5v15.5h-15.5zM1680.3,1081.3h15.5v15.5h-15.5zM1680.8,1081.3h15.5v15.5h-15.5zM1681.4,1081.3h15.5v15.5h-15.5zM1681.9,1081.3h15.5v15.5h-15.5zM1682.5,1081.3h15.5v15.5h-15.5zM1683.0,1081.3h15.5v15.5h-15.5zM1683.5,1081.3h15.5v15.5h-15.5zM1684.1,1081.3h15.5v15.5h-15.5zM1684.6,1081.3h15.5v15.5h-15.5zM1685.1,1081.3h15.5v15.5h-15.5zM1685.7,1081.3h15.5v15.5h-15.5zM1686.2,1084.0h15.5v15.5h-15.5zM1686.8,1081.3h15.5v15.5h-15.5zM1687.3,1081.3h15.5v15.5h-15.5zM1687.8,1084.0h15.5v15.5h-15.5zM1688.4,1084.0h15.5v15.5h-15.5zM1688.9,1081.3h15.5v15.5h-15.5zM1689.5,1084.0h15.5v15.5h-15.5zM1690.0,1084.0h15.5v15.5h-15.5zM1690.5,1081.3h15.5v15.5h-15.5zM1691.1,1084.0h15.5v15.5h-15.5zM1691.6,1081.3h15.5v15.5h-15.5zM1692.2,1081.3h15.5v15.5h-15.5zM1692.7,1081.3h15.5v15.5h-15.5zM1693.2,1084.0h15.5v15.5h-15.5zM1693.8,1081.3h15.5v15.5h-15.5zM1694.3,1081.3h15.5v15.5h-15.5zM1694.8,1081.3h15.5v15.5h-15.5zM1695.4,1084.0h15.5v15.5h-15.5zM1695.9,1081.3h15.5v15.5h-15.5zM1696.5,1084.0h15.5v15.5h-15.5zM1697.0,1081.3h15.5v15.5h-15.5zM1697.5,1081.3h15.5v15.5h-15.5zM1698.1,1081.3h15.5v15.5h-15.5zM1698.6,1081.3h15.5v15.5h-15.5zM1699.2,1081.3h15.5v15.5h-15.5zM1699.7,1081.3h15.5v15.5h-15.5zM1700.2,1081.3h15.5v15.5h-15.5zM1700.8,1081.3h15.5v15.5h-15.5zM1701.3,1081.3h15.5v15.5h-15.5zM1701.8,1081.3h15.5v15.5h-15.5zM1702.4,1084.0h15.5v15.5h-15.5zM1702.9,1081.3h15.5v15.5h-15.5zM1703.5,1084.0h15.5v15.5h-15.5zM1704.0,1081.3h15.5v15.5h-15.5zM1704.5,1081.3h15.5v15.5h-15.5zM1705.1,1081.3h15.5v15.5h-15.5zM1705.6,1081.3h15.5v15.5h-15.5zM1706.2,1084.0h15.5v15.5h-15.5zM1706.7,1081.3h15.5v15.5h-15.5zM1707.2,1081.3h15.5v15.5h-15.5zM1707.8,1081.3h15.5v15.5h-15.5zM1708.3,1084.0h15.5v15.5h-15.5zM1708.8,1084.0h15.5v15.5h-15.5zM1709.4,1081.3h15.5v15.5h-15.5zM1709.9,1081.3h15.5v15.5h-15.5zM1710.5,1081.3h15.5v15.5h-15.5zM1711.0,1081.3h15.5v15.5h-15.5zM1711.5,1081.3h15.5v15.5h-15.5zM1712.1,1081.3h15.5v15.5h-15.5zM1712.6,1081.3h15.5v15.5h-15.5zM1713.2,1081.3h15.5v15.5h-15.5zM1713.7,1081.3h15.5v15.5h-15.5zM1714.2,1081.3h15.5v15.5h-15.5zM1714.8,1081.3h15.5v15.5h-15.5zM1715.3,1084.0h15.5v15.5h-15.5zM1715.9,1081.3h15.5v15.5h-15.5zM1716.4,1084.0h15.5v15.5h-15.5zM1716.9,1081.3h15.5v15.5h-15.5zM1717.5,1081.3h15.5v15.5h-15.5zM1718.0,1081.3h15.5v15.5h-15.5zM1718.5,1081.3h15.5v15.5h-15.5zM1719.1,1081.3h15.5v15.5h-15.5zM1719.6,1081.3h15.5v15.5h-15.5zM1720.2,1081.3h15.5v15.5h-15.5zM1720.7,1081.3h15.5v15.5h-15.5zM1721.2,1084.0h15.5v15.5h-15.5zM1721.8,1081.3h15.5v15.5h-15.5zM1722.3,1081.3h15.5v15.5h-15.5zM1722.9,1084.0h15.5v15.5h-15.5zM1723.4,1084.0h15.5v15.5h-15.5zM1723.9,1081.3h15.5v15.5h-15.5z" fill="none" stroke="#e41d20" stroke-width="2.8" filter="url(#soft)"/>
<line x1="336.5" y1="487" x2="480" y2="487" stroke="#7cae70" stroke-width="12.8" stroke-linecap="round"/>
<polygon points="468,454.8 524.3,487 468,519.5" fill="#7cae70"/>
<rect x="547.8" y="77.2" width="1240.6" height="844.8" fill="#fff" stroke="#0b9034" stroke-width="7.7"/>
<g stroke="#969696" stroke-width="2.3" fill="none">
<line x1="1031.7" y1="114" x2="1031.7" y2="793.4"/>
<line x1="1294.0" y1="114" x2="1294.0" y2="793.4"/>
<line x1="1559.0" y1="114" x2="1559.0" y2="793.4"/>
<line x1="766.1" y1="285.2" x2="1718" y2="285.2"/>
<line x1="766.1" y1="538.8" x2="1718" y2="538.8"/>
</g>
<rect x="1035.3" y="123.4" width="700" height="269" fill="#fff"/>
<g stroke="#000" stroke-width="7.7" fill="none">
<line x1="766.1" y1="113.8" x2="766.1" y2="815"/>
<line x1="745.6" y1="793.4" x2="1718" y2="793.4"/>
<line x1="1031.7" y1="793.4" x2="1031.7" y2="815"/>
<line x1="1294.0" y1="793.4" x2="1294.0" y2="815"/>
<line x1="1559.0" y1="793.4" x2="1559.0" y2="815"/>
<line x1="745.6" y1="285.2" x2="766.1" y2="285.2"/>
<line x1="745.6" y1="538.8" x2="766.1" y2="538.8"/>
</g>
<path d="M806.3,113.5 L807.6,121.1 L808.9,130.3 L810.2,139.8 L811.6,148.6 L812.9,156.7 L814.2,164.6 L815.5,172.3 L816.8,179.8 L818.2,187.2 L819.5,194.5 L820.8,201.7 L822.1,208.7 L823.5,215.6 L824.8,222.5 L826.1,229.2 L827.4,235.8 L828.7,242.4 L830.1,248.9 L831.4,255.3 L832.7,261.7 L834.0,268.0 L835.3,274.3 L836.7,280.6 L838.0,286.8 L839.3,292.9 L840.6,298.7 L842.0,304.4 L843.3,309.7 L844.6,314.9 L845.9,319.9 L847.2,324.8 L848.6,329.6 L849.9,334.3 L851.2,338.9 L852.5,343.5 L853.8,348.0 L855.2,352.6 L856.5,357.2 L857.8,362.0 L859.1,366.8 L860.5,371.7 L861.8,376.5 L863.1,381.4 L864.4,386.1 L865.7,390.7 L867.1,395.2 L868.4,399.3 L869.7,403.3 L871.0,406.9 L872.3,410.1 L873.7,413.0 L875.0,415.7 L876.3,418.2 L877.6,420.6 L879.0,422.9 L880.3,425.1 L881.6,427.2 L882.9,429.4 L884.2,431.6 L885.6,433.8 L886.9,436.2 L888.2,438.7 L889.5,441.2 L890.8,443.8 L892.2,446.5 L893.5,449.2 L894.8,451.9 L896.1,454.7 L897.5,457.4 L898.8,460.2 L900.1,462.9 L901.4,465.7 L902.7,468.4 L904.1,471.0 L905.4,473.7 L906.7,476.2 L908.0,478.7 L909.4,481.2 L910.7,483.5 L912.0,485.8 L913.3,488.0 L914.6,490.2 L916.0,492.4 L917.3,494.6 L918.6,496.7 L919.9,498.8 L921.2,500.8 L922.6,502.8 L923.9,504.8 L925.2,506.8 L926.5,508.7 L927.9,510.6 L929.2,512.5 L930.5,514.3 L931.8,516.1 L933.1,517.8 L934.5,519.6 L935.8,521.2 L937.1,522.9 L938.4,524.5 L939.7,526.1 L941.1,527.6 L942.4,529.2 L943.7,530.7 L945.0,532.2 L946.4,533.6 L947.7,535.1 L949.0,536.5 L950.3,537.9 L951.6,539.3 L953.0,540.6 L954.3,542.0 L955.6,543.3 L956.9,544.6 L958.2,546.0 L959.6,547.3 L960.9,548.5 L962.2,549.8 L963.5,551.1 L964.9,552.3 L966.2,553.5 L967.5,554.7 L968.8,555.9 L970.1,557.1 L971.5,558.3 L972.8,559.4 L974.1,560.6 L975.4,561.7 L976.7,562.9 L978.1,564.0 L979.4,565.1 L980.7,566.3 L982.0,567.4 L983.4,568.5 L984.7,569.6 L986.0,570.7 L987.3,571.8 L988.6,572.9 L990.0,574.0 L991.3,575.1 L992.6,576.2 L993.9,577.2 L995.2,578.3 L996.6,579.4 L997.9,580.4 L999.2,581.4 L1000.5,582.5 L1001.9,583.5 L1003.2,584.5 L1004.5,585.5 L1005.8,586.5 L1007.1,587.4 L1008.5,588.4 L1009.8,589.3 L1011.1,590.3 L1012.4,591.2 L1013.7,592.1 L1015.1,593.1 L1016.4,594.0 L1017.7,594.9 L1019.0,595.8 L1020.4,596.7 L1021.7,597.5 L1023.0,598.4 L1024.3,599.3 L1025.6,600.1 L1027.0,600.9 L1028.3,601.7 L1029.6,602.6 L1030.9,603.3 L1032.3,604.1 L1033.6,604.9 L1034.9,605.6 L1036.2,606.4 L1037.5,607.1 L1038.9,607.8 L1040.2,608.5 L1041.5,609.2 L1042.8,609.9 L1044.1,610.5 L1045.5,611.2 L1046.8,611.9 L1048.1,612.6 L1049.4,613.2 L1050.8,613.9 L1052.1,614.6 L1053.4,615.2 L1054.7,615.9 L1056.0,616.6 L1057.4,617.3 L1058.7,618.0 L1060.0,618.7 L1061.3,619.4 L1062.6,620.0 L1064.0,620.7 L1065.3,621.4 L1066.6,622.1 L1067.9,622.8 L1069.3,623.4 L1070.6,624.1 L1071.9,624.8 L1073.2,625.4 L1074.5,626.0 L1075.9,626.6 L1077.2,627.2 L1078.5,627.8 L1079.8,628.4 L1081.1,629.0 L1082.5,629.5 L1083.3,629.8 L1088.5,631.9 L1093.8,634.0 L1099.1,635.9 L1104.4,637.9 L1109.7,639.9 L1115.0,641.8 L1120.3,643.7 L1125.5,645.5 L1130.8,647.1 L1136.1,648.7 L1141.4,650.2 L1146.7,651.8 L1152.0,653.4 L1157.3,655.0 L1162.5,656.7 L1167.8,658.3 L1173.1,659.8 L1178.4,661.0 L1183.7,662.2 L1189.0,663.3 L1194.3,664.4 L1199.6,665.6 L1204.8,666.9 L1210.1,668.2 L1215.4,669.6 L1220.7,671.1 L1226.0,672.5 L1231.3,673.8 L1236.6,675.1 L1241.8,676.2 L1247.1,677.2 L1252.4,678.1 L1257.7,678.9 L1263.0,679.7 L1268.3,680.4 L1273.6,681.1 L1278.8,681.8 L1284.1,682.5 L1289.4,683.3 L1294.7,684.1 L1300.0,685.0 L1305.3,686.0 L1310.6,687.1 L1315.8,688.2 L1321.1,689.2 L1326.4,690.2 L1331.7,691.2 L1337.0,692.0 L1342.3,692.6 L1347.6,693.2 L1352.8,693.6 L1358.1,694.1 L1363.4,694.5 L1368.7,694.9 L1374.0,695.3 L1379.3,695.7 L1384.6,696.2 L1389.8,696.7 L1395.1,697.2 L1400.4,697.9 L1405.7,698.5 L1411.0,699.1 L1416.3,699.8 L1421.6,700.4 L1426.8,701.0 L1432.1,701.6 L1437.4,702.1 L1442.7,702.5 L1448.0,703.0 L1453.3,703.4 L1458.6,703.8 L1463.9,704.2 L1469.1,704.5 L1474.4,704.9 L1479.7,705.3 L1485.0,705.6 L1490.3,706.0 L1495.6,706.3 L1500.9,706.7 L1506.1,707.0 L1511.4,707.3 L1516.7,707.6 L1522.0,708.0 L1527.3,708.3 L1532.6,708.6 L1537.9,708.9 L1543.1,709.2 L1548.4,709.5 L1553.7,709.9 L1559.0,710.2 L1564.3,710.5 L1569.6,710.9 L1574.9,711.3 L1580.1,711.6 L1585.4,712.0 L1590.7,712.4 L1596.0,712.8 L1601.3,713.1 L1606.6,713.5 L1611.9,713.8 L1617.1,714.2 L1622.4,714.5 L1627.7,714.8 L1633.0,715.1 L1638.3,715.4 L1643.6,715.7 L1648.9,716.0 L1654.1,716.3 L1659.4,716.5 L1664.7,716.8 L1670.0,717.0 L1675.3,717.3 L1680.6,717.5 L1685.9,717.7 L1691.2,718.0 L1696.4,718.2 L1701.7,718.4 L1707.0,718.6 L1712.3,718.8 L1717.6,719.0" fill="none" stroke="#000" stroke-width="4.3" stroke-linejoin="round"/>
<path d="M803.4,109.1h15.3v15.3h-15.3zM808.6,140.5h15.3v15.3h-15.3zM813.6,192.3h15.3v15.3h-15.3zM818.8,254.9h15.3v15.3h-15.3zM823.4,288.1h15.3v15.3h-15.3zM829.2,280.4h15.3v15.3h-15.3zM835.2,272.6h15.3v15.3h-15.3zM840.0,298.5h15.3v15.3h-15.3zM845.0,347.9h15.3v15.3h-15.3zM849.6,396.8h15.3v15.3h-15.3zM855.4,410.6h15.3v15.3h-15.3zM860.8,404.8h15.3v15.3h-15.3zM865.6,398.4h15.3v15.3h-15.3zM871.6,406.1h15.3v15.3h-15.3zM876.1,418.4h15.3v15.3h-15.3zM881.1,444.2h15.3v15.3h-15.3zM886.8,472.3h15.3v15.3h-15.3zM892.0,488.0h15.3v15.3h-15.3zM897.1,488.0h15.3v15.3h-15.3zM902.4,480.2h15.3v15.3h-15.3zM907.4,474.3h15.3v15.3h-15.3zM913.0,485.0h15.3v15.3h-15.3zM918.0,508.2h15.3v15.3h-15.3zM922.7,529.7h15.3v15.3h-15.3zM927.9,529.6h15.3v15.3h-15.3zM933.1,524.7h15.3v15.3h-15.3zM938.3,519.1h15.3v15.3h-15.3zM943.5,507.9h15.3v15.3h-15.3zM948.7,527.6h15.3v15.3h-15.3zM953.9,541.3h15.3v15.3h-15.3zM959.1,563.1h15.3v15.3h-15.3zM964.2,569.2h15.3v15.3h-15.3zM969.4,559.0h15.3v15.3h-15.3zM974.6,544.9h15.3v15.3h-15.3zM979.8,553.6h15.3v15.3h-15.3zM985.0,569.4h15.3v15.3h-15.3zM990.2,577.6h15.3v15.3h-15.3zM995.4,592.0h15.3v15.3h-15.3zM1000.6,586.7h15.3v15.3h-15.3zM1005.8,579.6h15.3v15.3h-15.3zM1011.0,574.7h15.3v15.3h-15.3zM1016.1,580.1h15.3v15.3h-15.3zM1021.3,593.1h15.3v15.3h-15.3zM1026.5,608.1h15.3v15.3h-15.3zM1031.7,613.4h15.3v15.3h-15.3zM1036.9,610.8h15.3v15.3h-15.3zM1042.1,597.8h15.3v15.3h-15.3zM1047.3,597.9h15.3v15.3h-15.3zM1052.5,605.1h15.3v15.3h-15.3zM1057.7,616.7h15.3v15.3h-15.3zM1062.8,624.9h15.3v15.3h-15.3zM1068.0,626.6h15.3v15.3h-15.3zM1073.2,622.6h15.3v15.3h-15.3zM1078.4,616.1h15.3v15.3h-15.3zM1083.6,618.5h15.3v15.3h-15.3zM1088.8,620.9h15.3v15.3h-15.3zM1094.0,628.2h15.3v15.3h-15.3zM1099.2,633.0h15.3v15.3h-15.3zM1104.4,637.8h15.3v15.3h-15.3zM1109.6,635.4h15.3v15.3h-15.3zM1114.8,633.0h15.3v15.3h-15.3zM1119.9,635.4h15.3v15.3h-15.3zM1125.1,637.8h15.3v15.3h-15.3zM1130.3,645.1h15.3v15.3h-15.3zM1135.5,647.5h15.3v15.3h-15.3zM1140.7,649.9h15.3v15.3h-15.3zM1145.9,642.6h15.3v15.3h-15.3zM1151.1,640.2h15.3v15.3h-15.3zM1156.3,642.6h15.3v15.3h-15.3zM1161.5,649.9h15.3v15.3h-15.3zM1166.7,657.1h15.3v15.3h-15.3zM1171.8,657.1h15.3v15.3h-15.3zM1177.0,654.7h15.3v15.3h-15.3zM1182.2,657.1h15.3v15.3h-15.3zM1187.4,652.3h15.3v15.3h-15.3zM1192.6,657.1h15.3v15.3h-15.3zM1197.8,662.0h15.3v15.3h-15.3zM1203.0,662.0h15.3v15.3h-15.3zM1208.2,664.4h15.3v15.3h-15.3zM1213.4,664.4h15.3v15.3h-15.3zM1218.5,659.5h15.3v15.3h-15.3zM1223.7,659.5h15.3v15.3h-15.3zM1228.9,666.8h15.3v15.3h-15.3zM1234.1,666.8h15.3v15.3h-15.3zM1239.3,671.6h15.3v15.3h-15.3zM1244.5,671.6h15.3v15.3h-15.3zM1249.7,671.6h15.3v15.3h-15.3zM1254.9,666.8h15.3v15.3h-15.3zM1260.1,671.6h15.3v15.3h-15.3zM1265.3,674.0h15.3v15.3h-15.3zM1270.4,676.4h15.3v15.3h-15.3zM1275.6,678.9h15.3v15.3h-15.3zM1280.8,674.0h15.3v15.3h-15.3zM1286.0,674.0h15.3v15.3h-15.3zM1291.2,676.4h15.3v15.3h-15.3zM1296.4,676.4h15.3v15.3h-15.3zM1301.6,681.3h15.3v15.3h-15.3zM1306.8,678.9h15.3v15.3h-15.3zM1312.0,681.3h15.3v15.3h-15.3zM1317.2,686.1h15.3v15.3h-15.3zM1322.3,681.3h15.3v15.3h-15.3zM1327.5,683.7h15.3v15.3h-15.3zM1332.7,681.3h15.3v15.3h-15.3zM1337.9,683.7h15.3v15.3h-15.3zM1343.1,688.5h15.3v15.3h-15.3zM1348.3,686.1h15.3v15.3h-15.3zM1353.5,686.1h15.3v15.3h-15.3zM1358.7,683.7h15.3v15.3h-15.3zM1363.9,688.5h15.3v15.3h-15.3zM1369.1,688.5h15.3v15.3h-15.3zM1374.2,686.1h15.3v15.3h-15.3zM1379.4,690.9h15.3v15.3h-15.3zM1384.6,688.5h15.3v15.3h-15.3zM1389.8,688.5h15.3v15.3h-15.3zM1395.0,686.1h15.3v15.3h-15.3zM1400.2,690.9h15.3v15.3h-15.3zM1405.4,688.5h15.3v15.3h-15.3zM1410.6,690.9h15.3v15.3h-15.3zM1415.8,695.8h15.3v15.3h-15.3zM1421.0,695.8h15.3v15.3h-15.3zM1426.1,690.9h15.3v15.3h-15.3zM1431.3,693.3h15.3v15.3h-15.3zM1436.5,693.3h15.3v15.3h-15.3zM1441.7,695.8h15.3v15.3h-15.3zM1446.9,695.8h15.3v15.3h-15.3zM1452.1,698.2h15.3v15.3h-15.3zM1457.3,695.8h15.3v15.3h-15.3zM1462.5,695.8h15.3v15.3h-15.3zM1467.7,698.2h15.3v15.3h-15.3zM1472.9,698.2h15.3v15.3h-15.3zM1478.0,695.8h15.3v15.3h-15.3zM1483.2,700.6h15.3v15.3h-15.3zM1488.4,700.6h15.3v15.3h-15.3zM1493.6,700.6h15.3v15.3h-15.3zM1498.8,698.2h15.3v15.3h-15.3zM1504.0,700.6h15.3v15.3h-15.3zM1509.2,698.2h15.3v15.3h-15.3zM1514.4,703.0h15.3v15.3h-15.3zM1519.6,703.0h15.3v15.3h-15.3zM1524.8,705.4h15.3v15.3h-15.3zM1530.0,698.2h15.3v15.3h-15.3zM1535.1,698.2h15.3v15.3h-15.3zM1540.3,700.6h15.3v15.3h-15.3zM1545.5,703.0h15.3v15.3h-15.3zM1550.7,703.0h15.3v15.3h-15.3zM1555.9,705.4h15.3v15.3h-15.3zM1561.1,703.0h15.3v15.3h-15.3zM1566.3,705.4h15.3v15.3h-15.3zM1571.5,703.0h15.3v15.3h-15.3zM1576.7,703.0h15.3v15.3h-15.3zM1581.8,703.0h15.3v15.3h-15.3zM1587.0,703.0h15.3v15.3h-15.3zM1592.2,707.8h15.3v15.3h-15.3zM1597.4,707.8h15.3v15.3h-15.3zM1602.6,705.4h15.3v15.3h-15.3zM1607.8,707.8h15.3v15.3h-15.3zM1613.0,705.4h15.3v15.3h-15.3zM1618.2,710.2h15.3v15.3h-15.3zM1623.4,707.8h15.3v15.3h-15.3zM1628.6,710.2h15.3v15.3h-15.3zM1633.8,705.4h15.3v15.3h-15.3zM1638.9,710.2h15.3v15.3h-15.3zM1644.1,707.8h15.3v15.3h-15.3zM1649.3,705.4h15.3v15.3h-15.3zM1654.5,710.2h15.3v15.3h-15.3zM1659.7,710.2h15.3v15.3h-15.3zM1664.9,707.8h15.3v15.3h-15.3zM1670.1,712.7h15.3v15.3h-15.3zM1675.3,707.8h15.3v15.3h-15.3zM1680.5,712.7h15.3v15.3h-15.3zM1685.7,710.2h15.3v15.3h-15.3zM1690.8,712.7h15.3v15.3h-15.3zM1696.0,712.7h15.3v15.3h-15.3zM1701.2,715.1h15.3v15.3h-15.3zM1706.4,710.2h15.3v15.3h-15.3zM1711.6,710.2h15.3v15.3h-15.3z" fill="none" stroke="#e41d20" stroke-width="2.5" filter="url(#soft)"/>
<rect x="1090.8" y="171.3" width="25.4" height="26.9" fill="none" stroke="#e41d20" stroke-width="5.3"/>
<line x1="1053.7" y1="258.2" x2="1152.8" y2="258.2" stroke="#2aa9e0" stroke-width="9.1"/>
<line x1="1053.7" y1="331" x2="1152.8" y2="331" stroke="#000" stroke-width="10.1"/>
<text transform="translate(15.63,66.60) scale(1,1.0071)" font-size="68.12"><tspan class="i">I</tspan>/<tspan class="i">I</tspan>(0)</text>
<text transform="translate(14.55,166.00) scale(1,1.0388)" font-size="69.60">1.00</text>
<text transform="translate(13.43,553.50) scale(1,1.0460)" font-size="69.98">0.96</text>
<text transform="translate(13.43,941.20) scale(1,1.0436)" font-size="70.14">0.92</text>
<text transform="translate(13.47,1327.80) scale(1,1.0617)" font-size="68.95">0.88</text>
<text transform="translate(176.20,1408.60) scale(1,0.9702)" font-size="73.59">0</text>
<text transform="translate(415.54,1408.60) scale(1,0.9964)" font-size="71.66">500</text>
<text transform="translate(673.18,1408.60) scale(1,1.0142)" font-size="70.40">1000</text>
<text transform="translate(949.54,1408.60) scale(1,1.0288)" font-size="69.40">1500</text>
<text transform="translate(1221.76,1408.60) scale(1,1.0162)" font-size="70.26">2000</text>
<text transform="translate(1495.63,1408.60) scale(1,1.0080)" font-size="70.83">2500</text>
<text transform="translate(1673.08,1402.70) scale(1,1.0047)" font-size="67.29"><tspan class="i">t</tspan>, ms</text>
<text transform="translate(586.61,163.80) scale(1,1.0001)" font-size="64.40"><tspan class="i">I</tspan>/<tspan class="i">I</tspan>(0)</text>
<text transform="translate(586.68,305.70) scale(1,1.0410)" font-size="68.78">0.94</text>
<text transform="translate(586.67,561.20) scale(1,1.0375)" font-size="69.01">0.91</text>
<text transform="translate(586.68,815.10) scale(1,1.0430)" font-size="68.65">0.88</text>
<text transform="translate(749.41,895.90) scale(1,0.9733)" font-size="73.36">0</text>
<text transform="translate(995.95,895.90) scale(1,1.0243)" font-size="69.71">50</text>
<text transform="translate(1241.47,895.90) scale(1,0.9986)" font-size="71.50">100</text>
<text transform="translate(1505.60,895.90) scale(1,1.0056)" font-size="71.00">150</text>
<text transform="translate(1643.38,893.30) scale(1,1.0047)" font-size="67.29"><tspan class="i">t</tspan>, ms</text>
<text transform="translate(1174.70,202.20) scale(1,1.0257)" font-size="63.37">Experiment</text>
<text transform="translate(1174.69,275.50) scale(1,1.0191)" font-size="63.78">Not correct theory fit</text>
<text transform="translate(1175.75,348.70) scale(1,1.0195)" font-size="63.76">Correct theory fit</text>
</svg></body></html>
